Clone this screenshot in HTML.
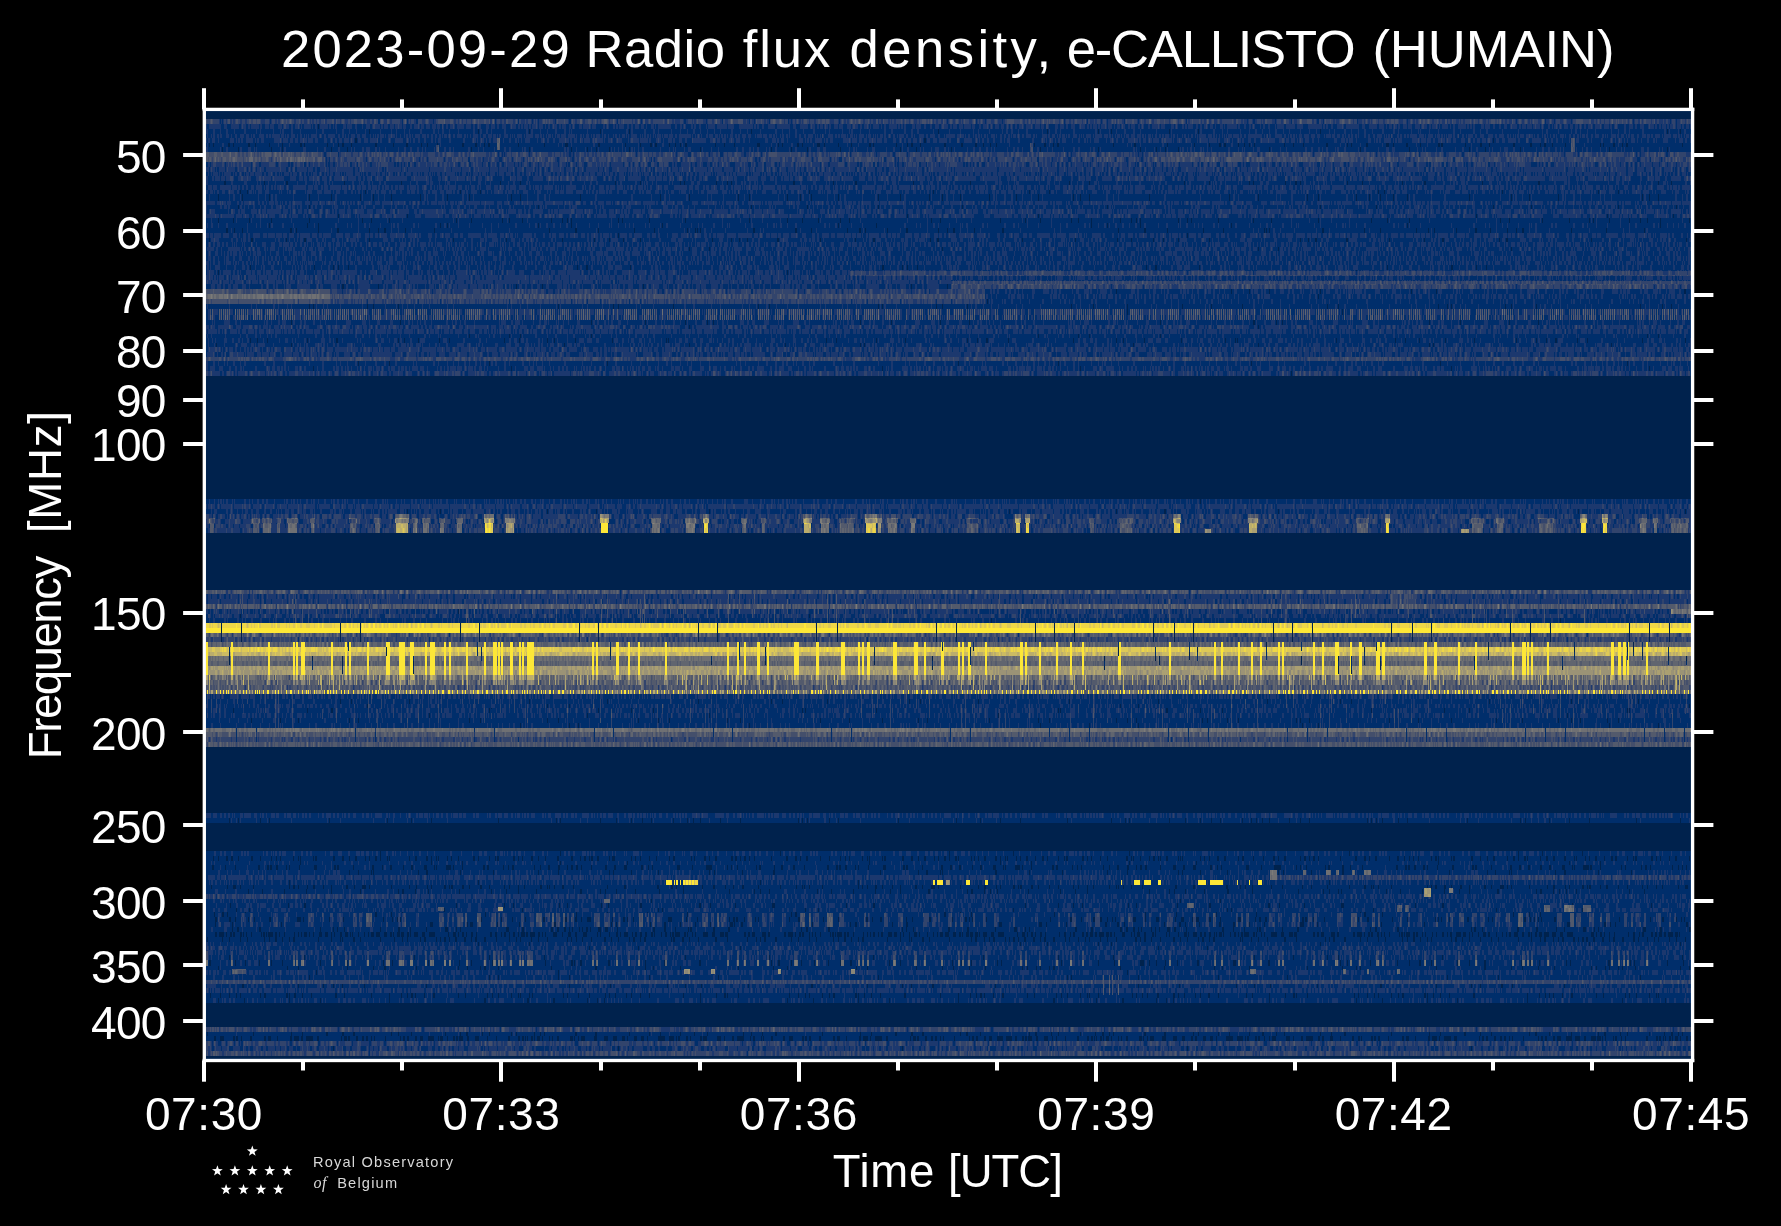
<!DOCTYPE html>
<html><head><meta charset="utf-8"><title>2023-09-29 Radio flux density, e-CALLISTO (HUMAIN)</title>
<style>
html,body{margin:0;padding:0;background:#000;}
body{width:1781px;height:1226px;position:relative;overflow:hidden;font-family:"Liberation Sans",sans-serif;color:#fff;}
.t{position:absolute;white-space:nowrap;line-height:1;}
.yl{right:1615.3px;font-size:46px;transform:translateY(-50%);margin-top:1.5px;letter-spacing:-0.7px;}
.xl{top:1090.5px;font-size:46px;transform:translateX(-50%);letter-spacing:0.6px;}
.lg{font-size:14.6px;letter-spacing:1.2px;color:#d8d8d8;}
</style></head><body>
<svg width="1781" height="1226" viewBox="0 0 1781 1226" style="position:absolute;left:0;top:0">
<defs>
<linearGradient id="g3" x1="0" y1="0" x2="0" y2="1"><stop offset="0" stop-color="rgb(0,0,128)"/><stop offset="1" stop-color="rgb(0,0,80)"/></linearGradient>
<linearGradient id="g4" x1="0" y1="0" x2="0" y2="1"><stop offset="0" stop-color="rgb(0,0,128)"/><stop offset="1" stop-color="rgb(0,0,64)"/></linearGradient>
<linearGradient id="g5" x1="0" y1="0" x2="0" y2="1"><stop offset="0" stop-color="rgb(0,0,128)"/><stop offset="1" stop-color="rgb(0,0,48)"/></linearGradient>
<linearGradient id="g6" x1="0" y1="0" x2="0" y2="1"><stop offset="0" stop-color="rgb(0,0,128)"/><stop offset="1" stop-color="rgb(0,0,32)"/></linearGradient>
<linearGradient id="g7" x1="0" y1="0" x2="0" y2="1"><stop offset="0" stop-color="rgb(0,0,128)"/><stop offset="1" stop-color="rgb(0,0,16)"/></linearGradient>
<linearGradient id="g8" x1="0" y1="0" x2="0" y2="1"><stop offset="0" stop-color="rgb(0,0,128)"/><stop offset="1" stop-color="rgb(0,0,0)"/></linearGradient>
<linearGradient id="g24" x1="0" y1="0" x2="0" y2="1"><stop offset="0" stop-color="rgb(0,0,128)"/><stop offset="1" stop-color="rgb(0,0,0)"/></linearGradient>
<linearGradient id="g28" x1="0" y1="0" x2="0" y2="1"><stop offset="0" stop-color="rgb(0,0,128)"/><stop offset="1" stop-color="rgb(0,0,0)"/></linearGradient>
<linearGradient id="g57" x1="0" y1="0" x2="0" y2="1"><stop offset="0" stop-color="rgb(0,0,128)"/><stop offset="1" stop-color="rgb(0,0,0)"/></linearGradient>
<linearGradient id="g66" x1="0" y1="0" x2="0" y2="1"><stop offset="0" stop-color="rgb(0,0,128)"/><stop offset="1" stop-color="rgb(0,0,0)"/></linearGradient>
<linearGradient id="g123" x1="0" y1="0" x2="0" y2="1"><stop offset="0" stop-color="rgb(0,0,128)"/><stop offset="1" stop-color="rgb(0,0,0)"/></linearGradient>
<filter id="f" filterUnits="userSpaceOnUse" x="206" y="111" width="1485" height="948" color-interpolation-filters="sRGB">
<feTurbulence type="fractalNoise" baseFrequency="0.45 0.63" numOctaves="1" seed="7" result="t"/>
<feColorMatrix in="t" type="matrix" values="1 0 0 0 0 0 1 0 0 0 0 0 1 0 0 0 0 0 0 1" result="t1"/>
<feColorMatrix in="SourceGraphic" type="matrix" values="0 0 0 0 0.502 0 0 1 0 0 0 0 0 0 0 0 0 0 0 1" result="dm"/>
<feDisplacementMap in="t1" in2="dm" scale="16" xChannelSelector="R" yChannelSelector="G" result="nb"/>
<feColorMatrix in="nb" type="matrix" values="1 0 0 0 0 1 0 0 0 0 1 0 0 0 0 0 0 0 0 1" result="n1"/>
<feComponentTransfer in="n1" result="n2"><feFuncR type="table" tableValues="0.000 0.031 0.062 0.094 0.125 0.156 0.188 0.219 0.250 0.281 0.312 0.344 0.375 0.406 0.438 0.469 0.500 0.531 0.562 0.594 0.625 0.668 0.721 0.774 0.827 0.880 0.933 0.986 1.000 1.000 1.000 1.000 1.000"/><feFuncG type="table" tableValues="0.000 0.031 0.062 0.094 0.125 0.156 0.188 0.219 0.250 0.281 0.312 0.344 0.375 0.406 0.438 0.469 0.500 0.531 0.562 0.594 0.625 0.668 0.721 0.774 0.827 0.880 0.933 0.986 1.000 1.000 1.000 1.000 1.000"/><feFuncB type="table" tableValues="0.000 0.031 0.062 0.094 0.125 0.156 0.188 0.219 0.250 0.281 0.312 0.344 0.375 0.406 0.438 0.469 0.500 0.531 0.562 0.594 0.625 0.668 0.721 0.774 0.827 0.880 0.933 0.986 1.000 1.000 1.000 1.000 1.000"/></feComponentTransfer>
<feColorMatrix in="SourceGraphic" type="matrix" values="0 1 0 0 0 0 1 0 0 0 0 1 0 0 0 0 0 0 0 1" result="a"/>
<feColorMatrix in="SourceGraphic" type="matrix" values="1 0 0 0 0 1 0 0 0 0 1 0 0 0 0 0 0 0 0 1" result="m"/>
<feComposite in="a" in2="n2" operator="arithmetic" k1="1" k2="0" k3="0" k4="0" result="an"/>
<feComposite in="m" in2="an" operator="arithmetic" k1="0" k2="1" k3="1" k4="0" result="v"/>
<feComponentTransfer in="v"><feFuncR type="discrete" tableValues="0.0000 0.0000 0.1107 0.1998 0.2677 0.3279 0.3843 0.4385 0.4887 0.5478 0.6091 0.6720 0.7365 0.8027 0.8707 0.9367 0.9957"/><feFuncG type="discrete" tableValues="0.1351 0.1816 0.2232 0.2671 0.3105 0.3540 0.3979 0.4426 0.4853 0.5319 0.5798 0.6293 0.6806 0.7340 0.7896 0.8438 0.9093"/><feFuncB type="discrete" tableValues="0.3048 0.4219 0.4351 0.4255 0.4228 0.4267 0.4365 0.4523 0.4710 0.4717 0.4636 0.4480 0.4240 0.3902 0.3433 0.2809 0.2178"/></feComponentTransfer>
</filter>
</defs>
<g filter="url(#f)" shape-rendering="crispEdges">
<rect x="206" y="111" width="1485" height="8" fill="rgb(8,0,0)"/>
<rect x="206" y="119" width="1485" height="5" fill="rgb(0,100,0)"/>
<rect x="206" y="124" width="1485" height="5" fill="rgb(0,65,0)"/>
<rect x="206" y="129" width="1485" height="5" fill="rgb(0,51,0)"/>
<rect x="206" y="134" width="1485" height="4" fill="rgb(0,60,0)"/>
<rect x="206" y="138" width="1485" height="5" fill="rgb(0,60,0)"/>
<rect x="206" y="143" width="1485" height="4" fill="rgb(0,41,0)"/>
<rect x="206" y="147" width="1485" height="5" fill="rgb(0,49,0)"/>
<rect x="206" y="152" width="1485" height="5" fill="rgb(4,89,0)"/>
<rect x="206" y="157" width="1485" height="5" fill="rgb(4,89,0)"/>
<rect x="206" y="162" width="1485" height="5" fill="rgb(0,79,0)"/>
<rect x="206" y="167" width="1485" height="5" fill="rgb(0,74,0)"/>
<rect x="206" y="172" width="1485" height="4" fill="rgb(0,62,0)"/>
<rect x="206" y="176" width="1485" height="5" fill="rgb(0,67,0)"/>
<rect x="206" y="181" width="1485" height="4" fill="rgb(0,49,0)"/>
<rect x="206" y="185" width="1485" height="5" fill="rgb(0,63,0)"/>
<rect x="206" y="190" width="1485" height="4" fill="rgb(0,58,0)"/>
<rect x="206" y="194" width="1485" height="7" fill="rgb(0,48,0)"/>
<rect x="206" y="201" width="1485" height="4" fill="rgb(0,68,0)"/>
<rect x="206" y="205" width="1485" height="4" fill="rgb(0,53,0)"/>
<rect x="206" y="209" width="1485" height="5" fill="rgb(0,68,0)"/>
<rect x="206" y="214" width="1485" height="4" fill="rgb(0,68,0)"/>
<rect x="206" y="218" width="1485" height="5" fill="rgb(0,43,0)"/>
<rect x="206" y="223" width="1485" height="5" fill="rgb(0,50,0)"/>
<rect x="206" y="228" width="1485" height="5" fill="rgb(0,43,0)"/>
<rect x="206" y="233" width="1485" height="5" fill="rgb(6,51,0)"/>
<rect x="206" y="238" width="1485" height="4" fill="rgb(0,53,0)"/>
<rect x="206" y="242" width="1485" height="5" fill="rgb(0,58,0)"/>
<rect x="206" y="247" width="1485" height="4" fill="rgb(0,58,0)"/>
<rect x="206" y="251" width="1485" height="5" fill="rgb(0,58,0)"/>
<rect x="206" y="256" width="1485" height="5" fill="rgb(0,58,0)"/>
<rect x="206" y="261" width="1485" height="4" fill="rgb(0,58,0)"/>
<rect x="206" y="265" width="1485" height="5" fill="rgb(0,53,0)"/>
<rect x="206" y="270" width="1485" height="5" fill="rgb(0,64,0)"/>
<rect x="206" y="275" width="1485" height="5" fill="rgb(0,70,0)"/>
<rect x="206" y="280" width="1485" height="4" fill="rgb(0,70,0)"/>
<rect x="206" y="284" width="1485" height="5" fill="rgb(0,59,0)"/>
<rect x="206" y="289" width="1485" height="5" fill="rgb(2,89,0)"/>
<rect x="206" y="294" width="1485" height="5" fill="rgb(19,89,0)"/>
<rect x="206" y="299" width="1485" height="5" fill="rgb(2,89,0)"/>
<rect x="206" y="304" width="1485" height="5" fill="rgb(0,47,0)"/>
<rect x="206" y="309" width="1485" height="6" fill="rgb(0,65,0)"/>
<rect x="206" y="315" width="1485" height="5" fill="rgb(0,60,0)"/>
<rect x="206" y="320" width="1485" height="5" fill="rgb(0,51,0)"/>
<rect x="206" y="325" width="1485" height="4" fill="rgb(0,71,0)"/>
<rect x="206" y="329" width="1485" height="5" fill="rgb(0,65,0)"/>
<rect x="206" y="334" width="1485" height="4" fill="rgb(0,51,0)"/>
<rect x="206" y="338" width="1485" height="5" fill="rgb(0,51,0)"/>
<rect x="206" y="343" width="1485" height="4" fill="rgb(0,55,0)"/>
<rect x="206" y="347" width="1485" height="5" fill="rgb(0,71,0)"/>
<rect x="206" y="352" width="1485" height="5" fill="rgb(0,65,0)"/>
<rect x="206" y="357" width="1485" height="4" fill="rgb(16,76,0)"/>
<rect x="206" y="361" width="1485" height="5" fill="rgb(0,51,0)"/>
<rect x="206" y="366" width="1485" height="5" fill="rgb(0,56,0)"/>
<rect x="206" y="371" width="1485" height="5" fill="rgb(0,76,0)"/>
<rect x="206" y="376" width="1485" height="123" fill="rgb(8,0,0)"/>
<rect x="206" y="499" width="1485" height="5" fill="rgb(0,56,0)"/>
<rect x="206" y="504" width="1485" height="5" fill="rgb(0,72,0)"/>
<rect x="206" y="509" width="1485" height="5" fill="rgb(0,56,0)"/>
<rect x="206" y="514" width="1485" height="5" fill="rgb(0,79,0)"/>
<rect x="206" y="519" width="1485" height="5" fill="rgb(0,79,0)"/>
<rect x="206" y="524" width="1485" height="4" fill="rgb(0,79,0)"/>
<rect x="206" y="528" width="1485" height="5" fill="rgb(0,79,0)"/>
<rect x="206" y="533" width="1485" height="57" fill="rgb(8,0,0)"/>
<rect x="206" y="590" width="1485" height="4" fill="rgb(0,141,0)"/>
<rect x="206" y="594" width="1485" height="5" fill="rgb(0,73,0)"/>
<rect x="206" y="599" width="1485" height="5" fill="rgb(0,73,0)"/>
<rect x="206" y="604" width="1485" height="5" fill="rgb(0,155,0)"/>
<rect x="206" y="609" width="1485" height="5" fill="rgb(0,65,0)"/>
<rect x="206" y="614" width="1485" height="4" fill="rgb(0,69,0)"/>
<rect x="206" y="618" width="1485" height="5" fill="rgb(0,54,0)"/>
<rect x="206" y="623" width="1485" height="5" fill="rgb(183,89,0)"/>
<rect x="206" y="628" width="1485" height="5" fill="rgb(255,5,0)"/>
<rect x="206" y="633" width="1485" height="4" fill="rgb(1,153,0)"/>
<rect x="206" y="637" width="1485" height="5" fill="rgb(0,107,0)"/>
<rect x="206" y="642" width="1485" height="5" fill="rgb(26,128,0)"/>
<rect x="206" y="647" width="1485" height="5" fill="rgb(180,76,0)"/>
<rect x="206" y="652" width="1485" height="4" fill="rgb(156,76,0)"/>
<rect x="206" y="656" width="1485" height="5" fill="rgb(68,76,0)"/>
<rect x="206" y="661" width="1485" height="5" fill="rgb(54,76,0)"/>
<rect x="206" y="666" width="1485" height="4" fill="rgb(124,76,0)"/>
<rect x="206" y="670" width="1485" height="5" fill="rgb(124,76,0)"/>
<rect x="206" y="675" width="1485" height="5" fill="rgb(0,203,0)"/>
<rect x="206" y="680" width="1485" height="5" fill="rgb(0,169,0)"/>
<rect x="206" y="685" width="1485" height="5" fill="rgb(0,145,0)"/>
<rect x="206" y="690" width="1485" height="4" fill="rgb(30,153,0)"/>
<rect x="206" y="694" width="1485" height="5" fill="rgb(0,60,0)"/>
<rect x="206" y="699" width="1485" height="5" fill="rgb(0,50,0)"/>
<rect x="206" y="704" width="1485" height="4" fill="rgb(0,54,0)"/>
<rect x="206" y="708" width="1485" height="5" fill="rgb(0,54,0)"/>
<rect x="206" y="713" width="1485" height="5" fill="rgb(0,56,0)"/>
<rect x="206" y="718" width="1485" height="5" fill="rgb(0,46,0)"/>
<rect x="206" y="723" width="1485" height="5" fill="rgb(0,51,0)"/>
<rect x="206" y="728" width="1485" height="4" fill="rgb(71,76,0)"/>
<rect x="206" y="732" width="1485" height="5" fill="rgb(24,107,0)"/>
<rect x="206" y="737" width="1485" height="5" fill="rgb(0,107,0)"/>
<rect x="206" y="742" width="1485" height="5" fill="rgb(20,107,0)"/>
<rect x="206" y="747" width="1485" height="66" fill="rgb(8,0,0)"/>
<rect x="206" y="813" width="1485" height="5" fill="rgb(0,61,0)"/>
<rect x="206" y="818" width="1485" height="5" fill="rgb(0,45,0)"/>
<rect x="206" y="823" width="1485" height="28" fill="rgb(8,0,0)"/>
<rect x="206" y="851" width="1485" height="5" fill="rgb(0,53,0)"/>
<rect x="206" y="856" width="1485" height="5" fill="rgb(0,34,0)"/>
<rect x="206" y="861" width="1485" height="4" fill="rgb(0,52,0)"/>
<rect x="206" y="865" width="1485" height="5" fill="rgb(0,39,0)"/>
<rect x="206" y="870" width="1485" height="5" fill="rgb(0,48,0)"/>
<rect x="206" y="875" width="1485" height="5" fill="rgb(0,59,0)"/>
<rect x="206" y="880" width="1485" height="5" fill="rgb(0,56,0)"/>
<rect x="206" y="885" width="1485" height="4" fill="rgb(0,38,0)"/>
<rect x="206" y="889" width="1485" height="5" fill="rgb(0,45,0)"/>
<rect x="206" y="894" width="1485" height="5" fill="rgb(0,59,0)"/>
<rect x="206" y="899" width="1485" height="4" fill="rgb(0,56,0)"/>
<rect x="206" y="903" width="1485" height="5" fill="rgb(0,52,0)"/>
<rect x="206" y="908" width="1485" height="4" fill="rgb(0,56,0)"/>
<rect x="206" y="912" width="1485" height="5" fill="rgb(0,45,0)"/>
<rect x="206" y="917" width="1485" height="5" fill="rgb(0,39,0)"/>
<rect x="206" y="922" width="1485" height="5" fill="rgb(0,45,0)"/>
<rect x="206" y="927" width="1485" height="5" fill="rgb(0,44,0)"/>
<rect x="206" y="932" width="1485" height="5" fill="rgb(0,32,0)"/>
<rect x="206" y="937" width="1485" height="5" fill="rgb(0,36,0)"/>
<rect x="206" y="942" width="1485" height="4" fill="rgb(0,54,0)"/>
<rect x="206" y="946" width="1485" height="4" fill="rgb(0,59,0)"/>
<rect x="206" y="950" width="1485" height="5" fill="rgb(0,60,0)"/>
<rect x="206" y="955" width="1485" height="5" fill="rgb(0,51,0)"/>
<rect x="206" y="960" width="1485" height="6" fill="rgb(0,48,0)"/>
<rect x="206" y="966" width="1485" height="4" fill="rgb(0,44,0)"/>
<rect x="206" y="970" width="1485" height="5" fill="rgb(0,61,0)"/>
<rect x="206" y="975" width="1485" height="5" fill="rgb(0,51,0)"/>
<rect x="206" y="980" width="1485" height="4" fill="rgb(12,89,0)"/>
<rect x="206" y="984" width="1485" height="4" fill="rgb(0,54,0)"/>
<rect x="206" y="988" width="1485" height="5" fill="rgb(0,64,0)"/>
<rect x="206" y="993" width="1485" height="5" fill="rgb(0,39,0)"/>
<rect x="206" y="998" width="1485" height="5" fill="rgb(0,51,0)"/>
<rect x="206" y="1003" width="1485" height="24" fill="rgb(8,0,0)"/>
<rect x="206" y="1027" width="1485" height="5" fill="rgb(3,102,0)"/>
<rect x="206" y="1032" width="1485" height="4" fill="rgb(0,42,0)"/>
<rect x="206" y="1036" width="1485" height="5" fill="rgb(0,32,0)"/>
<rect x="206" y="1041" width="1485" height="5" fill="rgb(2,89,0)"/>
<rect x="206" y="1046" width="1485" height="5" fill="rgb(0,68,0)"/>
<rect x="206" y="1051" width="1485" height="5" fill="rgb(5,102,0)"/>
<rect x="206" y="1056" width="1485" height="3" fill="rgb(8,0,0)"/>
<rect x="206" y="152" width="116" height="5" fill="rgb(24,89,0)"/>
<rect x="206" y="157" width="116" height="5" fill="rgb(28,89,0)"/>
<rect x="1150" y="152" width="207" height="5" fill="rgb(12,89,0)"/>
<rect x="1150" y="157" width="207" height="5" fill="rgb(16,89,0)"/>
<rect x="1357" y="152" width="279" height="5" fill="rgb(3,89,0)"/>
<rect x="1357" y="157" width="279" height="5" fill="rgb(8,89,0)"/>
<rect x="206" y="289" width="124" height="5" fill="rgb(21,89,0)"/>
<rect x="206" y="294" width="124" height="5" fill="rgb(68,76,0)"/>
<rect x="206" y="299" width="124" height="5" fill="rgb(21,89,0)"/>
<rect x="985" y="289" width="706" height="5" fill="rgb(0,55,0)"/>
<rect x="985" y="294" width="706" height="5" fill="rgb(0,57,0)"/>
<rect x="985" y="299" width="706" height="5" fill="rgb(0,53,0)"/>
<rect x="850" y="271" width="841" height="5" fill="rgb(7,89,0)"/>
<rect x="951" y="281" width="740" height="4" fill="rgb(12,89,0)"/>
<rect x="951" y="285" width="740" height="4" fill="rgb(7,89,0)"/>
<rect x="951" y="276" width="740" height="5" fill="rgb(0,59,0)"/>
<rect x="210" y="309" width="1" height="11" fill="rgb(29,102,0)"/>
<rect x="212" y="309" width="1" height="11" fill="rgb(29,102,0)"/>
<rect x="219" y="309" width="1" height="11" fill="rgb(29,102,0)"/>
<rect x="221" y="309" width="1" height="11" fill="rgb(29,102,0)"/>
<rect x="223" y="309" width="1" height="11" fill="rgb(29,102,0)"/>
<rect x="225" y="309" width="1" height="11" fill="rgb(29,102,0)"/>
<rect x="227" y="309" width="1" height="11" fill="rgb(29,102,0)"/>
<rect x="229" y="309" width="1" height="11" fill="rgb(29,102,0)"/>
<rect x="235" y="309" width="1" height="11" fill="rgb(29,102,0)"/>
<rect x="237" y="309" width="1" height="11" fill="rgb(29,102,0)"/>
<rect x="239" y="309" width="1" height="11" fill="rgb(29,102,0)"/>
<rect x="241" y="309" width="1" height="11" fill="rgb(29,102,0)"/>
<rect x="243" y="309" width="1" height="11" fill="rgb(29,102,0)"/>
<rect x="245" y="309" width="1" height="11" fill="rgb(29,102,0)"/>
<rect x="247" y="309" width="1" height="11" fill="rgb(29,102,0)"/>
<rect x="253" y="309" width="1" height="11" fill="rgb(29,102,0)"/>
<rect x="255" y="309" width="1" height="11" fill="rgb(29,102,0)"/>
<rect x="257" y="309" width="1" height="11" fill="rgb(29,102,0)"/>
<rect x="259" y="309" width="1" height="11" fill="rgb(29,102,0)"/>
<rect x="261" y="309" width="1" height="11" fill="rgb(29,102,0)"/>
<rect x="265" y="309" width="1" height="11" fill="rgb(29,102,0)"/>
<rect x="267" y="309" width="1" height="11" fill="rgb(29,102,0)"/>
<rect x="269" y="309" width="1" height="11" fill="rgb(29,102,0)"/>
<rect x="271" y="309" width="1" height="11" fill="rgb(29,102,0)"/>
<rect x="273" y="309" width="1" height="11" fill="rgb(29,102,0)"/>
<rect x="275" y="309" width="1" height="11" fill="rgb(29,102,0)"/>
<rect x="282" y="309" width="1" height="11" fill="rgb(29,102,0)"/>
<rect x="284" y="309" width="1" height="11" fill="rgb(29,102,0)"/>
<rect x="286" y="309" width="1" height="11" fill="rgb(29,102,0)"/>
<rect x="288" y="309" width="1" height="11" fill="rgb(29,102,0)"/>
<rect x="290" y="309" width="1" height="11" fill="rgb(29,102,0)"/>
<rect x="292" y="309" width="1" height="11" fill="rgb(29,102,0)"/>
<rect x="294" y="309" width="1" height="11" fill="rgb(29,102,0)"/>
<rect x="300" y="309" width="1" height="11" fill="rgb(29,102,0)"/>
<rect x="304" y="309" width="1" height="11" fill="rgb(29,102,0)"/>
<rect x="306" y="309" width="1" height="11" fill="rgb(29,102,0)"/>
<rect x="308" y="309" width="1" height="11" fill="rgb(29,102,0)"/>
<rect x="310" y="309" width="1" height="11" fill="rgb(29,102,0)"/>
<rect x="312" y="309" width="1" height="11" fill="rgb(29,102,0)"/>
<rect x="314" y="309" width="1" height="11" fill="rgb(29,102,0)"/>
<rect x="316" y="309" width="1" height="11" fill="rgb(29,102,0)"/>
<rect x="318" y="309" width="1" height="11" fill="rgb(29,102,0)"/>
<rect x="322" y="309" width="1" height="11" fill="rgb(29,102,0)"/>
<rect x="324" y="309" width="1" height="11" fill="rgb(29,102,0)"/>
<rect x="326" y="309" width="1" height="11" fill="rgb(29,102,0)"/>
<rect x="328" y="309" width="1" height="11" fill="rgb(29,102,0)"/>
<rect x="330" y="309" width="1" height="11" fill="rgb(29,102,0)"/>
<rect x="334" y="309" width="1" height="11" fill="rgb(29,102,0)"/>
<rect x="336" y="309" width="1" height="11" fill="rgb(29,102,0)"/>
<rect x="338" y="309" width="1" height="11" fill="rgb(29,102,0)"/>
<rect x="340" y="309" width="1" height="11" fill="rgb(29,102,0)"/>
<rect x="342" y="309" width="1" height="11" fill="rgb(29,102,0)"/>
<rect x="344" y="309" width="1" height="11" fill="rgb(29,102,0)"/>
<rect x="346" y="309" width="1" height="11" fill="rgb(29,102,0)"/>
<rect x="348" y="309" width="1" height="11" fill="rgb(29,102,0)"/>
<rect x="352" y="309" width="1" height="11" fill="rgb(29,102,0)"/>
<rect x="354" y="309" width="1" height="11" fill="rgb(29,102,0)"/>
<rect x="356" y="309" width="1" height="11" fill="rgb(29,102,0)"/>
<rect x="358" y="309" width="1" height="11" fill="rgb(29,102,0)"/>
<rect x="360" y="309" width="1" height="11" fill="rgb(29,102,0)"/>
<rect x="362" y="309" width="1" height="11" fill="rgb(29,102,0)"/>
<rect x="364" y="309" width="1" height="11" fill="rgb(29,102,0)"/>
<rect x="366" y="309" width="1" height="11" fill="rgb(29,102,0)"/>
<rect x="372" y="309" width="1" height="11" fill="rgb(29,102,0)"/>
<rect x="374" y="309" width="1" height="11" fill="rgb(29,102,0)"/>
<rect x="376" y="309" width="1" height="11" fill="rgb(29,102,0)"/>
<rect x="378" y="309" width="1" height="11" fill="rgb(29,102,0)"/>
<rect x="380" y="309" width="1" height="11" fill="rgb(29,102,0)"/>
<rect x="386" y="309" width="1" height="11" fill="rgb(29,102,0)"/>
<rect x="391" y="309" width="1" height="11" fill="rgb(29,102,0)"/>
<rect x="393" y="309" width="1" height="11" fill="rgb(29,102,0)"/>
<rect x="395" y="309" width="1" height="11" fill="rgb(29,102,0)"/>
<rect x="397" y="309" width="1" height="11" fill="rgb(29,102,0)"/>
<rect x="399" y="309" width="1" height="11" fill="rgb(29,102,0)"/>
<rect x="404" y="309" width="1" height="11" fill="rgb(29,102,0)"/>
<rect x="406" y="309" width="1" height="11" fill="rgb(29,102,0)"/>
<rect x="408" y="309" width="1" height="11" fill="rgb(29,102,0)"/>
<rect x="410" y="309" width="1" height="11" fill="rgb(29,102,0)"/>
<rect x="412" y="309" width="1" height="11" fill="rgb(29,102,0)"/>
<rect x="414" y="309" width="1" height="11" fill="rgb(29,102,0)"/>
<rect x="418" y="309" width="1" height="11" fill="rgb(29,102,0)"/>
<rect x="420" y="309" width="1" height="11" fill="rgb(29,102,0)"/>
<rect x="422" y="309" width="1" height="11" fill="rgb(29,102,0)"/>
<rect x="424" y="309" width="1" height="11" fill="rgb(29,102,0)"/>
<rect x="426" y="309" width="1" height="11" fill="rgb(29,102,0)"/>
<rect x="431" y="309" width="1" height="11" fill="rgb(29,102,0)"/>
<rect x="433" y="309" width="1" height="11" fill="rgb(29,102,0)"/>
<rect x="435" y="309" width="1" height="11" fill="rgb(29,102,0)"/>
<rect x="437" y="309" width="1" height="11" fill="rgb(29,102,0)"/>
<rect x="439" y="309" width="1" height="11" fill="rgb(29,102,0)"/>
<rect x="441" y="309" width="1" height="11" fill="rgb(29,102,0)"/>
<rect x="443" y="309" width="1" height="11" fill="rgb(29,102,0)"/>
<rect x="447" y="309" width="1" height="11" fill="rgb(29,102,0)"/>
<rect x="449" y="309" width="1" height="11" fill="rgb(29,102,0)"/>
<rect x="451" y="309" width="1" height="11" fill="rgb(29,102,0)"/>
<rect x="453" y="309" width="1" height="11" fill="rgb(29,102,0)"/>
<rect x="455" y="309" width="1" height="11" fill="rgb(29,102,0)"/>
<rect x="457" y="309" width="1" height="11" fill="rgb(29,102,0)"/>
<rect x="459" y="309" width="1" height="11" fill="rgb(29,102,0)"/>
<rect x="465" y="309" width="1" height="11" fill="rgb(29,102,0)"/>
<rect x="467" y="309" width="1" height="11" fill="rgb(29,102,0)"/>
<rect x="469" y="309" width="1" height="11" fill="rgb(29,102,0)"/>
<rect x="471" y="309" width="1" height="11" fill="rgb(29,102,0)"/>
<rect x="473" y="309" width="1" height="11" fill="rgb(29,102,0)"/>
<rect x="475" y="309" width="1" height="11" fill="rgb(29,102,0)"/>
<rect x="477" y="309" width="1" height="11" fill="rgb(29,102,0)"/>
<rect x="479" y="309" width="1" height="11" fill="rgb(29,102,0)"/>
<rect x="486" y="309" width="1" height="11" fill="rgb(29,102,0)"/>
<rect x="493" y="309" width="1" height="11" fill="rgb(29,102,0)"/>
<rect x="495" y="309" width="1" height="11" fill="rgb(29,102,0)"/>
<rect x="499" y="309" width="1" height="11" fill="rgb(29,102,0)"/>
<rect x="501" y="309" width="1" height="11" fill="rgb(29,102,0)"/>
<rect x="503" y="309" width="1" height="11" fill="rgb(29,102,0)"/>
<rect x="505" y="309" width="1" height="11" fill="rgb(29,102,0)"/>
<rect x="507" y="309" width="1" height="11" fill="rgb(29,102,0)"/>
<rect x="509" y="309" width="1" height="11" fill="rgb(29,102,0)"/>
<rect x="515" y="309" width="1" height="11" fill="rgb(29,102,0)"/>
<rect x="517" y="309" width="1" height="11" fill="rgb(29,102,0)"/>
<rect x="524" y="309" width="1" height="11" fill="rgb(29,102,0)"/>
<rect x="531" y="309" width="1" height="11" fill="rgb(29,102,0)"/>
<rect x="533" y="309" width="1" height="11" fill="rgb(29,102,0)"/>
<rect x="540" y="309" width="1" height="11" fill="rgb(29,102,0)"/>
<rect x="542" y="309" width="1" height="11" fill="rgb(29,102,0)"/>
<rect x="544" y="309" width="1" height="11" fill="rgb(29,102,0)"/>
<rect x="546" y="309" width="1" height="11" fill="rgb(29,102,0)"/>
<rect x="548" y="309" width="1" height="11" fill="rgb(29,102,0)"/>
<rect x="550" y="309" width="1" height="11" fill="rgb(29,102,0)"/>
<rect x="552" y="309" width="1" height="11" fill="rgb(29,102,0)"/>
<rect x="554" y="309" width="1" height="11" fill="rgb(29,102,0)"/>
<rect x="558" y="309" width="1" height="11" fill="rgb(29,102,0)"/>
<rect x="560" y="309" width="1" height="11" fill="rgb(29,102,0)"/>
<rect x="562" y="309" width="1" height="11" fill="rgb(29,102,0)"/>
<rect x="564" y="309" width="1" height="11" fill="rgb(29,102,0)"/>
<rect x="566" y="309" width="1" height="11" fill="rgb(29,102,0)"/>
<rect x="568" y="309" width="1" height="11" fill="rgb(29,102,0)"/>
<rect x="570" y="309" width="1" height="11" fill="rgb(29,102,0)"/>
<rect x="577" y="309" width="1" height="11" fill="rgb(29,102,0)"/>
<rect x="579" y="309" width="1" height="11" fill="rgb(29,102,0)"/>
<rect x="581" y="309" width="1" height="11" fill="rgb(29,102,0)"/>
<rect x="583" y="309" width="1" height="11" fill="rgb(29,102,0)"/>
<rect x="585" y="309" width="1" height="11" fill="rgb(29,102,0)"/>
<rect x="587" y="309" width="1" height="11" fill="rgb(29,102,0)"/>
<rect x="589" y="309" width="1" height="11" fill="rgb(29,102,0)"/>
<rect x="595" y="309" width="1" height="11" fill="rgb(29,102,0)"/>
<rect x="597" y="309" width="1" height="11" fill="rgb(29,102,0)"/>
<rect x="599" y="309" width="1" height="11" fill="rgb(29,102,0)"/>
<rect x="601" y="309" width="1" height="11" fill="rgb(29,102,0)"/>
<rect x="603" y="309" width="1" height="11" fill="rgb(29,102,0)"/>
<rect x="608" y="309" width="1" height="11" fill="rgb(29,102,0)"/>
<rect x="613" y="309" width="1" height="11" fill="rgb(29,102,0)"/>
<rect x="617" y="309" width="1" height="11" fill="rgb(29,102,0)"/>
<rect x="624" y="309" width="1" height="11" fill="rgb(29,102,0)"/>
<rect x="626" y="309" width="1" height="11" fill="rgb(29,102,0)"/>
<rect x="628" y="309" width="1" height="11" fill="rgb(29,102,0)"/>
<rect x="630" y="309" width="1" height="11" fill="rgb(29,102,0)"/>
<rect x="632" y="309" width="1" height="11" fill="rgb(29,102,0)"/>
<rect x="634" y="309" width="1" height="11" fill="rgb(29,102,0)"/>
<rect x="636" y="309" width="1" height="11" fill="rgb(29,102,0)"/>
<rect x="642" y="309" width="1" height="11" fill="rgb(29,102,0)"/>
<rect x="644" y="309" width="1" height="11" fill="rgb(29,102,0)"/>
<rect x="646" y="309" width="1" height="11" fill="rgb(29,102,0)"/>
<rect x="648" y="309" width="1" height="11" fill="rgb(29,102,0)"/>
<rect x="650" y="309" width="1" height="11" fill="rgb(29,102,0)"/>
<rect x="652" y="309" width="1" height="11" fill="rgb(29,102,0)"/>
<rect x="654" y="309" width="1" height="11" fill="rgb(29,102,0)"/>
<rect x="656" y="309" width="1" height="11" fill="rgb(29,102,0)"/>
<rect x="662" y="309" width="1" height="11" fill="rgb(29,102,0)"/>
<rect x="667" y="309" width="1" height="11" fill="rgb(29,102,0)"/>
<rect x="669" y="309" width="1" height="11" fill="rgb(29,102,0)"/>
<rect x="671" y="309" width="1" height="11" fill="rgb(29,102,0)"/>
<rect x="673" y="309" width="1" height="11" fill="rgb(29,102,0)"/>
<rect x="675" y="309" width="1" height="11" fill="rgb(29,102,0)"/>
<rect x="677" y="309" width="1" height="11" fill="rgb(29,102,0)"/>
<rect x="679" y="309" width="1" height="11" fill="rgb(29,102,0)"/>
<rect x="681" y="309" width="1" height="11" fill="rgb(29,102,0)"/>
<rect x="685" y="309" width="1" height="11" fill="rgb(29,102,0)"/>
<rect x="687" y="309" width="1" height="11" fill="rgb(29,102,0)"/>
<rect x="689" y="309" width="1" height="11" fill="rgb(29,102,0)"/>
<rect x="691" y="309" width="1" height="11" fill="rgb(29,102,0)"/>
<rect x="693" y="309" width="1" height="11" fill="rgb(29,102,0)"/>
<rect x="695" y="309" width="1" height="11" fill="rgb(29,102,0)"/>
<rect x="697" y="309" width="1" height="11" fill="rgb(29,102,0)"/>
<rect x="699" y="309" width="1" height="11" fill="rgb(29,102,0)"/>
<rect x="706" y="309" width="1" height="11" fill="rgb(29,102,0)"/>
<rect x="708" y="309" width="1" height="11" fill="rgb(29,102,0)"/>
<rect x="710" y="309" width="1" height="11" fill="rgb(29,102,0)"/>
<rect x="712" y="309" width="1" height="11" fill="rgb(29,102,0)"/>
<rect x="714" y="309" width="1" height="11" fill="rgb(29,102,0)"/>
<rect x="716" y="309" width="1" height="11" fill="rgb(29,102,0)"/>
<rect x="720" y="309" width="1" height="11" fill="rgb(29,102,0)"/>
<rect x="722" y="309" width="1" height="11" fill="rgb(29,102,0)"/>
<rect x="724" y="309" width="1" height="11" fill="rgb(29,102,0)"/>
<rect x="726" y="309" width="1" height="11" fill="rgb(29,102,0)"/>
<rect x="728" y="309" width="1" height="11" fill="rgb(29,102,0)"/>
<rect x="730" y="309" width="1" height="11" fill="rgb(29,102,0)"/>
<rect x="732" y="309" width="1" height="11" fill="rgb(29,102,0)"/>
<rect x="734" y="309" width="1" height="11" fill="rgb(29,102,0)"/>
<rect x="741" y="309" width="1" height="11" fill="rgb(29,102,0)"/>
<rect x="743" y="309" width="1" height="11" fill="rgb(29,102,0)"/>
<rect x="745" y="309" width="1" height="11" fill="rgb(29,102,0)"/>
<rect x="747" y="309" width="1" height="11" fill="rgb(29,102,0)"/>
<rect x="749" y="309" width="1" height="11" fill="rgb(29,102,0)"/>
<rect x="751" y="309" width="1" height="11" fill="rgb(29,102,0)"/>
<rect x="758" y="309" width="1" height="11" fill="rgb(29,102,0)"/>
<rect x="760" y="309" width="1" height="11" fill="rgb(29,102,0)"/>
<rect x="762" y="309" width="1" height="11" fill="rgb(29,102,0)"/>
<rect x="764" y="309" width="1" height="11" fill="rgb(29,102,0)"/>
<rect x="766" y="309" width="1" height="11" fill="rgb(29,102,0)"/>
<rect x="768" y="309" width="1" height="11" fill="rgb(29,102,0)"/>
<rect x="775" y="309" width="1" height="11" fill="rgb(29,102,0)"/>
<rect x="777" y="309" width="1" height="11" fill="rgb(29,102,0)"/>
<rect x="779" y="309" width="1" height="11" fill="rgb(29,102,0)"/>
<rect x="781" y="309" width="1" height="11" fill="rgb(29,102,0)"/>
<rect x="783" y="309" width="1" height="11" fill="rgb(29,102,0)"/>
<rect x="789" y="309" width="1" height="11" fill="rgb(29,102,0)"/>
<rect x="791" y="309" width="1" height="11" fill="rgb(29,102,0)"/>
<rect x="793" y="309" width="1" height="11" fill="rgb(29,102,0)"/>
<rect x="795" y="309" width="1" height="11" fill="rgb(29,102,0)"/>
<rect x="797" y="309" width="1" height="11" fill="rgb(29,102,0)"/>
<rect x="799" y="309" width="1" height="11" fill="rgb(29,102,0)"/>
<rect x="801" y="309" width="1" height="11" fill="rgb(29,102,0)"/>
<rect x="803" y="309" width="1" height="11" fill="rgb(29,102,0)"/>
<rect x="807" y="309" width="1" height="11" fill="rgb(29,102,0)"/>
<rect x="809" y="309" width="1" height="11" fill="rgb(29,102,0)"/>
<rect x="811" y="309" width="1" height="11" fill="rgb(29,102,0)"/>
<rect x="813" y="309" width="1" height="11" fill="rgb(29,102,0)"/>
<rect x="815" y="309" width="1" height="11" fill="rgb(29,102,0)"/>
<rect x="817" y="309" width="1" height="11" fill="rgb(29,102,0)"/>
<rect x="819" y="309" width="1" height="11" fill="rgb(29,102,0)"/>
<rect x="823" y="309" width="1" height="11" fill="rgb(29,102,0)"/>
<rect x="825" y="309" width="1" height="11" fill="rgb(29,102,0)"/>
<rect x="827" y="309" width="1" height="11" fill="rgb(29,102,0)"/>
<rect x="829" y="309" width="1" height="11" fill="rgb(29,102,0)"/>
<rect x="831" y="309" width="1" height="11" fill="rgb(29,102,0)"/>
<rect x="837" y="309" width="1" height="11" fill="rgb(29,102,0)"/>
<rect x="839" y="309" width="1" height="11" fill="rgb(29,102,0)"/>
<rect x="841" y="309" width="1" height="11" fill="rgb(29,102,0)"/>
<rect x="843" y="309" width="1" height="11" fill="rgb(29,102,0)"/>
<rect x="845" y="309" width="1" height="11" fill="rgb(29,102,0)"/>
<rect x="847" y="309" width="1" height="11" fill="rgb(29,102,0)"/>
<rect x="849" y="309" width="1" height="11" fill="rgb(29,102,0)"/>
<rect x="856" y="309" width="1" height="11" fill="rgb(29,102,0)"/>
<rect x="858" y="309" width="1" height="11" fill="rgb(29,102,0)"/>
<rect x="864" y="309" width="1" height="11" fill="rgb(29,102,0)"/>
<rect x="866" y="309" width="1" height="11" fill="rgb(29,102,0)"/>
<rect x="868" y="309" width="1" height="11" fill="rgb(29,102,0)"/>
<rect x="870" y="309" width="1" height="11" fill="rgb(29,102,0)"/>
<rect x="872" y="309" width="1" height="11" fill="rgb(29,102,0)"/>
<rect x="874" y="309" width="1" height="11" fill="rgb(29,102,0)"/>
<rect x="876" y="309" width="1" height="11" fill="rgb(29,102,0)"/>
<rect x="878" y="309" width="1" height="11" fill="rgb(29,102,0)"/>
<rect x="885" y="309" width="1" height="11" fill="rgb(29,102,0)"/>
<rect x="887" y="309" width="1" height="11" fill="rgb(29,102,0)"/>
<rect x="889" y="309" width="1" height="11" fill="rgb(29,102,0)"/>
<rect x="891" y="309" width="1" height="11" fill="rgb(29,102,0)"/>
<rect x="893" y="309" width="1" height="11" fill="rgb(29,102,0)"/>
<rect x="895" y="309" width="1" height="11" fill="rgb(29,102,0)"/>
<rect x="897" y="309" width="1" height="11" fill="rgb(29,102,0)"/>
<rect x="899" y="309" width="1" height="11" fill="rgb(29,102,0)"/>
<rect x="906" y="309" width="1" height="11" fill="rgb(29,102,0)"/>
<rect x="912" y="309" width="1" height="11" fill="rgb(29,102,0)"/>
<rect x="914" y="309" width="1" height="11" fill="rgb(29,102,0)"/>
<rect x="916" y="309" width="1" height="11" fill="rgb(29,102,0)"/>
<rect x="918" y="309" width="1" height="11" fill="rgb(29,102,0)"/>
<rect x="920" y="309" width="1" height="11" fill="rgb(29,102,0)"/>
<rect x="922" y="309" width="1" height="11" fill="rgb(29,102,0)"/>
<rect x="928" y="309" width="1" height="11" fill="rgb(29,102,0)"/>
<rect x="930" y="309" width="1" height="11" fill="rgb(29,102,0)"/>
<rect x="932" y="309" width="1" height="11" fill="rgb(29,102,0)"/>
<rect x="934" y="309" width="1" height="11" fill="rgb(29,102,0)"/>
<rect x="936" y="309" width="1" height="11" fill="rgb(29,102,0)"/>
<rect x="938" y="309" width="1" height="11" fill="rgb(29,102,0)"/>
<rect x="940" y="309" width="1" height="11" fill="rgb(29,102,0)"/>
<rect x="947" y="309" width="1" height="11" fill="rgb(29,102,0)"/>
<rect x="949" y="309" width="1" height="11" fill="rgb(29,102,0)"/>
<rect x="954" y="309" width="1" height="11" fill="rgb(29,102,0)"/>
<rect x="956" y="309" width="1" height="11" fill="rgb(29,102,0)"/>
<rect x="958" y="309" width="1" height="11" fill="rgb(29,102,0)"/>
<rect x="960" y="309" width="1" height="11" fill="rgb(29,102,0)"/>
<rect x="962" y="309" width="1" height="11" fill="rgb(29,102,0)"/>
<rect x="966" y="309" width="1" height="11" fill="rgb(29,102,0)"/>
<rect x="968" y="309" width="1" height="11" fill="rgb(29,102,0)"/>
<rect x="970" y="309" width="1" height="11" fill="rgb(29,102,0)"/>
<rect x="972" y="309" width="1" height="11" fill="rgb(29,102,0)"/>
<rect x="974" y="309" width="1" height="11" fill="rgb(29,102,0)"/>
<rect x="980" y="309" width="1" height="11" fill="rgb(29,102,0)"/>
<rect x="982" y="309" width="1" height="11" fill="rgb(29,102,0)"/>
<rect x="984" y="309" width="1" height="11" fill="rgb(29,102,0)"/>
<rect x="986" y="309" width="1" height="11" fill="rgb(29,102,0)"/>
<rect x="988" y="309" width="1" height="11" fill="rgb(29,102,0)"/>
<rect x="995" y="309" width="1" height="11" fill="rgb(29,102,0)"/>
<rect x="997" y="309" width="1" height="11" fill="rgb(29,102,0)"/>
<rect x="1004" y="309" width="1" height="11" fill="rgb(29,102,0)"/>
<rect x="1006" y="309" width="1" height="11" fill="rgb(29,102,0)"/>
<rect x="1008" y="309" width="1" height="11" fill="rgb(29,102,0)"/>
<rect x="1010" y="309" width="1" height="11" fill="rgb(29,102,0)"/>
<rect x="1012" y="309" width="1" height="11" fill="rgb(29,102,0)"/>
<rect x="1014" y="309" width="1" height="11" fill="rgb(29,102,0)"/>
<rect x="1016" y="309" width="1" height="11" fill="rgb(29,102,0)"/>
<rect x="1021" y="309" width="1" height="11" fill="rgb(29,102,0)"/>
<rect x="1028" y="309" width="1" height="11" fill="rgb(29,102,0)"/>
<rect x="1034" y="309" width="1" height="11" fill="rgb(29,102,0)"/>
<rect x="1041" y="309" width="1" height="11" fill="rgb(29,102,0)"/>
<rect x="1043" y="309" width="1" height="11" fill="rgb(29,102,0)"/>
<rect x="1045" y="309" width="1" height="11" fill="rgb(29,102,0)"/>
<rect x="1047" y="309" width="1" height="11" fill="rgb(29,102,0)"/>
<rect x="1049" y="309" width="1" height="11" fill="rgb(29,102,0)"/>
<rect x="1051" y="309" width="1" height="11" fill="rgb(29,102,0)"/>
<rect x="1053" y="309" width="1" height="11" fill="rgb(29,102,0)"/>
<rect x="1055" y="309" width="1" height="11" fill="rgb(29,102,0)"/>
<rect x="1060" y="309" width="1" height="11" fill="rgb(29,102,0)"/>
<rect x="1062" y="309" width="1" height="11" fill="rgb(29,102,0)"/>
<rect x="1064" y="309" width="1" height="11" fill="rgb(29,102,0)"/>
<rect x="1066" y="309" width="1" height="11" fill="rgb(29,102,0)"/>
<rect x="1068" y="309" width="1" height="11" fill="rgb(29,102,0)"/>
<rect x="1070" y="309" width="1" height="11" fill="rgb(29,102,0)"/>
<rect x="1072" y="309" width="1" height="11" fill="rgb(29,102,0)"/>
<rect x="1077" y="309" width="1" height="11" fill="rgb(29,102,0)"/>
<rect x="1079" y="309" width="1" height="11" fill="rgb(29,102,0)"/>
<rect x="1081" y="309" width="1" height="11" fill="rgb(29,102,0)"/>
<rect x="1083" y="309" width="1" height="11" fill="rgb(29,102,0)"/>
<rect x="1085" y="309" width="1" height="11" fill="rgb(29,102,0)"/>
<rect x="1087" y="309" width="1" height="11" fill="rgb(29,102,0)"/>
<rect x="1089" y="309" width="1" height="11" fill="rgb(29,102,0)"/>
<rect x="1091" y="309" width="1" height="11" fill="rgb(29,102,0)"/>
<rect x="1095" y="309" width="1" height="11" fill="rgb(29,102,0)"/>
<rect x="1097" y="309" width="1" height="11" fill="rgb(29,102,0)"/>
<rect x="1099" y="309" width="1" height="11" fill="rgb(29,102,0)"/>
<rect x="1101" y="309" width="1" height="11" fill="rgb(29,102,0)"/>
<rect x="1103" y="309" width="1" height="11" fill="rgb(29,102,0)"/>
<rect x="1105" y="309" width="1" height="11" fill="rgb(29,102,0)"/>
<rect x="1107" y="309" width="1" height="11" fill="rgb(29,102,0)"/>
<rect x="1113" y="309" width="1" height="11" fill="rgb(29,102,0)"/>
<rect x="1115" y="309" width="1" height="11" fill="rgb(29,102,0)"/>
<rect x="1117" y="309" width="1" height="11" fill="rgb(29,102,0)"/>
<rect x="1119" y="309" width="1" height="11" fill="rgb(29,102,0)"/>
<rect x="1121" y="309" width="1" height="11" fill="rgb(29,102,0)"/>
<rect x="1123" y="309" width="1" height="11" fill="rgb(29,102,0)"/>
<rect x="1130" y="309" width="1" height="11" fill="rgb(29,102,0)"/>
<rect x="1132" y="309" width="1" height="11" fill="rgb(29,102,0)"/>
<rect x="1134" y="309" width="1" height="11" fill="rgb(29,102,0)"/>
<rect x="1136" y="309" width="1" height="11" fill="rgb(29,102,0)"/>
<rect x="1138" y="309" width="1" height="11" fill="rgb(29,102,0)"/>
<rect x="1140" y="309" width="1" height="11" fill="rgb(29,102,0)"/>
<rect x="1142" y="309" width="1" height="11" fill="rgb(29,102,0)"/>
<rect x="1149" y="309" width="1" height="11" fill="rgb(29,102,0)"/>
<rect x="1153" y="309" width="1" height="11" fill="rgb(29,102,0)"/>
<rect x="1155" y="309" width="1" height="11" fill="rgb(29,102,0)"/>
<rect x="1161" y="309" width="1" height="11" fill="rgb(29,102,0)"/>
<rect x="1163" y="309" width="1" height="11" fill="rgb(29,102,0)"/>
<rect x="1168" y="309" width="1" height="11" fill="rgb(29,102,0)"/>
<rect x="1170" y="309" width="1" height="11" fill="rgb(29,102,0)"/>
<rect x="1172" y="309" width="1" height="11" fill="rgb(29,102,0)"/>
<rect x="1174" y="309" width="1" height="11" fill="rgb(29,102,0)"/>
<rect x="1176" y="309" width="1" height="11" fill="rgb(29,102,0)"/>
<rect x="1178" y="309" width="1" height="11" fill="rgb(29,102,0)"/>
<rect x="1185" y="309" width="1" height="11" fill="rgb(29,102,0)"/>
<rect x="1187" y="309" width="1" height="11" fill="rgb(29,102,0)"/>
<rect x="1189" y="309" width="1" height="11" fill="rgb(29,102,0)"/>
<rect x="1191" y="309" width="1" height="11" fill="rgb(29,102,0)"/>
<rect x="1193" y="309" width="1" height="11" fill="rgb(29,102,0)"/>
<rect x="1195" y="309" width="1" height="11" fill="rgb(29,102,0)"/>
<rect x="1197" y="309" width="1" height="11" fill="rgb(29,102,0)"/>
<rect x="1199" y="309" width="1" height="11" fill="rgb(29,102,0)"/>
<rect x="1205" y="309" width="1" height="11" fill="rgb(29,102,0)"/>
<rect x="1207" y="309" width="1" height="11" fill="rgb(29,102,0)"/>
<rect x="1209" y="309" width="1" height="11" fill="rgb(29,102,0)"/>
<rect x="1211" y="309" width="1" height="11" fill="rgb(29,102,0)"/>
<rect x="1213" y="309" width="1" height="11" fill="rgb(29,102,0)"/>
<rect x="1217" y="309" width="1" height="11" fill="rgb(29,102,0)"/>
<rect x="1219" y="309" width="1" height="11" fill="rgb(29,102,0)"/>
<rect x="1221" y="309" width="1" height="11" fill="rgb(29,102,0)"/>
<rect x="1223" y="309" width="1" height="11" fill="rgb(29,102,0)"/>
<rect x="1225" y="309" width="1" height="11" fill="rgb(29,102,0)"/>
<rect x="1227" y="309" width="1" height="11" fill="rgb(29,102,0)"/>
<rect x="1229" y="309" width="1" height="11" fill="rgb(29,102,0)"/>
<rect x="1231" y="309" width="1" height="11" fill="rgb(29,102,0)"/>
<rect x="1238" y="309" width="1" height="11" fill="rgb(29,102,0)"/>
<rect x="1240" y="309" width="1" height="11" fill="rgb(29,102,0)"/>
<rect x="1242" y="309" width="1" height="11" fill="rgb(29,102,0)"/>
<rect x="1244" y="309" width="1" height="11" fill="rgb(29,102,0)"/>
<rect x="1246" y="309" width="1" height="11" fill="rgb(29,102,0)"/>
<rect x="1248" y="309" width="1" height="11" fill="rgb(29,102,0)"/>
<rect x="1254" y="309" width="1" height="11" fill="rgb(29,102,0)"/>
<rect x="1260" y="309" width="1" height="11" fill="rgb(29,102,0)"/>
<rect x="1266" y="309" width="1" height="11" fill="rgb(29,102,0)"/>
<rect x="1268" y="309" width="1" height="11" fill="rgb(29,102,0)"/>
<rect x="1270" y="309" width="1" height="11" fill="rgb(29,102,0)"/>
<rect x="1272" y="309" width="1" height="11" fill="rgb(29,102,0)"/>
<rect x="1274" y="309" width="1" height="11" fill="rgb(29,102,0)"/>
<rect x="1276" y="309" width="1" height="11" fill="rgb(29,102,0)"/>
<rect x="1278" y="309" width="1" height="11" fill="rgb(29,102,0)"/>
<rect x="1280" y="309" width="1" height="11" fill="rgb(29,102,0)"/>
<rect x="1284" y="309" width="1" height="11" fill="rgb(29,102,0)"/>
<rect x="1286" y="309" width="1" height="11" fill="rgb(29,102,0)"/>
<rect x="1290" y="309" width="1" height="11" fill="rgb(29,102,0)"/>
<rect x="1295" y="309" width="1" height="11" fill="rgb(29,102,0)"/>
<rect x="1297" y="309" width="1" height="11" fill="rgb(29,102,0)"/>
<rect x="1299" y="309" width="1" height="11" fill="rgb(29,102,0)"/>
<rect x="1301" y="309" width="1" height="11" fill="rgb(29,102,0)"/>
<rect x="1303" y="309" width="1" height="11" fill="rgb(29,102,0)"/>
<rect x="1305" y="309" width="1" height="11" fill="rgb(29,102,0)"/>
<rect x="1307" y="309" width="1" height="11" fill="rgb(29,102,0)"/>
<rect x="1309" y="309" width="1" height="11" fill="rgb(29,102,0)"/>
<rect x="1316" y="309" width="1" height="11" fill="rgb(29,102,0)"/>
<rect x="1318" y="309" width="1" height="11" fill="rgb(29,102,0)"/>
<rect x="1320" y="309" width="1" height="11" fill="rgb(29,102,0)"/>
<rect x="1322" y="309" width="1" height="11" fill="rgb(29,102,0)"/>
<rect x="1324" y="309" width="1" height="11" fill="rgb(29,102,0)"/>
<rect x="1329" y="309" width="1" height="11" fill="rgb(29,102,0)"/>
<rect x="1331" y="309" width="1" height="11" fill="rgb(29,102,0)"/>
<rect x="1333" y="309" width="1" height="11" fill="rgb(29,102,0)"/>
<rect x="1335" y="309" width="1" height="11" fill="rgb(29,102,0)"/>
<rect x="1337" y="309" width="1" height="11" fill="rgb(29,102,0)"/>
<rect x="1344" y="309" width="1" height="11" fill="rgb(29,102,0)"/>
<rect x="1350" y="309" width="1" height="11" fill="rgb(29,102,0)"/>
<rect x="1352" y="309" width="1" height="11" fill="rgb(29,102,0)"/>
<rect x="1359" y="309" width="1" height="11" fill="rgb(29,102,0)"/>
<rect x="1361" y="309" width="1" height="11" fill="rgb(29,102,0)"/>
<rect x="1368" y="309" width="1" height="11" fill="rgb(29,102,0)"/>
<rect x="1370" y="309" width="1" height="11" fill="rgb(29,102,0)"/>
<rect x="1372" y="309" width="1" height="11" fill="rgb(29,102,0)"/>
<rect x="1374" y="309" width="1" height="11" fill="rgb(29,102,0)"/>
<rect x="1376" y="309" width="1" height="11" fill="rgb(29,102,0)"/>
<rect x="1378" y="309" width="1" height="11" fill="rgb(29,102,0)"/>
<rect x="1380" y="309" width="1" height="11" fill="rgb(29,102,0)"/>
<rect x="1382" y="309" width="1" height="11" fill="rgb(29,102,0)"/>
<rect x="1387" y="309" width="1" height="11" fill="rgb(29,102,0)"/>
<rect x="1393" y="309" width="1" height="11" fill="rgb(29,102,0)"/>
<rect x="1395" y="309" width="1" height="11" fill="rgb(29,102,0)"/>
<rect x="1397" y="309" width="1" height="11" fill="rgb(29,102,0)"/>
<rect x="1399" y="309" width="1" height="11" fill="rgb(29,102,0)"/>
<rect x="1401" y="309" width="1" height="11" fill="rgb(29,102,0)"/>
<rect x="1403" y="309" width="1" height="11" fill="rgb(29,102,0)"/>
<rect x="1409" y="309" width="1" height="11" fill="rgb(29,102,0)"/>
<rect x="1411" y="309" width="1" height="11" fill="rgb(29,102,0)"/>
<rect x="1413" y="309" width="1" height="11" fill="rgb(29,102,0)"/>
<rect x="1415" y="309" width="1" height="11" fill="rgb(29,102,0)"/>
<rect x="1417" y="309" width="1" height="11" fill="rgb(29,102,0)"/>
<rect x="1419" y="309" width="1" height="11" fill="rgb(29,102,0)"/>
<rect x="1426" y="309" width="1" height="11" fill="rgb(29,102,0)"/>
<rect x="1428" y="309" width="1" height="11" fill="rgb(29,102,0)"/>
<rect x="1430" y="309" width="1" height="11" fill="rgb(29,102,0)"/>
<rect x="1432" y="309" width="1" height="11" fill="rgb(29,102,0)"/>
<rect x="1434" y="309" width="1" height="11" fill="rgb(29,102,0)"/>
<rect x="1441" y="309" width="1" height="11" fill="rgb(29,102,0)"/>
<rect x="1443" y="309" width="1" height="11" fill="rgb(29,102,0)"/>
<rect x="1448" y="309" width="1" height="11" fill="rgb(29,102,0)"/>
<rect x="1452" y="309" width="1" height="11" fill="rgb(29,102,0)"/>
<rect x="1454" y="309" width="1" height="11" fill="rgb(29,102,0)"/>
<rect x="1459" y="309" width="1" height="11" fill="rgb(29,102,0)"/>
<rect x="1461" y="309" width="1" height="11" fill="rgb(29,102,0)"/>
<rect x="1463" y="309" width="1" height="11" fill="rgb(29,102,0)"/>
<rect x="1465" y="309" width="1" height="11" fill="rgb(29,102,0)"/>
<rect x="1467" y="309" width="1" height="11" fill="rgb(29,102,0)"/>
<rect x="1469" y="309" width="1" height="11" fill="rgb(29,102,0)"/>
<rect x="1476" y="309" width="1" height="11" fill="rgb(29,102,0)"/>
<rect x="1478" y="309" width="1" height="11" fill="rgb(29,102,0)"/>
<rect x="1480" y="309" width="1" height="11" fill="rgb(29,102,0)"/>
<rect x="1482" y="309" width="1" height="11" fill="rgb(29,102,0)"/>
<rect x="1484" y="309" width="1" height="11" fill="rgb(29,102,0)"/>
<rect x="1486" y="309" width="1" height="11" fill="rgb(29,102,0)"/>
<rect x="1488" y="309" width="1" height="11" fill="rgb(29,102,0)"/>
<rect x="1495" y="309" width="1" height="11" fill="rgb(29,102,0)"/>
<rect x="1502" y="309" width="1" height="11" fill="rgb(29,102,0)"/>
<rect x="1504" y="309" width="1" height="11" fill="rgb(29,102,0)"/>
<rect x="1506" y="309" width="1" height="11" fill="rgb(29,102,0)"/>
<rect x="1508" y="309" width="1" height="11" fill="rgb(29,102,0)"/>
<rect x="1510" y="309" width="1" height="11" fill="rgb(29,102,0)"/>
<rect x="1512" y="309" width="1" height="11" fill="rgb(29,102,0)"/>
<rect x="1518" y="309" width="1" height="11" fill="rgb(29,102,0)"/>
<rect x="1524" y="309" width="1" height="11" fill="rgb(29,102,0)"/>
<rect x="1526" y="309" width="1" height="11" fill="rgb(29,102,0)"/>
<rect x="1533" y="309" width="1" height="11" fill="rgb(29,102,0)"/>
<rect x="1535" y="309" width="1" height="11" fill="rgb(29,102,0)"/>
<rect x="1537" y="309" width="1" height="11" fill="rgb(29,102,0)"/>
<rect x="1539" y="309" width="1" height="11" fill="rgb(29,102,0)"/>
<rect x="1541" y="309" width="1" height="11" fill="rgb(29,102,0)"/>
<rect x="1543" y="309" width="1" height="11" fill="rgb(29,102,0)"/>
<rect x="1550" y="309" width="1" height="11" fill="rgb(29,102,0)"/>
<rect x="1552" y="309" width="1" height="11" fill="rgb(29,102,0)"/>
<rect x="1554" y="309" width="1" height="11" fill="rgb(29,102,0)"/>
<rect x="1556" y="309" width="1" height="11" fill="rgb(29,102,0)"/>
<rect x="1558" y="309" width="1" height="11" fill="rgb(29,102,0)"/>
<rect x="1560" y="309" width="1" height="11" fill="rgb(29,102,0)"/>
<rect x="1562" y="309" width="1" height="11" fill="rgb(29,102,0)"/>
<rect x="1569" y="309" width="1" height="11" fill="rgb(29,102,0)"/>
<rect x="1571" y="309" width="1" height="11" fill="rgb(29,102,0)"/>
<rect x="1573" y="309" width="1" height="11" fill="rgb(29,102,0)"/>
<rect x="1575" y="309" width="1" height="11" fill="rgb(29,102,0)"/>
<rect x="1577" y="309" width="1" height="11" fill="rgb(29,102,0)"/>
<rect x="1579" y="309" width="1" height="11" fill="rgb(29,102,0)"/>
<rect x="1583" y="309" width="1" height="11" fill="rgb(29,102,0)"/>
<rect x="1585" y="309" width="1" height="11" fill="rgb(29,102,0)"/>
<rect x="1587" y="309" width="1" height="11" fill="rgb(29,102,0)"/>
<rect x="1589" y="309" width="1" height="11" fill="rgb(29,102,0)"/>
<rect x="1591" y="309" width="1" height="11" fill="rgb(29,102,0)"/>
<rect x="1593" y="309" width="1" height="11" fill="rgb(29,102,0)"/>
<rect x="1595" y="309" width="1" height="11" fill="rgb(29,102,0)"/>
<rect x="1600" y="309" width="1" height="11" fill="rgb(29,102,0)"/>
<rect x="1602" y="309" width="1" height="11" fill="rgb(29,102,0)"/>
<rect x="1604" y="309" width="1" height="11" fill="rgb(29,102,0)"/>
<rect x="1606" y="309" width="1" height="11" fill="rgb(29,102,0)"/>
<rect x="1608" y="309" width="1" height="11" fill="rgb(29,102,0)"/>
<rect x="1610" y="309" width="1" height="11" fill="rgb(29,102,0)"/>
<rect x="1612" y="309" width="1" height="11" fill="rgb(29,102,0)"/>
<rect x="1614" y="309" width="1" height="11" fill="rgb(29,102,0)"/>
<rect x="1620" y="309" width="1" height="11" fill="rgb(29,102,0)"/>
<rect x="1622" y="309" width="1" height="11" fill="rgb(29,102,0)"/>
<rect x="1624" y="309" width="1" height="11" fill="rgb(29,102,0)"/>
<rect x="1626" y="309" width="1" height="11" fill="rgb(29,102,0)"/>
<rect x="1628" y="309" width="1" height="11" fill="rgb(29,102,0)"/>
<rect x="1635" y="309" width="1" height="11" fill="rgb(29,102,0)"/>
<rect x="1637" y="309" width="1" height="11" fill="rgb(29,102,0)"/>
<rect x="1639" y="309" width="1" height="11" fill="rgb(29,102,0)"/>
<rect x="1641" y="309" width="1" height="11" fill="rgb(29,102,0)"/>
<rect x="1643" y="309" width="1" height="11" fill="rgb(29,102,0)"/>
<rect x="1649" y="309" width="1" height="11" fill="rgb(29,102,0)"/>
<rect x="1651" y="309" width="1" height="11" fill="rgb(29,102,0)"/>
<rect x="1653" y="309" width="1" height="11" fill="rgb(29,102,0)"/>
<rect x="1655" y="309" width="1" height="11" fill="rgb(29,102,0)"/>
<rect x="1657" y="309" width="1" height="11" fill="rgb(29,102,0)"/>
<rect x="1662" y="309" width="1" height="11" fill="rgb(29,102,0)"/>
<rect x="1664" y="309" width="1" height="11" fill="rgb(29,102,0)"/>
<rect x="1668" y="309" width="1" height="11" fill="rgb(29,102,0)"/>
<rect x="1670" y="309" width="1" height="11" fill="rgb(29,102,0)"/>
<rect x="1672" y="309" width="1" height="11" fill="rgb(29,102,0)"/>
<rect x="1674" y="309" width="1" height="11" fill="rgb(29,102,0)"/>
<rect x="1676" y="309" width="1" height="11" fill="rgb(29,102,0)"/>
<rect x="1682" y="309" width="1" height="11" fill="rgb(29,102,0)"/>
<rect x="1684" y="309" width="1" height="11" fill="rgb(29,102,0)"/>
<rect x="1686" y="309" width="1" height="11" fill="rgb(29,102,0)"/>
<rect x="1688" y="309" width="1" height="11" fill="rgb(29,102,0)"/>
<rect x="208.6" y="514" width="6.2" height="4" fill="rgb(0,83,0)"/>
<rect x="208.6" y="518" width="6.2" height="5" fill="rgb(8,128,0)"/>
<rect x="209.6" y="523" width="4.2" height="5" fill="rgb(36,102,0)"/>
<rect x="209.6" y="528" width="4.2" height="5" fill="rgb(36,102,0)"/>
<rect x="252" y="514" width="7.7" height="4" fill="rgb(0,83,0)"/>
<rect x="252" y="518" width="7.7" height="5" fill="rgb(8,128,0)"/>
<rect x="253" y="523" width="5.7" height="5" fill="rgb(36,102,0)"/>
<rect x="253" y="528" width="5.7" height="5" fill="rgb(36,102,0)"/>
<rect x="262" y="514" width="10.4" height="4" fill="rgb(0,86,0)"/>
<rect x="262" y="518" width="10.4" height="5" fill="rgb(14,128,0)"/>
<rect x="263" y="523" width="8.4" height="5" fill="rgb(44,102,0)"/>
<rect x="263" y="528" width="8.4" height="5" fill="rgb(44,102,0)"/>
<rect x="276" y="514" width="4.8" height="4" fill="rgb(0,83,0)"/>
<rect x="276" y="518" width="4.8" height="5" fill="rgb(8,128,0)"/>
<rect x="277" y="523" width="2.8" height="5" fill="rgb(36,102,0)"/>
<rect x="277" y="528" width="2.8" height="5" fill="rgb(36,102,0)"/>
<rect x="287.2" y="514" width="10.4" height="4" fill="rgb(0,90,0)"/>
<rect x="287.2" y="518" width="10.4" height="5" fill="rgb(19,128,0)"/>
<rect x="288.2" y="523" width="8.4" height="5" fill="rgb(52,102,0)"/>
<rect x="288.2" y="528" width="8.4" height="5" fill="rgb(52,102,0)"/>
<rect x="309.7" y="514" width="4.8" height="4" fill="rgb(0,83,0)"/>
<rect x="309.7" y="518" width="4.8" height="5" fill="rgb(8,128,0)"/>
<rect x="310.7" y="523" width="2.8" height="5" fill="rgb(36,102,0)"/>
<rect x="310.7" y="528" width="2.8" height="5" fill="rgb(36,102,0)"/>
<rect x="349" y="514" width="7.6" height="4" fill="rgb(0,83,0)"/>
<rect x="349" y="518" width="7.6" height="5" fill="rgb(8,128,0)"/>
<rect x="350" y="523" width="5.6" height="5" fill="rgb(36,102,0)"/>
<rect x="350" y="528" width="5.6" height="5" fill="rgb(36,102,0)"/>
<rect x="374.3" y="514" width="6.2" height="4" fill="rgb(0,83,0)"/>
<rect x="374.3" y="518" width="6.2" height="5" fill="rgb(8,128,0)"/>
<rect x="375.3" y="523" width="4.2" height="5" fill="rgb(36,102,0)"/>
<rect x="375.3" y="528" width="4.2" height="5" fill="rgb(36,102,0)"/>
<rect x="395.3" y="514" width="13.2" height="4" fill="rgb(25,128,0)"/>
<rect x="395.3" y="518" width="13.2" height="5" fill="rgb(79,128,0)"/>
<rect x="396.3" y="523" width="11.2" height="5" fill="rgb(142,102,0)"/>
<rect x="396.3" y="528" width="11.2" height="5" fill="rgb(142,102,0)"/>
<rect x="412.2" y="514" width="6.2" height="4" fill="rgb(0,90,0)"/>
<rect x="412.2" y="518" width="6.2" height="5" fill="rgb(19,128,0)"/>
<rect x="413.2" y="523" width="4.2" height="5" fill="rgb(52,102,0)"/>
<rect x="413.2" y="528" width="4.2" height="5" fill="rgb(52,102,0)"/>
<rect x="422" y="514" width="7.6" height="4" fill="rgb(0,90,0)"/>
<rect x="422" y="518" width="7.6" height="5" fill="rgb(19,128,0)"/>
<rect x="423" y="523" width="5.6" height="5" fill="rgb(52,102,0)"/>
<rect x="423" y="528" width="5.6" height="5" fill="rgb(52,102,0)"/>
<rect x="438.8" y="514" width="6.2" height="4" fill="rgb(0,90,0)"/>
<rect x="438.8" y="518" width="6.2" height="5" fill="rgb(19,128,0)"/>
<rect x="439.8" y="523" width="4.2" height="5" fill="rgb(52,102,0)"/>
<rect x="439.8" y="528" width="4.2" height="5" fill="rgb(52,102,0)"/>
<rect x="455.7" y="514" width="7.6" height="4" fill="rgb(0,90,0)"/>
<rect x="455.7" y="518" width="7.6" height="5" fill="rgb(19,128,0)"/>
<rect x="456.7" y="523" width="5.6" height="5" fill="rgb(52,102,0)"/>
<rect x="456.7" y="528" width="5.6" height="5" fill="rgb(52,102,0)"/>
<rect x="483.7" y="514" width="10.5" height="4" fill="rgb(49,128,0)"/>
<rect x="483.7" y="518" width="10.5" height="5" fill="rgb(101,128,0)"/>
<rect x="484.7" y="523" width="8.5" height="5" fill="rgb(175,102,0)"/>
<rect x="484.7" y="528" width="8.5" height="5" fill="rgb(175,102,0)"/>
<rect x="504.8" y="514" width="10.4" height="4" fill="rgb(5,128,0)"/>
<rect x="504.8" y="518" width="10.4" height="5" fill="rgb(57,128,0)"/>
<rect x="505.8" y="523" width="8.4" height="5" fill="rgb(109,102,0)"/>
<rect x="505.8" y="528" width="8.4" height="5" fill="rgb(109,102,0)"/>
<rect x="600.2" y="514" width="9.1" height="4" fill="rgb(67,128,0)"/>
<rect x="600.2" y="518" width="9.1" height="5" fill="rgb(115,128,0)"/>
<rect x="601.2" y="523" width="7.1" height="5" fill="rgb(255,102,0)"/>
<rect x="601.2" y="528" width="7.1" height="5" fill="rgb(255,102,0)"/>
<rect x="650.8" y="514" width="10.4" height="4" fill="rgb(0,96,0)"/>
<rect x="650.8" y="518" width="10.4" height="5" fill="rgb(25,128,0)"/>
<rect x="651.8" y="523" width="8.4" height="5" fill="rgb(60,102,0)"/>
<rect x="651.8" y="528" width="8.4" height="5" fill="rgb(60,102,0)"/>
<rect x="684.5" y="514" width="11.8" height="4" fill="rgb(0,96,0)"/>
<rect x="684.5" y="518" width="11.8" height="5" fill="rgb(25,128,0)"/>
<rect x="685.5" y="523" width="9.8" height="5" fill="rgb(60,102,0)"/>
<rect x="685.5" y="528" width="9.8" height="5" fill="rgb(60,102,0)"/>
<rect x="703.2" y="514" width="6.2" height="4" fill="rgb(49,128,0)"/>
<rect x="703.2" y="518" width="6.2" height="5" fill="rgb(101,128,0)"/>
<rect x="704.2" y="523" width="4.2" height="5" fill="rgb(175,102,0)"/>
<rect x="704.2" y="528" width="4.2" height="5" fill="rgb(175,102,0)"/>
<rect x="741" y="514" width="6" height="4" fill="rgb(0,86,0)"/>
<rect x="741" y="518" width="6" height="5" fill="rgb(14,128,0)"/>
<rect x="742" y="523" width="4" height="5" fill="rgb(44,102,0)"/>
<rect x="742" y="528" width="4" height="5" fill="rgb(44,102,0)"/>
<rect x="760.8" y="514" width="4.8" height="4" fill="rgb(0,86,0)"/>
<rect x="760.8" y="518" width="4.8" height="5" fill="rgb(14,128,0)"/>
<rect x="761.8" y="523" width="2.8" height="5" fill="rgb(44,102,0)"/>
<rect x="761.8" y="528" width="2.8" height="5" fill="rgb(44,102,0)"/>
<rect x="802.9" y="514" width="9" height="4" fill="rgb(25,128,0)"/>
<rect x="802.9" y="518" width="9" height="5" fill="rgb(79,128,0)"/>
<rect x="803.9" y="523" width="7" height="5" fill="rgb(142,102,0)"/>
<rect x="803.9" y="528" width="7" height="5" fill="rgb(142,102,0)"/>
<rect x="819.7" y="514" width="10.3" height="4" fill="rgb(0,101,0)"/>
<rect x="819.7" y="518" width="10.3" height="5" fill="rgb(30,128,0)"/>
<rect x="820.7" y="523" width="8.3" height="5" fill="rgb(68,102,0)"/>
<rect x="820.7" y="528" width="8.3" height="5" fill="rgb(68,102,0)"/>
<rect x="839" y="514" width="16" height="4" fill="rgb(0,83,0)"/>
<rect x="839" y="518" width="16" height="5" fill="rgb(8,128,0)"/>
<rect x="840" y="523" width="14" height="5" fill="rgb(36,102,0)"/>
<rect x="840" y="528" width="14" height="5" fill="rgb(36,102,0)"/>
<rect x="864.6" y="514" width="11.9" height="4" fill="rgb(41,128,0)"/>
<rect x="864.6" y="518" width="11.9" height="5" fill="rgb(93,128,0)"/>
<rect x="865.6" y="523" width="9.9" height="5" fill="rgb(163,102,0)"/>
<rect x="865.6" y="528" width="9.9" height="5" fill="rgb(163,102,0)"/>
<rect x="877.3" y="514" width="4.7" height="4" fill="rgb(5,128,0)"/>
<rect x="877.3" y="518" width="4.7" height="5" fill="rgb(57,128,0)"/>
<rect x="878.3" y="523" width="2.7" height="5" fill="rgb(109,102,0)"/>
<rect x="878.3" y="528" width="2.7" height="5" fill="rgb(109,102,0)"/>
<rect x="887" y="514" width="10.5" height="4" fill="rgb(0,96,0)"/>
<rect x="887" y="518" width="10.5" height="5" fill="rgb(25,128,0)"/>
<rect x="888" y="523" width="8.5" height="5" fill="rgb(60,102,0)"/>
<rect x="888" y="528" width="8.5" height="5" fill="rgb(60,102,0)"/>
<rect x="909.5" y="514" width="6.3" height="4" fill="rgb(0,101,0)"/>
<rect x="909.5" y="518" width="6.3" height="5" fill="rgb(30,128,0)"/>
<rect x="910.5" y="523" width="4.3" height="5" fill="rgb(68,102,0)"/>
<rect x="910.5" y="528" width="4.3" height="5" fill="rgb(68,102,0)"/>
<rect x="965.7" y="514" width="13.3" height="4" fill="rgb(0,79,0)"/>
<rect x="965.7" y="518" width="13.3" height="5" fill="rgb(3,128,0)"/>
<rect x="966.7" y="523" width="11.3" height="5" fill="rgb(27,102,0)"/>
<rect x="966.7" y="528" width="11.3" height="5" fill="rgb(27,102,0)"/>
<rect x="1014.8" y="514" width="6.2" height="4" fill="rgb(41,128,0)"/>
<rect x="1014.8" y="518" width="6.2" height="5" fill="rgb(93,128,0)"/>
<rect x="1015.8" y="523" width="4.2" height="5" fill="rgb(163,102,0)"/>
<rect x="1015.8" y="528" width="4.2" height="5" fill="rgb(163,102,0)"/>
<rect x="1024.7" y="514" width="5.3" height="4" fill="rgb(49,128,0)"/>
<rect x="1024.7" y="518" width="5.3" height="5" fill="rgb(101,128,0)"/>
<rect x="1025.7" y="523" width="3.3" height="5" fill="rgb(175,102,0)"/>
<rect x="1025.7" y="528" width="3.3" height="5" fill="rgb(175,102,0)"/>
<rect x="1089" y="514" width="6" height="4" fill="rgb(0,79,0)"/>
<rect x="1089" y="518" width="6" height="5" fill="rgb(3,128,0)"/>
<rect x="1090" y="523" width="4" height="5" fill="rgb(27,102,0)"/>
<rect x="1090" y="528" width="4" height="5" fill="rgb(27,102,0)"/>
<rect x="1119" y="514" width="14" height="4" fill="rgb(0,79,0)"/>
<rect x="1119" y="518" width="14" height="5" fill="rgb(3,128,0)"/>
<rect x="1120" y="523" width="12" height="5" fill="rgb(27,102,0)"/>
<rect x="1120" y="528" width="12" height="5" fill="rgb(27,102,0)"/>
<rect x="1173.4" y="514" width="7.6" height="4" fill="rgb(49,128,0)"/>
<rect x="1173.4" y="518" width="7.6" height="5" fill="rgb(101,128,0)"/>
<rect x="1174.4" y="523" width="5.6" height="5" fill="rgb(175,102,0)"/>
<rect x="1174.4" y="528" width="5.6" height="5" fill="rgb(175,102,0)"/>
<rect x="1247.7" y="514" width="10.3" height="4" fill="rgb(18,128,0)"/>
<rect x="1247.7" y="518" width="10.3" height="5" fill="rgb(72,128,0)"/>
<rect x="1248.7" y="523" width="8.3" height="5" fill="rgb(131,102,0)"/>
<rect x="1248.7" y="528" width="8.3" height="5" fill="rgb(131,102,0)"/>
<rect x="1356" y="514" width="13" height="4" fill="rgb(0,83,0)"/>
<rect x="1356" y="518" width="13" height="5" fill="rgb(8,128,0)"/>
<rect x="1357" y="523" width="11" height="5" fill="rgb(36,102,0)"/>
<rect x="1357" y="528" width="11" height="5" fill="rgb(36,102,0)"/>
<rect x="1384.7" y="514" width="4.8" height="4" fill="rgb(49,128,0)"/>
<rect x="1384.7" y="518" width="4.8" height="5" fill="rgb(101,128,0)"/>
<rect x="1385.7" y="523" width="2.8" height="5" fill="rgb(175,102,0)"/>
<rect x="1385.7" y="528" width="2.8" height="5" fill="rgb(175,102,0)"/>
<rect x="1471" y="514" width="13" height="4" fill="rgb(0,83,0)"/>
<rect x="1471" y="518" width="13" height="5" fill="rgb(8,128,0)"/>
<rect x="1472" y="523" width="11" height="5" fill="rgb(36,102,0)"/>
<rect x="1472" y="528" width="11" height="5" fill="rgb(36,102,0)"/>
<rect x="1496" y="514" width="8" height="4" fill="rgb(0,86,0)"/>
<rect x="1496" y="518" width="8" height="5" fill="rgb(14,128,0)"/>
<rect x="1497" y="523" width="6" height="5" fill="rgb(44,102,0)"/>
<rect x="1497" y="528" width="6" height="5" fill="rgb(44,102,0)"/>
<rect x="1538" y="514" width="16" height="4" fill="rgb(0,83,0)"/>
<rect x="1538" y="518" width="16" height="5" fill="rgb(8,128,0)"/>
<rect x="1539" y="523" width="14" height="5" fill="rgb(36,102,0)"/>
<rect x="1539" y="528" width="14" height="5" fill="rgb(36,102,0)"/>
<rect x="1580.4" y="514" width="6.2" height="4" fill="rgb(58,128,0)"/>
<rect x="1580.4" y="518" width="6.2" height="5" fill="rgb(108,128,0)"/>
<rect x="1581.4" y="523" width="4.2" height="5" fill="rgb(186,102,0)"/>
<rect x="1581.4" y="528" width="4.2" height="5" fill="rgb(186,102,0)"/>
<rect x="1601.5" y="514" width="6.2" height="4" fill="rgb(58,128,0)"/>
<rect x="1601.5" y="518" width="6.2" height="5" fill="rgb(108,128,0)"/>
<rect x="1602.5" y="523" width="4.2" height="5" fill="rgb(186,102,0)"/>
<rect x="1602.5" y="528" width="4.2" height="5" fill="rgb(186,102,0)"/>
<rect x="1639" y="514" width="8" height="4" fill="rgb(0,96,0)"/>
<rect x="1639" y="518" width="8" height="5" fill="rgb(25,128,0)"/>
<rect x="1640" y="523" width="6" height="5" fill="rgb(60,102,0)"/>
<rect x="1640" y="528" width="6" height="5" fill="rgb(60,102,0)"/>
<rect x="1653" y="514" width="5" height="4" fill="rgb(0,96,0)"/>
<rect x="1653" y="518" width="5" height="5" fill="rgb(25,128,0)"/>
<rect x="1654" y="523" width="3" height="5" fill="rgb(60,102,0)"/>
<rect x="1654" y="528" width="3" height="5" fill="rgb(60,102,0)"/>
<rect x="1670" y="514" width="19" height="4" fill="rgb(0,83,0)"/>
<rect x="1670" y="518" width="19" height="5" fill="rgb(8,128,0)"/>
<rect x="1671" y="523" width="17" height="5" fill="rgb(36,102,0)"/>
<rect x="1671" y="528" width="17" height="5" fill="rgb(36,102,0)"/>
<rect x="1205" y="529" width="6" height="4" fill="rgb(125,51,0)"/>
<rect x="1460.7" y="529" width="8.3" height="4" fill="rgb(138,51,0)"/>
<rect x="221" y="623" width="1" height="19" fill="rgb(8,0,0)"/>
<rect x="241" y="623" width="1" height="19" fill="rgb(8,0,0)"/>
<rect x="340" y="623" width="1" height="19" fill="rgb(8,0,0)"/>
<rect x="360" y="623" width="1" height="19" fill="rgb(8,0,0)"/>
<rect x="460" y="623" width="1" height="19" fill="rgb(8,0,0)"/>
<rect x="479" y="623" width="1" height="19" fill="rgb(8,0,0)"/>
<rect x="579" y="623" width="1" height="19" fill="rgb(8,0,0)"/>
<rect x="598" y="623" width="1" height="19" fill="rgb(8,0,0)"/>
<rect x="698" y="623" width="1" height="19" fill="rgb(8,0,0)"/>
<rect x="717" y="623" width="1" height="19" fill="rgb(8,0,0)"/>
<rect x="816" y="623" width="1" height="19" fill="rgb(8,0,0)"/>
<rect x="837" y="623" width="1" height="19" fill="rgb(8,0,0)"/>
<rect x="936" y="623" width="1" height="19" fill="rgb(8,0,0)"/>
<rect x="956" y="623" width="1" height="19" fill="rgb(8,0,0)"/>
<rect x="1035" y="623" width="1" height="19" fill="rgb(8,0,0)"/>
<rect x="1054" y="623" width="1" height="19" fill="rgb(8,0,0)"/>
<rect x="1074" y="623" width="1" height="19" fill="rgb(8,0,0)"/>
<rect x="1153" y="623" width="1" height="19" fill="rgb(8,0,0)"/>
<rect x="1174" y="623" width="1" height="19" fill="rgb(8,0,0)"/>
<rect x="1193" y="623" width="1" height="19" fill="rgb(8,0,0)"/>
<rect x="1273" y="623" width="1" height="19" fill="rgb(8,0,0)"/>
<rect x="1292" y="623" width="1" height="19" fill="rgb(8,0,0)"/>
<rect x="1312" y="623" width="1" height="19" fill="rgb(8,0,0)"/>
<rect x="1391" y="623" width="1" height="19" fill="rgb(8,0,0)"/>
<rect x="1412" y="623" width="1" height="19" fill="rgb(8,0,0)"/>
<rect x="1431" y="623" width="1" height="19" fill="rgb(8,0,0)"/>
<rect x="1510" y="623" width="1" height="19" fill="rgb(8,0,0)"/>
<rect x="1530" y="623" width="1" height="19" fill="rgb(8,0,0)"/>
<rect x="1550" y="623" width="1" height="19" fill="rgb(8,0,0)"/>
<rect x="1629" y="623" width="1" height="19" fill="rgb(8,0,0)"/>
<rect x="1649" y="623" width="1" height="19" fill="rgb(8,0,0)"/>
<rect x="1669" y="623" width="1" height="19" fill="rgb(8,0,0)"/>
<rect x="206" y="642" width="2" height="33" fill="rgb(255,8,0)"/>
<rect x="206" y="675" width="2" height="5" fill="rgb(149,76,0)"/>
<rect x="206" y="680" width="2" height="5" fill="rgb(100,76,0)"/>
<rect x="206" y="951" width="2" height="9" fill="rgb(22,64,0)"/>
<rect x="206" y="960" width="2" height="6" fill="rgb(89,51,0)"/>
<rect x="231" y="642" width="2" height="33" fill="rgb(255,8,0)"/>
<rect x="231" y="675" width="2" height="5" fill="rgb(149,76,0)"/>
<rect x="231" y="680" width="2" height="5" fill="rgb(100,76,0)"/>
<rect x="231" y="951" width="2" height="9" fill="rgb(22,64,0)"/>
<rect x="231" y="960" width="2" height="6" fill="rgb(89,51,0)"/>
<rect x="268" y="642" width="2" height="33" fill="rgb(255,8,0)"/>
<rect x="268" y="675" width="2" height="5" fill="rgb(149,76,0)"/>
<rect x="268" y="680" width="2" height="5" fill="rgb(100,76,0)"/>
<rect x="268" y="951" width="2" height="9" fill="rgb(22,64,0)"/>
<rect x="268" y="960" width="2" height="6" fill="rgb(89,51,0)"/>
<rect x="293" y="642" width="2" height="33" fill="rgb(255,8,0)"/>
<rect x="293" y="675" width="2" height="5" fill="rgb(149,76,0)"/>
<rect x="293" y="680" width="2" height="5" fill="rgb(100,76,0)"/>
<rect x="293" y="951" width="2" height="9" fill="rgb(22,64,0)"/>
<rect x="293" y="960" width="2" height="6" fill="rgb(89,51,0)"/>
<rect x="296" y="642" width="2" height="33" fill="rgb(255,8,0)"/>
<rect x="296" y="675" width="2" height="5" fill="rgb(149,76,0)"/>
<rect x="296" y="680" width="2" height="5" fill="rgb(100,76,0)"/>
<rect x="296" y="951" width="2" height="9" fill="rgb(22,64,0)"/>
<rect x="296" y="960" width="2" height="6" fill="rgb(89,51,0)"/>
<rect x="301" y="642" width="4" height="33" fill="rgb(255,8,0)"/>
<rect x="301" y="675" width="4" height="5" fill="rgb(149,76,0)"/>
<rect x="301" y="680" width="4" height="5" fill="rgb(100,76,0)"/>
<rect x="301" y="951" width="3" height="9" fill="rgb(22,64,0)"/>
<rect x="301" y="960" width="3" height="6" fill="rgb(89,51,0)"/>
<rect x="331" y="642" width="2" height="33" fill="rgb(255,8,0)"/>
<rect x="331" y="675" width="2" height="5" fill="rgb(149,76,0)"/>
<rect x="331" y="680" width="2" height="5" fill="rgb(100,76,0)"/>
<rect x="331" y="951" width="2" height="9" fill="rgb(22,64,0)"/>
<rect x="331" y="960" width="2" height="6" fill="rgb(89,51,0)"/>
<rect x="345" y="642" width="2" height="33" fill="rgb(255,8,0)"/>
<rect x="345" y="675" width="2" height="5" fill="rgb(149,76,0)"/>
<rect x="345" y="680" width="2" height="5" fill="rgb(100,76,0)"/>
<rect x="345" y="951" width="2" height="9" fill="rgb(22,64,0)"/>
<rect x="345" y="960" width="2" height="6" fill="rgb(89,51,0)"/>
<rect x="349" y="642" width="2" height="33" fill="rgb(255,8,0)"/>
<rect x="349" y="675" width="2" height="5" fill="rgb(149,76,0)"/>
<rect x="349" y="680" width="2" height="5" fill="rgb(100,76,0)"/>
<rect x="349" y="951" width="2" height="9" fill="rgb(22,64,0)"/>
<rect x="349" y="960" width="2" height="6" fill="rgb(89,51,0)"/>
<rect x="367" y="642" width="2" height="33" fill="rgb(255,8,0)"/>
<rect x="367" y="675" width="2" height="5" fill="rgb(149,76,0)"/>
<rect x="367" y="680" width="2" height="5" fill="rgb(100,76,0)"/>
<rect x="367" y="951" width="2" height="9" fill="rgb(22,64,0)"/>
<rect x="367" y="960" width="2" height="6" fill="rgb(89,51,0)"/>
<rect x="386" y="642" width="2" height="33" fill="rgb(255,8,0)"/>
<rect x="386" y="675" width="2" height="5" fill="rgb(149,76,0)"/>
<rect x="386" y="680" width="2" height="5" fill="rgb(100,76,0)"/>
<rect x="386" y="951" width="2" height="9" fill="rgb(22,64,0)"/>
<rect x="386" y="960" width="2" height="6" fill="rgb(89,51,0)"/>
<rect x="388" y="642" width="2" height="33" fill="rgb(255,8,0)"/>
<rect x="388" y="675" width="2" height="5" fill="rgb(149,76,0)"/>
<rect x="388" y="680" width="2" height="5" fill="rgb(100,76,0)"/>
<rect x="388" y="951" width="2" height="9" fill="rgb(22,64,0)"/>
<rect x="388" y="960" width="2" height="6" fill="rgb(89,51,0)"/>
<rect x="399" y="642" width="6" height="33" fill="rgb(255,8,0)"/>
<rect x="399" y="675" width="6" height="5" fill="rgb(149,76,0)"/>
<rect x="399" y="680" width="6" height="5" fill="rgb(100,76,0)"/>
<rect x="399" y="951" width="5" height="9" fill="rgb(22,64,0)"/>
<rect x="399" y="960" width="5" height="6" fill="rgb(89,51,0)"/>
<rect x="410" y="642" width="4" height="33" fill="rgb(255,8,0)"/>
<rect x="410" y="675" width="4" height="5" fill="rgb(149,76,0)"/>
<rect x="410" y="680" width="4" height="5" fill="rgb(100,76,0)"/>
<rect x="410" y="951" width="3" height="9" fill="rgb(22,64,0)"/>
<rect x="410" y="960" width="3" height="6" fill="rgb(89,51,0)"/>
<rect x="425" y="642" width="2" height="33" fill="rgb(255,8,0)"/>
<rect x="425" y="675" width="2" height="5" fill="rgb(149,76,0)"/>
<rect x="425" y="680" width="2" height="5" fill="rgb(100,76,0)"/>
<rect x="425" y="951" width="2" height="9" fill="rgb(22,64,0)"/>
<rect x="425" y="960" width="2" height="6" fill="rgb(89,51,0)"/>
<rect x="430" y="642" width="5" height="33" fill="rgb(255,8,0)"/>
<rect x="430" y="675" width="5" height="5" fill="rgb(149,76,0)"/>
<rect x="430" y="680" width="5" height="5" fill="rgb(100,76,0)"/>
<rect x="430" y="951" width="4" height="9" fill="rgb(22,64,0)"/>
<rect x="430" y="960" width="4" height="6" fill="rgb(89,51,0)"/>
<rect x="444" y="642" width="2" height="33" fill="rgb(255,8,0)"/>
<rect x="444" y="675" width="2" height="5" fill="rgb(149,76,0)"/>
<rect x="444" y="680" width="2" height="5" fill="rgb(100,76,0)"/>
<rect x="444" y="951" width="2" height="9" fill="rgb(22,64,0)"/>
<rect x="444" y="960" width="2" height="6" fill="rgb(89,51,0)"/>
<rect x="449" y="642" width="2" height="33" fill="rgb(255,8,0)"/>
<rect x="449" y="675" width="2" height="5" fill="rgb(149,76,0)"/>
<rect x="449" y="680" width="2" height="5" fill="rgb(100,76,0)"/>
<rect x="449" y="951" width="2" height="9" fill="rgb(22,64,0)"/>
<rect x="449" y="960" width="2" height="6" fill="rgb(89,51,0)"/>
<rect x="466" y="642" width="2" height="33" fill="rgb(255,8,0)"/>
<rect x="466" y="675" width="2" height="5" fill="rgb(149,76,0)"/>
<rect x="466" y="680" width="2" height="5" fill="rgb(100,76,0)"/>
<rect x="466" y="951" width="2" height="9" fill="rgb(22,64,0)"/>
<rect x="466" y="960" width="2" height="6" fill="rgb(89,51,0)"/>
<rect x="484" y="642" width="2" height="33" fill="rgb(255,8,0)"/>
<rect x="484" y="675" width="2" height="5" fill="rgb(149,76,0)"/>
<rect x="484" y="680" width="2" height="5" fill="rgb(100,76,0)"/>
<rect x="484" y="951" width="2" height="9" fill="rgb(22,64,0)"/>
<rect x="484" y="960" width="2" height="6" fill="rgb(89,51,0)"/>
<rect x="493" y="642" width="4" height="33" fill="rgb(255,8,0)"/>
<rect x="493" y="675" width="4" height="5" fill="rgb(149,76,0)"/>
<rect x="493" y="680" width="4" height="5" fill="rgb(100,76,0)"/>
<rect x="493" y="951" width="3" height="9" fill="rgb(22,64,0)"/>
<rect x="493" y="960" width="3" height="6" fill="rgb(89,51,0)"/>
<rect x="498" y="642" width="2" height="33" fill="rgb(255,8,0)"/>
<rect x="498" y="675" width="2" height="5" fill="rgb(149,76,0)"/>
<rect x="498" y="680" width="2" height="5" fill="rgb(100,76,0)"/>
<rect x="498" y="951" width="2" height="9" fill="rgb(22,64,0)"/>
<rect x="498" y="960" width="2" height="6" fill="rgb(89,51,0)"/>
<rect x="501" y="642" width="2" height="33" fill="rgb(255,8,0)"/>
<rect x="501" y="675" width="2" height="5" fill="rgb(149,76,0)"/>
<rect x="501" y="680" width="2" height="5" fill="rgb(100,76,0)"/>
<rect x="501" y="951" width="2" height="9" fill="rgb(22,64,0)"/>
<rect x="501" y="960" width="2" height="6" fill="rgb(89,51,0)"/>
<rect x="510" y="642" width="3" height="33" fill="rgb(255,8,0)"/>
<rect x="510" y="675" width="3" height="5" fill="rgb(149,76,0)"/>
<rect x="510" y="680" width="3" height="5" fill="rgb(100,76,0)"/>
<rect x="510" y="951" width="2" height="9" fill="rgb(22,64,0)"/>
<rect x="510" y="960" width="2" height="6" fill="rgb(89,51,0)"/>
<rect x="519" y="642" width="2" height="33" fill="rgb(255,8,0)"/>
<rect x="519" y="675" width="2" height="5" fill="rgb(149,76,0)"/>
<rect x="519" y="680" width="2" height="5" fill="rgb(100,76,0)"/>
<rect x="519" y="951" width="2" height="9" fill="rgb(22,64,0)"/>
<rect x="519" y="960" width="2" height="6" fill="rgb(89,51,0)"/>
<rect x="522" y="642" width="2" height="33" fill="rgb(255,8,0)"/>
<rect x="522" y="675" width="2" height="5" fill="rgb(149,76,0)"/>
<rect x="522" y="680" width="2" height="5" fill="rgb(100,76,0)"/>
<rect x="522" y="951" width="2" height="9" fill="rgb(22,64,0)"/>
<rect x="522" y="960" width="2" height="6" fill="rgb(89,51,0)"/>
<rect x="527" y="642" width="7" height="33" fill="rgb(255,8,0)"/>
<rect x="527" y="675" width="7" height="5" fill="rgb(149,76,0)"/>
<rect x="527" y="680" width="7" height="5" fill="rgb(100,76,0)"/>
<rect x="527" y="951" width="6" height="9" fill="rgb(22,64,0)"/>
<rect x="527" y="960" width="6" height="6" fill="rgb(89,51,0)"/>
<rect x="592" y="642" width="2" height="33" fill="rgb(255,8,0)"/>
<rect x="592" y="675" width="2" height="5" fill="rgb(149,76,0)"/>
<rect x="592" y="680" width="2" height="5" fill="rgb(100,76,0)"/>
<rect x="592" y="951" width="2" height="9" fill="rgb(22,64,0)"/>
<rect x="592" y="960" width="2" height="6" fill="rgb(89,51,0)"/>
<rect x="596" y="642" width="2" height="33" fill="rgb(255,8,0)"/>
<rect x="596" y="675" width="2" height="5" fill="rgb(149,76,0)"/>
<rect x="596" y="680" width="2" height="5" fill="rgb(100,76,0)"/>
<rect x="596" y="951" width="2" height="9" fill="rgb(22,64,0)"/>
<rect x="596" y="960" width="2" height="6" fill="rgb(89,51,0)"/>
<rect x="616" y="642" width="3" height="33" fill="rgb(255,8,0)"/>
<rect x="616" y="675" width="3" height="5" fill="rgb(149,76,0)"/>
<rect x="616" y="680" width="3" height="5" fill="rgb(100,76,0)"/>
<rect x="616" y="951" width="2" height="9" fill="rgb(22,64,0)"/>
<rect x="616" y="960" width="2" height="6" fill="rgb(89,51,0)"/>
<rect x="628" y="642" width="2" height="33" fill="rgb(255,8,0)"/>
<rect x="628" y="675" width="2" height="5" fill="rgb(149,76,0)"/>
<rect x="628" y="680" width="2" height="5" fill="rgb(100,76,0)"/>
<rect x="628" y="951" width="2" height="9" fill="rgb(22,64,0)"/>
<rect x="628" y="960" width="2" height="6" fill="rgb(89,51,0)"/>
<rect x="638" y="642" width="2" height="33" fill="rgb(255,8,0)"/>
<rect x="638" y="675" width="2" height="5" fill="rgb(149,76,0)"/>
<rect x="638" y="680" width="2" height="5" fill="rgb(100,76,0)"/>
<rect x="638" y="951" width="2" height="9" fill="rgb(22,64,0)"/>
<rect x="638" y="960" width="2" height="6" fill="rgb(89,51,0)"/>
<rect x="665" y="642" width="2" height="33" fill="rgb(255,8,0)"/>
<rect x="665" y="675" width="2" height="5" fill="rgb(149,76,0)"/>
<rect x="665" y="680" width="2" height="5" fill="rgb(100,76,0)"/>
<rect x="665" y="951" width="2" height="9" fill="rgb(22,64,0)"/>
<rect x="665" y="960" width="2" height="6" fill="rgb(89,51,0)"/>
<rect x="727" y="642" width="2" height="33" fill="rgb(255,8,0)"/>
<rect x="727" y="675" width="2" height="5" fill="rgb(149,76,0)"/>
<rect x="727" y="680" width="2" height="5" fill="rgb(100,76,0)"/>
<rect x="727" y="951" width="2" height="9" fill="rgb(22,64,0)"/>
<rect x="727" y="960" width="2" height="6" fill="rgb(89,51,0)"/>
<rect x="737" y="642" width="2" height="33" fill="rgb(255,8,0)"/>
<rect x="737" y="675" width="2" height="5" fill="rgb(149,76,0)"/>
<rect x="737" y="680" width="2" height="5" fill="rgb(100,76,0)"/>
<rect x="737" y="951" width="2" height="9" fill="rgb(22,64,0)"/>
<rect x="737" y="960" width="2" height="6" fill="rgb(89,51,0)"/>
<rect x="744" y="642" width="2" height="33" fill="rgb(255,8,0)"/>
<rect x="744" y="675" width="2" height="5" fill="rgb(149,76,0)"/>
<rect x="744" y="680" width="2" height="5" fill="rgb(100,76,0)"/>
<rect x="744" y="951" width="2" height="9" fill="rgb(22,64,0)"/>
<rect x="744" y="960" width="2" height="6" fill="rgb(89,51,0)"/>
<rect x="757" y="642" width="3" height="33" fill="rgb(255,8,0)"/>
<rect x="757" y="675" width="3" height="5" fill="rgb(149,76,0)"/>
<rect x="757" y="680" width="3" height="5" fill="rgb(100,76,0)"/>
<rect x="757" y="951" width="2" height="9" fill="rgb(22,64,0)"/>
<rect x="757" y="960" width="2" height="6" fill="rgb(89,51,0)"/>
<rect x="767" y="642" width="2" height="33" fill="rgb(255,8,0)"/>
<rect x="767" y="675" width="2" height="5" fill="rgb(149,76,0)"/>
<rect x="767" y="680" width="2" height="5" fill="rgb(100,76,0)"/>
<rect x="767" y="951" width="2" height="9" fill="rgb(22,64,0)"/>
<rect x="767" y="960" width="2" height="6" fill="rgb(89,51,0)"/>
<rect x="794" y="642" width="5" height="33" fill="rgb(255,8,0)"/>
<rect x="794" y="675" width="5" height="5" fill="rgb(149,76,0)"/>
<rect x="794" y="680" width="5" height="5" fill="rgb(100,76,0)"/>
<rect x="794" y="951" width="4" height="9" fill="rgb(22,64,0)"/>
<rect x="794" y="960" width="4" height="6" fill="rgb(89,51,0)"/>
<rect x="816" y="642" width="3" height="33" fill="rgb(255,8,0)"/>
<rect x="816" y="675" width="3" height="5" fill="rgb(149,76,0)"/>
<rect x="816" y="680" width="3" height="5" fill="rgb(100,76,0)"/>
<rect x="816" y="951" width="2" height="9" fill="rgb(22,64,0)"/>
<rect x="816" y="960" width="2" height="6" fill="rgb(89,51,0)"/>
<rect x="841" y="642" width="4" height="33" fill="rgb(255,8,0)"/>
<rect x="841" y="675" width="4" height="5" fill="rgb(149,76,0)"/>
<rect x="841" y="680" width="4" height="5" fill="rgb(100,76,0)"/>
<rect x="841" y="951" width="3" height="9" fill="rgb(22,64,0)"/>
<rect x="841" y="960" width="3" height="6" fill="rgb(89,51,0)"/>
<rect x="858" y="642" width="2" height="33" fill="rgb(255,8,0)"/>
<rect x="858" y="675" width="2" height="5" fill="rgb(149,76,0)"/>
<rect x="858" y="680" width="2" height="5" fill="rgb(100,76,0)"/>
<rect x="858" y="951" width="2" height="9" fill="rgb(22,64,0)"/>
<rect x="858" y="960" width="2" height="6" fill="rgb(89,51,0)"/>
<rect x="862" y="642" width="2" height="33" fill="rgb(255,8,0)"/>
<rect x="862" y="675" width="2" height="5" fill="rgb(149,76,0)"/>
<rect x="862" y="680" width="2" height="5" fill="rgb(100,76,0)"/>
<rect x="862" y="951" width="2" height="9" fill="rgb(22,64,0)"/>
<rect x="862" y="960" width="2" height="6" fill="rgb(89,51,0)"/>
<rect x="867" y="642" width="3" height="33" fill="rgb(255,8,0)"/>
<rect x="867" y="675" width="3" height="5" fill="rgb(149,76,0)"/>
<rect x="867" y="680" width="3" height="5" fill="rgb(100,76,0)"/>
<rect x="867" y="951" width="2" height="9" fill="rgb(22,64,0)"/>
<rect x="867" y="960" width="2" height="6" fill="rgb(89,51,0)"/>
<rect x="893" y="642" width="4" height="33" fill="rgb(255,8,0)"/>
<rect x="893" y="675" width="4" height="5" fill="rgb(149,76,0)"/>
<rect x="893" y="680" width="4" height="5" fill="rgb(100,76,0)"/>
<rect x="893" y="951" width="3" height="9" fill="rgb(22,64,0)"/>
<rect x="893" y="960" width="3" height="6" fill="rgb(89,51,0)"/>
<rect x="914" y="642" width="4" height="33" fill="rgb(255,8,0)"/>
<rect x="914" y="675" width="4" height="5" fill="rgb(149,76,0)"/>
<rect x="914" y="680" width="4" height="5" fill="rgb(100,76,0)"/>
<rect x="914" y="951" width="3" height="9" fill="rgb(22,64,0)"/>
<rect x="914" y="960" width="3" height="6" fill="rgb(89,51,0)"/>
<rect x="924" y="642" width="2" height="33" fill="rgb(255,8,0)"/>
<rect x="924" y="675" width="2" height="5" fill="rgb(149,76,0)"/>
<rect x="924" y="680" width="2" height="5" fill="rgb(100,76,0)"/>
<rect x="924" y="951" width="2" height="9" fill="rgb(22,64,0)"/>
<rect x="924" y="960" width="2" height="6" fill="rgb(89,51,0)"/>
<rect x="941" y="642" width="3" height="33" fill="rgb(255,8,0)"/>
<rect x="941" y="675" width="3" height="5" fill="rgb(149,76,0)"/>
<rect x="941" y="680" width="3" height="5" fill="rgb(100,76,0)"/>
<rect x="941" y="951" width="2" height="9" fill="rgb(22,64,0)"/>
<rect x="941" y="960" width="2" height="6" fill="rgb(89,51,0)"/>
<rect x="958" y="642" width="2" height="33" fill="rgb(255,8,0)"/>
<rect x="958" y="675" width="2" height="5" fill="rgb(149,76,0)"/>
<rect x="958" y="680" width="2" height="5" fill="rgb(100,76,0)"/>
<rect x="958" y="951" width="2" height="9" fill="rgb(22,64,0)"/>
<rect x="958" y="960" width="2" height="6" fill="rgb(89,51,0)"/>
<rect x="962" y="642" width="2" height="33" fill="rgb(255,8,0)"/>
<rect x="962" y="675" width="2" height="5" fill="rgb(149,76,0)"/>
<rect x="962" y="680" width="2" height="5" fill="rgb(100,76,0)"/>
<rect x="962" y="951" width="2" height="9" fill="rgb(22,64,0)"/>
<rect x="962" y="960" width="2" height="6" fill="rgb(89,51,0)"/>
<rect x="968" y="642" width="3" height="33" fill="rgb(255,8,0)"/>
<rect x="968" y="675" width="3" height="5" fill="rgb(149,76,0)"/>
<rect x="968" y="680" width="3" height="5" fill="rgb(100,76,0)"/>
<rect x="968" y="951" width="2" height="9" fill="rgb(22,64,0)"/>
<rect x="968" y="960" width="2" height="6" fill="rgb(89,51,0)"/>
<rect x="985" y="642" width="2" height="33" fill="rgb(255,8,0)"/>
<rect x="985" y="675" width="2" height="5" fill="rgb(149,76,0)"/>
<rect x="985" y="680" width="2" height="5" fill="rgb(100,76,0)"/>
<rect x="985" y="951" width="2" height="9" fill="rgb(22,64,0)"/>
<rect x="985" y="960" width="2" height="6" fill="rgb(89,51,0)"/>
<rect x="1020" y="642" width="3" height="33" fill="rgb(255,8,0)"/>
<rect x="1020" y="675" width="3" height="5" fill="rgb(149,76,0)"/>
<rect x="1020" y="680" width="3" height="5" fill="rgb(100,76,0)"/>
<rect x="1020" y="951" width="2" height="9" fill="rgb(22,64,0)"/>
<rect x="1020" y="960" width="2" height="6" fill="rgb(89,51,0)"/>
<rect x="1025" y="642" width="2" height="33" fill="rgb(255,8,0)"/>
<rect x="1025" y="675" width="2" height="5" fill="rgb(149,76,0)"/>
<rect x="1025" y="680" width="2" height="5" fill="rgb(100,76,0)"/>
<rect x="1025" y="951" width="2" height="9" fill="rgb(22,64,0)"/>
<rect x="1025" y="960" width="2" height="6" fill="rgb(89,51,0)"/>
<rect x="1039" y="642" width="2" height="33" fill="rgb(255,8,0)"/>
<rect x="1039" y="675" width="2" height="5" fill="rgb(149,76,0)"/>
<rect x="1039" y="680" width="2" height="5" fill="rgb(100,76,0)"/>
<rect x="1039" y="951" width="2" height="9" fill="rgb(22,64,0)"/>
<rect x="1039" y="960" width="2" height="6" fill="rgb(89,51,0)"/>
<rect x="1056" y="642" width="2" height="33" fill="rgb(255,8,0)"/>
<rect x="1056" y="675" width="2" height="5" fill="rgb(149,76,0)"/>
<rect x="1056" y="680" width="2" height="5" fill="rgb(100,76,0)"/>
<rect x="1056" y="951" width="2" height="9" fill="rgb(22,64,0)"/>
<rect x="1056" y="960" width="2" height="6" fill="rgb(89,51,0)"/>
<rect x="1070" y="642" width="2" height="33" fill="rgb(255,8,0)"/>
<rect x="1070" y="675" width="2" height="5" fill="rgb(149,76,0)"/>
<rect x="1070" y="680" width="2" height="5" fill="rgb(100,76,0)"/>
<rect x="1070" y="951" width="2" height="9" fill="rgb(22,64,0)"/>
<rect x="1070" y="960" width="2" height="6" fill="rgb(89,51,0)"/>
<rect x="1082" y="642" width="2" height="33" fill="rgb(255,8,0)"/>
<rect x="1082" y="675" width="2" height="5" fill="rgb(149,76,0)"/>
<rect x="1082" y="680" width="2" height="5" fill="rgb(100,76,0)"/>
<rect x="1082" y="951" width="2" height="9" fill="rgb(22,64,0)"/>
<rect x="1082" y="960" width="2" height="6" fill="rgb(89,51,0)"/>
<rect x="1118" y="642" width="3" height="33" fill="rgb(255,8,0)"/>
<rect x="1118" y="675" width="3" height="5" fill="rgb(149,76,0)"/>
<rect x="1118" y="680" width="3" height="5" fill="rgb(100,76,0)"/>
<rect x="1118" y="951" width="2" height="9" fill="rgb(22,64,0)"/>
<rect x="1118" y="960" width="2" height="6" fill="rgb(89,51,0)"/>
<rect x="1169" y="642" width="2" height="33" fill="rgb(255,8,0)"/>
<rect x="1169" y="675" width="2" height="5" fill="rgb(149,76,0)"/>
<rect x="1169" y="680" width="2" height="5" fill="rgb(100,76,0)"/>
<rect x="1169" y="951" width="2" height="9" fill="rgb(22,64,0)"/>
<rect x="1169" y="960" width="2" height="6" fill="rgb(89,51,0)"/>
<rect x="1214" y="642" width="2" height="33" fill="rgb(255,8,0)"/>
<rect x="1214" y="675" width="2" height="5" fill="rgb(149,76,0)"/>
<rect x="1214" y="680" width="2" height="5" fill="rgb(100,76,0)"/>
<rect x="1214" y="951" width="2" height="9" fill="rgb(22,64,0)"/>
<rect x="1214" y="960" width="2" height="6" fill="rgb(89,51,0)"/>
<rect x="1221" y="642" width="2" height="33" fill="rgb(255,8,0)"/>
<rect x="1221" y="675" width="2" height="5" fill="rgb(149,76,0)"/>
<rect x="1221" y="680" width="2" height="5" fill="rgb(100,76,0)"/>
<rect x="1221" y="951" width="2" height="9" fill="rgb(22,64,0)"/>
<rect x="1221" y="960" width="2" height="6" fill="rgb(89,51,0)"/>
<rect x="1238" y="642" width="2" height="33" fill="rgb(255,8,0)"/>
<rect x="1238" y="675" width="2" height="5" fill="rgb(149,76,0)"/>
<rect x="1238" y="680" width="2" height="5" fill="rgb(100,76,0)"/>
<rect x="1238" y="951" width="2" height="9" fill="rgb(22,64,0)"/>
<rect x="1238" y="960" width="2" height="6" fill="rgb(89,51,0)"/>
<rect x="1251" y="642" width="2" height="33" fill="rgb(255,8,0)"/>
<rect x="1251" y="675" width="2" height="5" fill="rgb(149,76,0)"/>
<rect x="1251" y="680" width="2" height="5" fill="rgb(100,76,0)"/>
<rect x="1251" y="951" width="2" height="9" fill="rgb(22,64,0)"/>
<rect x="1251" y="960" width="2" height="6" fill="rgb(89,51,0)"/>
<rect x="1260" y="642" width="2" height="33" fill="rgb(255,8,0)"/>
<rect x="1260" y="675" width="2" height="5" fill="rgb(149,76,0)"/>
<rect x="1260" y="680" width="2" height="5" fill="rgb(100,76,0)"/>
<rect x="1260" y="951" width="2" height="9" fill="rgb(22,64,0)"/>
<rect x="1260" y="960" width="2" height="6" fill="rgb(89,51,0)"/>
<rect x="1278" y="642" width="2" height="33" fill="rgb(255,8,0)"/>
<rect x="1278" y="675" width="2" height="5" fill="rgb(149,76,0)"/>
<rect x="1278" y="680" width="2" height="5" fill="rgb(100,76,0)"/>
<rect x="1278" y="951" width="2" height="9" fill="rgb(22,64,0)"/>
<rect x="1278" y="960" width="2" height="6" fill="rgb(89,51,0)"/>
<rect x="1282" y="642" width="2" height="33" fill="rgb(255,8,0)"/>
<rect x="1282" y="675" width="2" height="5" fill="rgb(149,76,0)"/>
<rect x="1282" y="680" width="2" height="5" fill="rgb(100,76,0)"/>
<rect x="1282" y="951" width="2" height="9" fill="rgb(22,64,0)"/>
<rect x="1282" y="960" width="2" height="6" fill="rgb(89,51,0)"/>
<rect x="1313" y="642" width="2" height="33" fill="rgb(255,8,0)"/>
<rect x="1313" y="675" width="2" height="5" fill="rgb(149,76,0)"/>
<rect x="1313" y="680" width="2" height="5" fill="rgb(100,76,0)"/>
<rect x="1313" y="951" width="2" height="9" fill="rgb(22,64,0)"/>
<rect x="1313" y="960" width="2" height="6" fill="rgb(89,51,0)"/>
<rect x="1322" y="642" width="2" height="33" fill="rgb(255,8,0)"/>
<rect x="1322" y="675" width="2" height="5" fill="rgb(149,76,0)"/>
<rect x="1322" y="680" width="2" height="5" fill="rgb(100,76,0)"/>
<rect x="1322" y="951" width="2" height="9" fill="rgb(22,64,0)"/>
<rect x="1322" y="960" width="2" height="6" fill="rgb(89,51,0)"/>
<rect x="1335" y="642" width="4" height="33" fill="rgb(255,8,0)"/>
<rect x="1335" y="675" width="4" height="5" fill="rgb(149,76,0)"/>
<rect x="1335" y="680" width="4" height="5" fill="rgb(100,76,0)"/>
<rect x="1335" y="951" width="3" height="9" fill="rgb(22,64,0)"/>
<rect x="1335" y="960" width="3" height="6" fill="rgb(89,51,0)"/>
<rect x="1350" y="642" width="2" height="33" fill="rgb(255,8,0)"/>
<rect x="1350" y="675" width="2" height="5" fill="rgb(149,76,0)"/>
<rect x="1350" y="680" width="2" height="5" fill="rgb(100,76,0)"/>
<rect x="1350" y="951" width="2" height="9" fill="rgb(22,64,0)"/>
<rect x="1350" y="960" width="2" height="6" fill="rgb(89,51,0)"/>
<rect x="1359" y="642" width="3" height="33" fill="rgb(255,8,0)"/>
<rect x="1359" y="675" width="3" height="5" fill="rgb(149,76,0)"/>
<rect x="1359" y="680" width="3" height="5" fill="rgb(100,76,0)"/>
<rect x="1359" y="951" width="2" height="9" fill="rgb(22,64,0)"/>
<rect x="1359" y="960" width="2" height="6" fill="rgb(89,51,0)"/>
<rect x="1376" y="642" width="4" height="33" fill="rgb(255,8,0)"/>
<rect x="1376" y="675" width="4" height="5" fill="rgb(149,76,0)"/>
<rect x="1376" y="680" width="4" height="5" fill="rgb(100,76,0)"/>
<rect x="1376" y="951" width="3" height="9" fill="rgb(22,64,0)"/>
<rect x="1376" y="960" width="3" height="6" fill="rgb(89,51,0)"/>
<rect x="1382" y="642" width="3" height="33" fill="rgb(255,8,0)"/>
<rect x="1382" y="675" width="3" height="5" fill="rgb(149,76,0)"/>
<rect x="1382" y="680" width="3" height="5" fill="rgb(100,76,0)"/>
<rect x="1382" y="951" width="2" height="9" fill="rgb(22,64,0)"/>
<rect x="1382" y="960" width="2" height="6" fill="rgb(89,51,0)"/>
<rect x="1424" y="642" width="3" height="33" fill="rgb(255,8,0)"/>
<rect x="1424" y="675" width="3" height="5" fill="rgb(149,76,0)"/>
<rect x="1424" y="680" width="3" height="5" fill="rgb(100,76,0)"/>
<rect x="1424" y="951" width="2" height="9" fill="rgb(22,64,0)"/>
<rect x="1424" y="960" width="2" height="6" fill="rgb(89,51,0)"/>
<rect x="1434" y="642" width="3" height="33" fill="rgb(255,8,0)"/>
<rect x="1434" y="675" width="3" height="5" fill="rgb(149,76,0)"/>
<rect x="1434" y="680" width="3" height="5" fill="rgb(100,76,0)"/>
<rect x="1434" y="951" width="2" height="9" fill="rgb(22,64,0)"/>
<rect x="1434" y="960" width="2" height="6" fill="rgb(89,51,0)"/>
<rect x="1458" y="642" width="2" height="33" fill="rgb(255,8,0)"/>
<rect x="1458" y="675" width="2" height="5" fill="rgb(149,76,0)"/>
<rect x="1458" y="680" width="2" height="5" fill="rgb(100,76,0)"/>
<rect x="1458" y="951" width="2" height="9" fill="rgb(22,64,0)"/>
<rect x="1458" y="960" width="2" height="6" fill="rgb(89,51,0)"/>
<rect x="1475" y="642" width="2" height="33" fill="rgb(255,8,0)"/>
<rect x="1475" y="675" width="2" height="5" fill="rgb(149,76,0)"/>
<rect x="1475" y="680" width="2" height="5" fill="rgb(100,76,0)"/>
<rect x="1475" y="951" width="2" height="9" fill="rgb(22,64,0)"/>
<rect x="1475" y="960" width="2" height="6" fill="rgb(89,51,0)"/>
<rect x="1512" y="642" width="2" height="33" fill="rgb(255,8,0)"/>
<rect x="1512" y="675" width="2" height="5" fill="rgb(149,76,0)"/>
<rect x="1512" y="680" width="2" height="5" fill="rgb(100,76,0)"/>
<rect x="1512" y="951" width="2" height="9" fill="rgb(22,64,0)"/>
<rect x="1512" y="960" width="2" height="6" fill="rgb(89,51,0)"/>
<rect x="1522" y="642" width="4" height="33" fill="rgb(255,8,0)"/>
<rect x="1522" y="675" width="4" height="5" fill="rgb(149,76,0)"/>
<rect x="1522" y="680" width="4" height="5" fill="rgb(100,76,0)"/>
<rect x="1522" y="951" width="3" height="9" fill="rgb(22,64,0)"/>
<rect x="1522" y="960" width="3" height="6" fill="rgb(89,51,0)"/>
<rect x="1527" y="642" width="2" height="33" fill="rgb(255,8,0)"/>
<rect x="1527" y="675" width="2" height="5" fill="rgb(149,76,0)"/>
<rect x="1527" y="680" width="2" height="5" fill="rgb(100,76,0)"/>
<rect x="1527" y="951" width="2" height="9" fill="rgb(22,64,0)"/>
<rect x="1527" y="960" width="2" height="6" fill="rgb(89,51,0)"/>
<rect x="1531" y="642" width="2" height="33" fill="rgb(255,8,0)"/>
<rect x="1531" y="675" width="2" height="5" fill="rgb(149,76,0)"/>
<rect x="1531" y="680" width="2" height="5" fill="rgb(100,76,0)"/>
<rect x="1531" y="951" width="2" height="9" fill="rgb(22,64,0)"/>
<rect x="1531" y="960" width="2" height="6" fill="rgb(89,51,0)"/>
<rect x="1547" y="642" width="2" height="33" fill="rgb(255,8,0)"/>
<rect x="1547" y="675" width="2" height="5" fill="rgb(149,76,0)"/>
<rect x="1547" y="680" width="2" height="5" fill="rgb(100,76,0)"/>
<rect x="1547" y="951" width="2" height="9" fill="rgb(22,64,0)"/>
<rect x="1547" y="960" width="2" height="6" fill="rgb(89,51,0)"/>
<rect x="1611" y="642" width="3" height="33" fill="rgb(255,8,0)"/>
<rect x="1611" y="675" width="3" height="5" fill="rgb(149,76,0)"/>
<rect x="1611" y="680" width="3" height="5" fill="rgb(100,76,0)"/>
<rect x="1611" y="951" width="2" height="9" fill="rgb(22,64,0)"/>
<rect x="1611" y="960" width="2" height="6" fill="rgb(89,51,0)"/>
<rect x="1618" y="642" width="3" height="33" fill="rgb(255,8,0)"/>
<rect x="1618" y="675" width="3" height="5" fill="rgb(149,76,0)"/>
<rect x="1618" y="680" width="3" height="5" fill="rgb(100,76,0)"/>
<rect x="1618" y="951" width="2" height="9" fill="rgb(22,64,0)"/>
<rect x="1618" y="960" width="2" height="6" fill="rgb(89,51,0)"/>
<rect x="1623" y="642" width="3" height="33" fill="rgb(255,8,0)"/>
<rect x="1623" y="675" width="3" height="5" fill="rgb(149,76,0)"/>
<rect x="1623" y="680" width="3" height="5" fill="rgb(100,76,0)"/>
<rect x="1623" y="951" width="2" height="9" fill="rgb(22,64,0)"/>
<rect x="1623" y="960" width="2" height="6" fill="rgb(89,51,0)"/>
<rect x="1627" y="642" width="2" height="33" fill="rgb(255,8,0)"/>
<rect x="1627" y="675" width="2" height="5" fill="rgb(149,76,0)"/>
<rect x="1627" y="680" width="2" height="5" fill="rgb(100,76,0)"/>
<rect x="1627" y="951" width="2" height="9" fill="rgb(22,64,0)"/>
<rect x="1627" y="960" width="2" height="6" fill="rgb(89,51,0)"/>
<rect x="1646" y="642" width="2" height="33" fill="rgb(255,8,0)"/>
<rect x="1646" y="675" width="2" height="5" fill="rgb(149,76,0)"/>
<rect x="1646" y="680" width="2" height="5" fill="rgb(100,76,0)"/>
<rect x="1646" y="951" width="2" height="9" fill="rgb(22,64,0)"/>
<rect x="1646" y="960" width="2" height="6" fill="rgb(89,51,0)"/>
<rect x="480.924" y="647" width="1" height="14" fill="rgb(8,13,0)"/>
<rect x="1474.3" y="656" width="1" height="14" fill="rgb(8,13,0)"/>
<rect x="385.678" y="647" width="1" height="9" fill="rgb(8,13,0)"/>
<rect x="1103.6" y="656" width="1" height="14" fill="rgb(8,13,0)"/>
<rect x="413.315" y="656" width="1" height="18" fill="rgb(8,13,0)"/>
<rect x="1363.69" y="647" width="1" height="18" fill="rgb(8,13,0)"/>
<rect x="739.181" y="642" width="1" height="18" fill="rgb(8,13,0)"/>
<rect x="1574.39" y="642" width="1" height="18" fill="rgb(8,13,0)"/>
<rect x="1337.55" y="656" width="1" height="18" fill="rgb(8,13,0)"/>
<rect x="941.579" y="642" width="1" height="9" fill="rgb(8,13,0)"/>
<rect x="311.532" y="656" width="1" height="14" fill="rgb(8,13,0)"/>
<rect x="932.395" y="656" width="1" height="14" fill="rgb(8,13,0)"/>
<rect x="1350.57" y="656" width="1" height="18" fill="rgb(8,13,0)"/>
<rect x="970.481" y="647" width="1" height="18" fill="rgb(8,13,0)"/>
<rect x="1158.85" y="656" width="1" height="9" fill="rgb(8,13,0)"/>
<rect x="1301.08" y="656" width="1" height="9" fill="rgb(8,13,0)"/>
<rect x="341.964" y="656" width="1" height="18" fill="rgb(8,13,0)"/>
<rect x="1632.97" y="642" width="1" height="14" fill="rgb(8,13,0)"/>
<rect x="873.703" y="647" width="1" height="18" fill="rgb(8,13,0)"/>
<rect x="1154.56" y="647" width="1" height="14" fill="rgb(8,13,0)"/>
<rect x="1641.8" y="642" width="1" height="18" fill="rgb(8,13,0)"/>
<rect x="1196.68" y="647" width="1" height="14" fill="rgb(8,13,0)"/>
<rect x="765.057" y="647" width="1" height="18" fill="rgb(8,13,0)"/>
<rect x="1668.03" y="647" width="1" height="18" fill="rgb(8,13,0)"/>
<rect x="1188.98" y="642" width="1" height="18" fill="rgb(8,13,0)"/>
<rect x="1375.69" y="642" width="1" height="9" fill="rgb(8,13,0)"/>
<rect x="1266.49" y="642" width="1" height="18" fill="rgb(8,13,0)"/>
<rect x="228.799" y="647" width="1" height="18" fill="rgb(8,13,0)"/>
<rect x="1487.94" y="642" width="1" height="18" fill="rgb(8,13,0)"/>
<rect x="476.842" y="642" width="1" height="14" fill="rgb(8,13,0)"/>
<rect x="1685.78" y="656" width="1" height="9" fill="rgb(8,13,0)"/>
<rect x="710.842" y="656" width="1" height="9" fill="rgb(8,13,0)"/>
<rect x="1562.13" y="656" width="1" height="14" fill="rgb(8,13,0)"/>
<rect x="609.523" y="642" width="1" height="18" fill="rgb(8,13,0)"/>
<rect x="1118.17" y="642" width="1" height="14" fill="rgb(8,13,0)"/>
<rect x="348.288" y="642" width="1" height="9" fill="rgb(8,13,0)"/>
<rect x="1300.63" y="642" width="1" height="9" fill="rgb(8,13,0)"/>
<rect x="1380.1" y="656" width="1" height="14" fill="rgb(8,13,0)"/>
<rect x="1627.21" y="642" width="1" height="18" fill="rgb(8,13,0)"/>
<rect x="973.278" y="642" width="1" height="9" fill="rgb(8,13,0)"/>
<rect x="1535" y="675" width="1" height="5" fill="rgb(125,76,0)"/>
<rect x="826" y="675" width="1" height="10" fill="rgb(117,76,0)"/>
<rect x="985" y="675" width="1" height="5" fill="rgb(97,76,0)"/>
<rect x="303" y="675" width="1" height="10" fill="rgb(108,76,0)"/>
<rect x="1660" y="675" width="1" height="10" fill="rgb(106,76,0)"/>
<rect x="1203" y="675" width="1" height="10" fill="rgb(140,76,0)"/>
<rect x="1650" y="675" width="1" height="10" fill="rgb(137,76,0)"/>
<rect x="1074" y="675" width="1" height="15" fill="rgb(141,76,0)"/>
<rect x="425" y="675" width="1" height="15" fill="rgb(115,76,0)"/>
<rect x="615" y="675" width="1" height="10" fill="rgb(139,76,0)"/>
<rect x="759" y="675" width="1" height="15" fill="rgb(132,76,0)"/>
<rect x="1176" y="675" width="1" height="5" fill="rgb(99,76,0)"/>
<rect x="237" y="675" width="1" height="15" fill="rgb(114,76,0)"/>
<rect x="1202" y="675" width="1" height="5" fill="rgb(89,76,0)"/>
<rect x="1569" y="675" width="1" height="5" fill="rgb(102,76,0)"/>
<rect x="1190" y="675" width="1" height="15" fill="rgb(111,76,0)"/>
<rect x="1681" y="675" width="1" height="5" fill="rgb(157,76,0)"/>
<rect x="1256" y="675" width="1" height="10" fill="rgb(137,76,0)"/>
<rect x="1247" y="675" width="1" height="15" fill="rgb(104,76,0)"/>
<rect x="435" y="675" width="1" height="5" fill="rgb(102,76,0)"/>
<rect x="1679" y="675" width="1" height="10" fill="rgb(143,76,0)"/>
<rect x="768" y="675" width="1" height="10" fill="rgb(101,76,0)"/>
<rect x="1455" y="675" width="1" height="5" fill="rgb(157,76,0)"/>
<rect x="1663" y="675" width="1" height="10" fill="rgb(143,76,0)"/>
<rect x="558" y="675" width="1" height="10" fill="rgb(102,76,0)"/>
<rect x="418" y="675" width="1" height="10" fill="rgb(90,76,0)"/>
<rect x="701" y="675" width="1" height="10" fill="rgb(154,76,0)"/>
<rect x="1406" y="675" width="1" height="15" fill="rgb(105,76,0)"/>
<rect x="1561" y="675" width="1" height="5" fill="rgb(138,76,0)"/>
<rect x="1439" y="675" width="1" height="5" fill="rgb(115,76,0)"/>
<rect x="1167" y="675" width="1" height="10" fill="rgb(119,76,0)"/>
<rect x="1494" y="675" width="1" height="15" fill="rgb(90,76,0)"/>
<rect x="1132" y="675" width="1" height="10" fill="rgb(160,76,0)"/>
<rect x="811" y="675" width="1" height="5" fill="rgb(155,76,0)"/>
<rect x="1490" y="675" width="1" height="5" fill="rgb(97,76,0)"/>
<rect x="1341" y="675" width="1" height="10" fill="rgb(114,76,0)"/>
<rect x="1668" y="675" width="1" height="15" fill="rgb(100,76,0)"/>
<rect x="1428" y="675" width="1" height="15" fill="rgb(113,76,0)"/>
<rect x="863" y="675" width="1" height="5" fill="rgb(92,76,0)"/>
<rect x="1601" y="675" width="1" height="10" fill="rgb(106,76,0)"/>
<rect x="863" y="675" width="1" height="10" fill="rgb(100,76,0)"/>
<rect x="318" y="675" width="1" height="10" fill="rgb(154,76,0)"/>
<rect x="846" y="675" width="1" height="5" fill="rgb(95,76,0)"/>
<rect x="507" y="675" width="1" height="15" fill="rgb(120,76,0)"/>
<rect x="792" y="675" width="1" height="10" fill="rgb(122,76,0)"/>
<rect x="909" y="675" width="1" height="10" fill="rgb(131,76,0)"/>
<rect x="1258" y="675" width="1" height="5" fill="rgb(103,76,0)"/>
<rect x="573" y="675" width="1" height="10" fill="rgb(120,76,0)"/>
<rect x="577" y="675" width="1" height="10" fill="rgb(128,76,0)"/>
<rect x="1685" y="675" width="1" height="5" fill="rgb(151,76,0)"/>
<rect x="918" y="675" width="1" height="10" fill="rgb(137,76,0)"/>
<rect x="590" y="675" width="1" height="10" fill="rgb(111,76,0)"/>
<rect x="1430" y="675" width="1" height="15" fill="rgb(152,76,0)"/>
<rect x="1443" y="675" width="1" height="10" fill="rgb(138,76,0)"/>
<rect x="1234" y="675" width="1" height="15" fill="rgb(140,76,0)"/>
<rect x="1567" y="675" width="1" height="15" fill="rgb(109,76,0)"/>
<rect x="1031" y="675" width="1" height="5" fill="rgb(92,76,0)"/>
<rect x="1597" y="675" width="1" height="10" fill="rgb(159,76,0)"/>
<rect x="939" y="675" width="1" height="10" fill="rgb(117,76,0)"/>
<rect x="379" y="675" width="1" height="15" fill="rgb(152,76,0)"/>
<rect x="614" y="675" width="1" height="5" fill="rgb(154,76,0)"/>
<rect x="1490" y="675" width="1" height="10" fill="rgb(123,76,0)"/>
<rect x="1309" y="675" width="1" height="5" fill="rgb(134,76,0)"/>
<rect x="1626" y="675" width="1" height="15" fill="rgb(117,76,0)"/>
<rect x="1200" y="675" width="1" height="10" fill="rgb(142,76,0)"/>
<rect x="581" y="675" width="1" height="10" fill="rgb(103,76,0)"/>
<rect x="309" y="675" width="1" height="10" fill="rgb(127,76,0)"/>
<rect x="273" y="675" width="1" height="5" fill="rgb(121,76,0)"/>
<rect x="1391" y="675" width="1" height="10" fill="rgb(118,76,0)"/>
<rect x="686" y="675" width="1" height="15" fill="rgb(143,76,0)"/>
<rect x="1331" y="675" width="1" height="10" fill="rgb(95,76,0)"/>
<rect x="275" y="675" width="1" height="5" fill="rgb(129,76,0)"/>
<rect x="974" y="675" width="1" height="5" fill="rgb(107,76,0)"/>
<rect x="913" y="675" width="1" height="5" fill="rgb(98,76,0)"/>
<rect x="982" y="675" width="1" height="15" fill="rgb(98,76,0)"/>
<rect x="479" y="675" width="1" height="10" fill="rgb(103,76,0)"/>
<rect x="984" y="675" width="1" height="15" fill="rgb(107,76,0)"/>
<rect x="1472" y="675" width="1" height="10" fill="rgb(133,76,0)"/>
<rect x="970" y="675" width="1" height="10" fill="rgb(145,76,0)"/>
<rect x="320" y="675" width="1" height="10" fill="rgb(137,76,0)"/>
<rect x="1557" y="675" width="1" height="10" fill="rgb(126,76,0)"/>
<rect x="1614" y="675" width="1" height="10" fill="rgb(115,76,0)"/>
<rect x="333" y="675" width="1" height="15" fill="rgb(145,76,0)"/>
<rect x="332" y="675" width="1" height="5" fill="rgb(148,76,0)"/>
<rect x="1459" y="675" width="1" height="10" fill="rgb(128,76,0)"/>
<rect x="1137" y="675" width="1" height="10" fill="rgb(103,76,0)"/>
<rect x="1287" y="675" width="1" height="5" fill="rgb(145,76,0)"/>
<rect x="796" y="675" width="1" height="5" fill="rgb(122,76,0)"/>
<rect x="267" y="675" width="1" height="10" fill="rgb(109,76,0)"/>
<rect x="369" y="675" width="1" height="15" fill="rgb(96,76,0)"/>
<rect x="1053" y="675" width="1" height="15" fill="rgb(94,76,0)"/>
<rect x="1661" y="675" width="1" height="10" fill="rgb(134,76,0)"/>
<rect x="1358" y="675" width="1" height="5" fill="rgb(119,76,0)"/>
<rect x="1553" y="675" width="1" height="10" fill="rgb(138,76,0)"/>
<rect x="1020" y="675" width="1" height="15" fill="rgb(132,76,0)"/>
<rect x="1641" y="675" width="1" height="10" fill="rgb(122,76,0)"/>
<rect x="1148" y="675" width="1" height="10" fill="rgb(113,76,0)"/>
<rect x="329" y="675" width="1" height="10" fill="rgb(147,76,0)"/>
<rect x="344" y="675" width="1" height="5" fill="rgb(104,76,0)"/>
<rect x="408" y="675" width="1" height="10" fill="rgb(113,76,0)"/>
<rect x="667" y="675" width="1" height="15" fill="rgb(89,76,0)"/>
<rect x="1162" y="675" width="1" height="15" fill="rgb(98,76,0)"/>
<rect x="845" y="675" width="1" height="10" fill="rgb(122,76,0)"/>
<rect x="1600" y="675" width="1" height="15" fill="rgb(102,76,0)"/>
<rect x="227" y="675" width="1" height="10" fill="rgb(105,76,0)"/>
<rect x="1165" y="675" width="1" height="10" fill="rgb(111,76,0)"/>
<rect x="957" y="675" width="1" height="5" fill="rgb(153,76,0)"/>
<rect x="942" y="675" width="1" height="5" fill="rgb(118,76,0)"/>
<rect x="1676" y="675" width="1" height="15" fill="rgb(154,76,0)"/>
<rect x="1642" y="675" width="1" height="15" fill="rgb(91,76,0)"/>
<rect x="414" y="675" width="1" height="10" fill="rgb(123,76,0)"/>
<rect x="362" y="675" width="1" height="5" fill="rgb(111,76,0)"/>
<rect x="946" y="675" width="1" height="10" fill="rgb(110,76,0)"/>
<rect x="318" y="675" width="1" height="5" fill="rgb(111,76,0)"/>
<rect x="1597" y="675" width="1" height="10" fill="rgb(99,76,0)"/>
<rect x="1646" y="675" width="1" height="5" fill="rgb(95,76,0)"/>
<rect x="1290" y="675" width="1" height="5" fill="rgb(98,76,0)"/>
<rect x="745" y="675" width="1" height="10" fill="rgb(141,76,0)"/>
<rect x="961" y="675" width="1" height="15" fill="rgb(148,76,0)"/>
<rect x="973" y="675" width="1" height="15" fill="rgb(149,76,0)"/>
<rect x="1582" y="675" width="1" height="10" fill="rgb(98,76,0)"/>
<rect x="209" y="675" width="1" height="15" fill="rgb(152,76,0)"/>
<rect x="1621" y="675" width="1" height="10" fill="rgb(99,76,0)"/>
<rect x="1072" y="675" width="1" height="10" fill="rgb(131,76,0)"/>
<rect x="990" y="675" width="1" height="10" fill="rgb(124,76,0)"/>
<rect x="501" y="675" width="1" height="10" fill="rgb(101,76,0)"/>
<rect x="336" y="675" width="1" height="10" fill="rgb(103,76,0)"/>
<rect x="1406" y="675" width="1" height="10" fill="rgb(135,76,0)"/>
<rect x="1238" y="675" width="1" height="10" fill="rgb(103,76,0)"/>
<rect x="1168" y="675" width="1" height="10" fill="rgb(94,76,0)"/>
<rect x="1653" y="675" width="1" height="10" fill="rgb(103,76,0)"/>
<rect x="587" y="675" width="1" height="10" fill="rgb(139,76,0)"/>
<rect x="1602" y="675" width="1" height="15" fill="rgb(143,76,0)"/>
<rect x="300" y="675" width="1" height="5" fill="rgb(141,76,0)"/>
<rect x="707" y="675" width="1" height="10" fill="rgb(158,76,0)"/>
<rect x="1496" y="675" width="1" height="10" fill="rgb(155,76,0)"/>
<rect x="1299" y="675" width="1" height="10" fill="rgb(108,76,0)"/>
<rect x="583" y="675" width="1" height="5" fill="rgb(125,76,0)"/>
<rect x="1181" y="675" width="1" height="10" fill="rgb(149,76,0)"/>
<rect x="320" y="675" width="1" height="10" fill="rgb(133,76,0)"/>
<rect x="1189" y="675" width="1" height="15" fill="rgb(146,76,0)"/>
<rect x="1025" y="675" width="1" height="10" fill="rgb(154,76,0)"/>
<rect x="991" y="675" width="1" height="5" fill="rgb(152,76,0)"/>
<rect x="979" y="675" width="1" height="15" fill="rgb(95,76,0)"/>
<rect x="357" y="675" width="1" height="5" fill="rgb(90,76,0)"/>
<rect x="387" y="675" width="1" height="5" fill="rgb(127,76,0)"/>
<rect x="521" y="675" width="1" height="5" fill="rgb(118,76,0)"/>
<rect x="1347" y="675" width="1" height="10" fill="rgb(134,76,0)"/>
<rect x="1475" y="675" width="1" height="10" fill="rgb(109,76,0)"/>
<rect x="858" y="675" width="1" height="15" fill="rgb(109,76,0)"/>
<rect x="640" y="675" width="1" height="10" fill="rgb(124,76,0)"/>
<rect x="504" y="675" width="1" height="10" fill="rgb(118,76,0)"/>
<rect x="1379" y="675" width="1" height="5" fill="rgb(153,76,0)"/>
<rect x="834" y="675" width="1" height="10" fill="rgb(152,76,0)"/>
<rect x="1108" y="675" width="1" height="10" fill="rgb(130,76,0)"/>
<rect x="1260" y="675" width="1" height="10" fill="rgb(124,76,0)"/>
<rect x="1325" y="675" width="1" height="10" fill="rgb(159,76,0)"/>
<rect x="1054" y="675" width="1" height="5" fill="rgb(149,76,0)"/>
<rect x="948" y="675" width="1" height="5" fill="rgb(125,76,0)"/>
<rect x="1012" y="675" width="1" height="15" fill="rgb(113,76,0)"/>
<rect x="1605" y="675" width="1" height="10" fill="rgb(127,76,0)"/>
<rect x="717" y="675" width="1" height="15" fill="rgb(107,76,0)"/>
<rect x="277" y="675" width="1" height="10" fill="rgb(97,76,0)"/>
<rect x="1637" y="675" width="1" height="5" fill="rgb(92,76,0)"/>
<rect x="640" y="675" width="1" height="10" fill="rgb(133,76,0)"/>
<rect x="1679" y="675" width="1" height="15" fill="rgb(145,76,0)"/>
<rect x="664" y="675" width="1" height="10" fill="rgb(126,76,0)"/>
<rect x="698" y="675" width="1" height="15" fill="rgb(127,76,0)"/>
<rect x="636" y="675" width="1" height="10" fill="rgb(107,76,0)"/>
<rect x="1568" y="675" width="1" height="5" fill="rgb(148,76,0)"/>
<rect x="555" y="675" width="1" height="10" fill="rgb(129,76,0)"/>
<rect x="682" y="675" width="1" height="10" fill="rgb(149,76,0)"/>
<rect x="248" y="675" width="1" height="15" fill="rgb(137,76,0)"/>
<rect x="1488" y="675" width="1" height="15" fill="rgb(92,76,0)"/>
<rect x="1293" y="675" width="1" height="15" fill="rgb(118,76,0)"/>
<rect x="744" y="675" width="1" height="15" fill="rgb(97,76,0)"/>
<rect x="961" y="675" width="1" height="5" fill="rgb(137,76,0)"/>
<rect x="736" y="675" width="1" height="15" fill="rgb(154,76,0)"/>
<rect x="917" y="675" width="1" height="5" fill="rgb(95,76,0)"/>
<rect x="549" y="675" width="1" height="10" fill="rgb(138,76,0)"/>
<rect x="1082" y="675" width="1" height="10" fill="rgb(121,76,0)"/>
<rect x="410" y="675" width="1" height="10" fill="rgb(133,76,0)"/>
<rect x="243" y="675" width="1" height="10" fill="rgb(158,76,0)"/>
<rect x="999" y="675" width="1" height="15" fill="rgb(140,76,0)"/>
<rect x="1573" y="675" width="1" height="15" fill="rgb(123,76,0)"/>
<rect x="1000" y="675" width="1" height="15" fill="rgb(111,76,0)"/>
<rect x="1199" y="675" width="1" height="10" fill="rgb(141,76,0)"/>
<rect x="1410" y="675" width="1" height="10" fill="rgb(125,76,0)"/>
<rect x="1569" y="675" width="1" height="10" fill="rgb(96,76,0)"/>
<rect x="321" y="675" width="1" height="15" fill="rgb(139,76,0)"/>
<rect x="1311" y="675" width="1" height="15" fill="rgb(138,76,0)"/>
<rect x="1206" y="675" width="1" height="5" fill="rgb(145,76,0)"/>
<rect x="1586" y="675" width="1" height="10" fill="rgb(89,76,0)"/>
<rect x="732" y="675" width="1" height="15" fill="rgb(149,76,0)"/>
<rect x="1645" y="675" width="1" height="10" fill="rgb(92,76,0)"/>
<rect x="521" y="675" width="1" height="10" fill="rgb(106,76,0)"/>
<rect x="394" y="675" width="1" height="15" fill="rgb(115,76,0)"/>
<rect x="496" y="675" width="1" height="10" fill="rgb(155,76,0)"/>
<rect x="1028" y="675" width="1" height="15" fill="rgb(138,76,0)"/>
<rect x="741" y="675" width="1" height="10" fill="rgb(127,76,0)"/>
<rect x="1184" y="675" width="1" height="10" fill="rgb(115,76,0)"/>
<rect x="641" y="675" width="1" height="10" fill="rgb(95,76,0)"/>
<rect x="1388" y="675" width="1" height="10" fill="rgb(112,76,0)"/>
<rect x="435" y="675" width="1" height="15" fill="rgb(113,76,0)"/>
<rect x="400" y="675" width="1" height="15" fill="rgb(145,76,0)"/>
<rect x="565" y="675" width="1" height="5" fill="rgb(91,76,0)"/>
<rect x="862" y="675" width="1" height="10" fill="rgb(97,76,0)"/>
<rect x="463" y="675" width="1" height="10" fill="rgb(92,76,0)"/>
<rect x="538" y="675" width="1" height="10" fill="rgb(150,76,0)"/>
<rect x="1228" y="675" width="1" height="5" fill="rgb(103,76,0)"/>
<rect x="1577" y="675" width="1" height="10" fill="rgb(113,76,0)"/>
<rect x="339" y="675" width="1" height="15" fill="rgb(140,76,0)"/>
<rect x="641" y="675" width="1" height="15" fill="rgb(92,76,0)"/>
<rect x="1147" y="675" width="1" height="10" fill="rgb(158,76,0)"/>
<rect x="825" y="675" width="1" height="10" fill="rgb(88,76,0)"/>
<rect x="837" y="675" width="1" height="10" fill="rgb(145,76,0)"/>
<rect x="693" y="675" width="1" height="15" fill="rgb(118,76,0)"/>
<rect x="1632" y="675" width="1" height="10" fill="rgb(131,76,0)"/>
<rect x="1646" y="675" width="1" height="10" fill="rgb(108,76,0)"/>
<rect x="822" y="675" width="1" height="10" fill="rgb(127,76,0)"/>
<rect x="1542" y="675" width="1" height="10" fill="rgb(145,76,0)"/>
<rect x="775" y="675" width="1" height="15" fill="rgb(111,76,0)"/>
<rect x="342" y="675" width="1" height="10" fill="rgb(122,76,0)"/>
<rect x="1154" y="675" width="1" height="10" fill="rgb(149,76,0)"/>
<rect x="1538" y="675" width="1" height="10" fill="rgb(115,76,0)"/>
<rect x="1430" y="675" width="1" height="15" fill="rgb(123,76,0)"/>
<rect x="1371" y="675" width="1" height="5" fill="rgb(95,76,0)"/>
<rect x="822" y="675" width="1" height="15" fill="rgb(101,76,0)"/>
<rect x="462" y="675" width="1" height="10" fill="rgb(157,76,0)"/>
<rect x="1540" y="675" width="1" height="15" fill="rgb(153,76,0)"/>
<rect x="1517" y="675" width="1" height="5" fill="rgb(106,76,0)"/>
<rect x="1113" y="675" width="1" height="10" fill="rgb(120,76,0)"/>
<rect x="385" y="675" width="1" height="10" fill="rgb(105,76,0)"/>
<rect x="1565" y="675" width="1" height="10" fill="rgb(148,76,0)"/>
<rect x="685" y="675" width="1" height="15" fill="rgb(103,76,0)"/>
<rect x="1618" y="675" width="1" height="10" fill="rgb(133,76,0)"/>
<rect x="1493" y="675" width="1" height="5" fill="rgb(150,76,0)"/>
<rect x="1137" y="675" width="1" height="10" fill="rgb(117,76,0)"/>
<rect x="588" y="675" width="1" height="10" fill="rgb(100,76,0)"/>
<rect x="785" y="675" width="1" height="5" fill="rgb(157,76,0)"/>
<rect x="791" y="675" width="1" height="5" fill="rgb(91,76,0)"/>
<rect x="677" y="675" width="1" height="10" fill="rgb(126,76,0)"/>
<rect x="787" y="675" width="1" height="5" fill="rgb(151,76,0)"/>
<rect x="1663" y="675" width="1" height="5" fill="rgb(126,76,0)"/>
<rect x="513" y="675" width="1" height="10" fill="rgb(111,76,0)"/>
<rect x="1123" y="675" width="1" height="15" fill="rgb(156,76,0)"/>
<rect x="373" y="675" width="1" height="5" fill="rgb(148,76,0)"/>
<rect x="812" y="675" width="1" height="10" fill="rgb(89,76,0)"/>
<rect x="1474" y="675" width="1" height="5" fill="rgb(110,76,0)"/>
<rect x="1163" y="675" width="1" height="10" fill="rgb(128,76,0)"/>
<rect x="307" y="675" width="1" height="10" fill="rgb(111,76,0)"/>
<rect x="1289" y="675" width="1" height="15" fill="rgb(136,76,0)"/>
<rect x="1261" y="675" width="1" height="5" fill="rgb(132,76,0)"/>
<rect x="580" y="675" width="1" height="10" fill="rgb(142,76,0)"/>
<rect x="1645" y="675" width="1" height="10" fill="rgb(145,76,0)"/>
<rect x="482" y="675" width="1" height="15" fill="rgb(122,76,0)"/>
<rect x="1200" y="675" width="1" height="5" fill="rgb(102,76,0)"/>
<rect x="1675" y="675" width="1" height="15" fill="rgb(136,76,0)"/>
<rect x="241" y="675" width="1" height="10" fill="rgb(97,76,0)"/>
<rect x="583" y="675" width="1" height="10" fill="rgb(100,76,0)"/>
<rect x="1469" y="675" width="1" height="10" fill="rgb(126,76,0)"/>
<rect x="1610" y="675" width="1" height="10" fill="rgb(152,76,0)"/>
<rect x="356" y="675" width="1" height="10" fill="rgb(128,76,0)"/>
<rect x="500" y="675" width="1" height="5" fill="rgb(152,76,0)"/>
<rect x="999" y="675" width="1" height="5" fill="rgb(126,76,0)"/>
<rect x="916" y="675" width="1" height="15" fill="rgb(96,76,0)"/>
<rect x="397" y="675" width="1" height="10" fill="rgb(99,76,0)"/>
<rect x="1439" y="675" width="1" height="15" fill="rgb(130,76,0)"/>
<rect x="1177" y="675" width="1" height="15" fill="rgb(125,76,0)"/>
<rect x="1663" y="675" width="1" height="5" fill="rgb(141,76,0)"/>
<rect x="947" y="675" width="1" height="10" fill="rgb(91,76,0)"/>
<rect x="1248" y="675" width="1" height="10" fill="rgb(120,76,0)"/>
<rect x="774" y="675" width="1" height="15" fill="rgb(127,76,0)"/>
<rect x="1041" y="675" width="1" height="15" fill="rgb(137,76,0)"/>
<rect x="1430" y="675" width="1" height="15" fill="rgb(146,76,0)"/>
<rect x="1557" y="675" width="1" height="5" fill="rgb(104,76,0)"/>
<rect x="994" y="675" width="1" height="5" fill="rgb(150,76,0)"/>
<rect x="281" y="675" width="1" height="15" fill="rgb(94,76,0)"/>
<rect x="919" y="675" width="1" height="10" fill="rgb(95,76,0)"/>
<rect x="393" y="675" width="1" height="10" fill="rgb(114,76,0)"/>
<rect x="684" y="675" width="1" height="5" fill="rgb(132,76,0)"/>
<rect x="1423" y="675" width="1" height="10" fill="rgb(115,76,0)"/>
<rect x="515" y="675" width="1" height="10" fill="rgb(103,76,0)"/>
<rect x="397" y="675" width="1" height="5" fill="rgb(137,76,0)"/>
<rect x="354" y="675" width="1" height="10" fill="rgb(116,76,0)"/>
<rect x="979" y="675" width="1" height="10" fill="rgb(125,76,0)"/>
<rect x="1411" y="675" width="1" height="10" fill="rgb(125,76,0)"/>
<rect x="1085" y="675" width="1" height="15" fill="rgb(156,76,0)"/>
<rect x="565" y="675" width="1" height="15" fill="rgb(138,76,0)"/>
<rect x="423" y="675" width="1" height="5" fill="rgb(111,76,0)"/>
<rect x="1291" y="675" width="1" height="10" fill="rgb(157,76,0)"/>
<rect x="467" y="675" width="1" height="15" fill="rgb(142,76,0)"/>
<rect x="1291" y="675" width="1" height="10" fill="rgb(105,76,0)"/>
<rect x="1350" y="675" width="1" height="15" fill="rgb(111,76,0)"/>
<rect x="826" y="675" width="1" height="15" fill="rgb(146,76,0)"/>
<rect x="1385" y="675" width="1" height="5" fill="rgb(100,76,0)"/>
<rect x="1688" y="675" width="1" height="5" fill="rgb(109,76,0)"/>
<rect x="1290" y="675" width="1" height="10" fill="rgb(112,76,0)"/>
<rect x="1413" y="675" width="1" height="5" fill="rgb(89,76,0)"/>
<rect x="1490" y="675" width="1" height="5" fill="rgb(149,76,0)"/>
<rect x="207" y="690" width="1" height="4" fill="rgb(255,13,0)"/>
<rect x="209" y="690" width="1" height="4" fill="rgb(172,13,0)"/>
<rect x="211" y="690" width="2" height="4" fill="rgb(172,13,0)"/>
<rect x="216" y="690" width="1" height="4" fill="rgb(255,13,0)"/>
<rect x="220" y="690" width="1" height="4" fill="rgb(255,13,0)"/>
<rect x="223" y="690" width="1" height="4" fill="rgb(255,13,0)"/>
<rect x="226" y="690" width="1" height="4" fill="rgb(255,13,0)"/>
<rect x="228" y="690" width="1" height="4" fill="rgb(255,13,0)"/>
<rect x="231" y="690" width="1" height="4" fill="rgb(255,13,0)"/>
<rect x="235" y="690" width="1" height="4" fill="rgb(255,13,0)"/>
<rect x="239" y="690" width="2" height="4" fill="rgb(172,13,0)"/>
<rect x="243" y="690" width="1" height="4" fill="rgb(255,13,0)"/>
<rect x="246" y="690" width="1" height="4" fill="rgb(255,13,0)"/>
<rect x="249" y="690" width="1" height="4" fill="rgb(172,13,0)"/>
<rect x="252" y="690" width="1" height="4" fill="rgb(172,13,0)"/>
<rect x="255" y="690" width="1" height="4" fill="rgb(255,13,0)"/>
<rect x="257" y="690" width="1" height="4" fill="rgb(255,13,0)"/>
<rect x="259" y="690" width="1" height="4" fill="rgb(255,13,0)"/>
<rect x="263" y="690" width="1" height="4" fill="rgb(255,13,0)"/>
<rect x="267" y="690" width="2" height="4" fill="rgb(255,13,0)"/>
<rect x="272" y="690" width="1" height="4" fill="rgb(172,13,0)"/>
<rect x="275" y="690" width="1" height="4" fill="rgb(255,13,0)"/>
<rect x="278" y="690" width="1" height="4" fill="rgb(255,13,0)"/>
<rect x="281" y="690" width="1" height="4" fill="rgb(172,13,0)"/>
<rect x="286" y="690" width="1" height="4" fill="rgb(255,13,0)"/>
<rect x="290" y="690" width="2" height="4" fill="rgb(255,13,0)"/>
<rect x="294" y="690" width="1" height="4" fill="rgb(172,13,0)"/>
<rect x="298" y="690" width="1" height="4" fill="rgb(255,13,0)"/>
<rect x="302" y="690" width="1" height="4" fill="rgb(255,13,0)"/>
<rect x="306" y="690" width="1" height="4" fill="rgb(255,13,0)"/>
<rect x="308" y="690" width="1" height="4" fill="rgb(255,13,0)"/>
<rect x="310" y="690" width="1" height="4" fill="rgb(172,13,0)"/>
<rect x="314" y="690" width="1" height="4" fill="rgb(255,13,0)"/>
<rect x="316" y="690" width="1" height="4" fill="rgb(172,13,0)"/>
<rect x="319" y="690" width="2" height="4" fill="rgb(172,13,0)"/>
<rect x="324" y="690" width="1" height="4" fill="rgb(255,13,0)"/>
<rect x="327" y="690" width="2" height="4" fill="rgb(255,13,0)"/>
<rect x="330" y="690" width="1" height="4" fill="rgb(255,13,0)"/>
<rect x="333" y="690" width="1" height="4" fill="rgb(255,13,0)"/>
<rect x="336" y="690" width="1" height="4" fill="rgb(255,13,0)"/>
<rect x="341" y="690" width="1" height="4" fill="rgb(255,13,0)"/>
<rect x="344" y="690" width="1" height="4" fill="rgb(255,13,0)"/>
<rect x="348" y="690" width="1" height="4" fill="rgb(255,13,0)"/>
<rect x="353" y="690" width="1" height="4" fill="rgb(255,13,0)"/>
<rect x="357" y="690" width="2" height="4" fill="rgb(172,13,0)"/>
<rect x="361" y="690" width="1" height="4" fill="rgb(255,13,0)"/>
<rect x="364" y="690" width="1" height="4" fill="rgb(255,13,0)"/>
<rect x="366" y="690" width="1" height="4" fill="rgb(172,13,0)"/>
<rect x="369" y="690" width="1" height="4" fill="rgb(255,13,0)"/>
<rect x="372" y="690" width="1" height="4" fill="rgb(255,13,0)"/>
<rect x="375" y="690" width="2" height="4" fill="rgb(255,13,0)"/>
<rect x="378" y="690" width="1" height="4" fill="rgb(255,13,0)"/>
<rect x="381" y="690" width="2" height="4" fill="rgb(172,13,0)"/>
<rect x="385" y="690" width="1" height="4" fill="rgb(255,13,0)"/>
<rect x="388" y="690" width="1" height="4" fill="rgb(255,13,0)"/>
<rect x="391" y="690" width="1" height="4" fill="rgb(172,13,0)"/>
<rect x="395" y="690" width="1" height="4" fill="rgb(255,13,0)"/>
<rect x="399" y="690" width="1" height="4" fill="rgb(255,13,0)"/>
<rect x="403" y="690" width="1" height="4" fill="rgb(172,13,0)"/>
<rect x="406" y="690" width="1" height="4" fill="rgb(255,13,0)"/>
<rect x="410" y="690" width="1" height="4" fill="rgb(255,13,0)"/>
<rect x="412" y="690" width="2" height="4" fill="rgb(172,13,0)"/>
<rect x="416" y="690" width="1" height="4" fill="rgb(255,13,0)"/>
<rect x="421" y="690" width="1" height="4" fill="rgb(255,13,0)"/>
<rect x="425" y="690" width="1" height="4" fill="rgb(255,13,0)"/>
<rect x="429" y="690" width="1" height="4" fill="rgb(255,13,0)"/>
<rect x="433" y="690" width="1" height="4" fill="rgb(255,13,0)"/>
<rect x="435" y="690" width="1" height="4" fill="rgb(172,13,0)"/>
<rect x="438" y="690" width="1" height="4" fill="rgb(255,13,0)"/>
<rect x="442" y="690" width="2" height="4" fill="rgb(255,13,0)"/>
<rect x="448" y="690" width="2" height="4" fill="rgb(255,13,0)"/>
<rect x="452" y="690" width="1" height="4" fill="rgb(255,13,0)"/>
<rect x="457" y="690" width="1" height="4" fill="rgb(255,13,0)"/>
<rect x="462" y="690" width="1" height="4" fill="rgb(255,13,0)"/>
<rect x="465" y="690" width="1" height="4" fill="rgb(255,13,0)"/>
<rect x="470" y="690" width="1" height="4" fill="rgb(172,13,0)"/>
<rect x="473" y="690" width="1" height="4" fill="rgb(255,13,0)"/>
<rect x="477" y="690" width="2" height="4" fill="rgb(255,13,0)"/>
<rect x="482" y="690" width="1" height="4" fill="rgb(255,13,0)"/>
<rect x="486" y="690" width="2" height="4" fill="rgb(255,13,0)"/>
<rect x="492" y="690" width="1" height="4" fill="rgb(255,13,0)"/>
<rect x="495" y="690" width="1" height="4" fill="rgb(172,13,0)"/>
<rect x="497" y="690" width="1" height="4" fill="rgb(255,13,0)"/>
<rect x="502" y="690" width="1" height="4" fill="rgb(255,13,0)"/>
<rect x="506" y="690" width="2" height="4" fill="rgb(255,13,0)"/>
<rect x="511" y="690" width="1" height="4" fill="rgb(255,13,0)"/>
<rect x="513" y="690" width="1" height="4" fill="rgb(255,13,0)"/>
<rect x="516" y="690" width="2" height="4" fill="rgb(172,13,0)"/>
<rect x="522" y="690" width="1" height="4" fill="rgb(255,13,0)"/>
<rect x="524" y="690" width="1" height="4" fill="rgb(255,13,0)"/>
<rect x="527" y="690" width="1" height="4" fill="rgb(255,13,0)"/>
<rect x="529" y="690" width="2" height="4" fill="rgb(172,13,0)"/>
<rect x="534" y="690" width="1" height="4" fill="rgb(255,13,0)"/>
<rect x="538" y="690" width="1" height="4" fill="rgb(255,13,0)"/>
<rect x="541" y="690" width="1" height="4" fill="rgb(255,13,0)"/>
<rect x="543" y="690" width="1" height="4" fill="rgb(172,13,0)"/>
<rect x="545" y="690" width="1" height="4" fill="rgb(255,13,0)"/>
<rect x="549" y="690" width="2" height="4" fill="rgb(255,13,0)"/>
<rect x="553" y="690" width="1" height="4" fill="rgb(255,13,0)"/>
<rect x="558" y="690" width="2" height="4" fill="rgb(255,13,0)"/>
<rect x="562" y="690" width="2" height="4" fill="rgb(255,13,0)"/>
<rect x="567" y="690" width="1" height="4" fill="rgb(172,13,0)"/>
<rect x="570" y="690" width="1" height="4" fill="rgb(255,13,0)"/>
<rect x="573" y="690" width="1" height="4" fill="rgb(255,13,0)"/>
<rect x="578" y="690" width="2" height="4" fill="rgb(172,13,0)"/>
<rect x="581" y="690" width="2" height="4" fill="rgb(172,13,0)"/>
<rect x="584" y="690" width="1" height="4" fill="rgb(255,13,0)"/>
<rect x="588" y="690" width="2" height="4" fill="rgb(172,13,0)"/>
<rect x="591" y="690" width="1" height="4" fill="rgb(255,13,0)"/>
<rect x="596" y="690" width="1" height="4" fill="rgb(255,13,0)"/>
<rect x="599" y="690" width="1" height="4" fill="rgb(255,13,0)"/>
<rect x="602" y="690" width="1" height="4" fill="rgb(172,13,0)"/>
<rect x="605" y="690" width="1" height="4" fill="rgb(255,13,0)"/>
<rect x="608" y="690" width="1" height="4" fill="rgb(255,13,0)"/>
<rect x="612" y="690" width="1" height="4" fill="rgb(255,13,0)"/>
<rect x="617" y="690" width="1" height="4" fill="rgb(172,13,0)"/>
<rect x="621" y="690" width="1" height="4" fill="rgb(255,13,0)"/>
<rect x="624" y="690" width="2" height="4" fill="rgb(255,13,0)"/>
<rect x="628" y="690" width="1" height="4" fill="rgb(255,13,0)"/>
<rect x="630" y="690" width="2" height="4" fill="rgb(172,13,0)"/>
<rect x="634" y="690" width="1" height="4" fill="rgb(255,13,0)"/>
<rect x="639" y="690" width="1" height="4" fill="rgb(255,13,0)"/>
<rect x="644" y="690" width="1" height="4" fill="rgb(255,13,0)"/>
<rect x="646" y="690" width="2" height="4" fill="rgb(172,13,0)"/>
<rect x="650" y="690" width="1" height="4" fill="rgb(255,13,0)"/>
<rect x="653" y="690" width="2" height="4" fill="rgb(172,13,0)"/>
<rect x="657" y="690" width="1" height="4" fill="rgb(255,13,0)"/>
<rect x="661" y="690" width="1" height="4" fill="rgb(172,13,0)"/>
<rect x="664" y="690" width="1" height="4" fill="rgb(255,13,0)"/>
<rect x="668" y="690" width="1" height="4" fill="rgb(172,13,0)"/>
<rect x="673" y="690" width="1" height="4" fill="rgb(255,13,0)"/>
<rect x="678" y="690" width="1" height="4" fill="rgb(255,13,0)"/>
<rect x="682" y="690" width="1" height="4" fill="rgb(255,13,0)"/>
<rect x="684" y="690" width="1" height="4" fill="rgb(172,13,0)"/>
<rect x="686" y="690" width="1" height="4" fill="rgb(172,13,0)"/>
<rect x="690" y="690" width="1" height="4" fill="rgb(255,13,0)"/>
<rect x="694" y="690" width="1" height="4" fill="rgb(172,13,0)"/>
<rect x="698" y="690" width="1" height="4" fill="rgb(255,13,0)"/>
<rect x="702" y="690" width="1" height="4" fill="rgb(255,13,0)"/>
<rect x="707" y="690" width="1" height="4" fill="rgb(255,13,0)"/>
<rect x="712" y="690" width="1" height="4" fill="rgb(255,13,0)"/>
<rect x="714" y="690" width="2" height="4" fill="rgb(255,13,0)"/>
<rect x="720" y="690" width="1" height="4" fill="rgb(172,13,0)"/>
<rect x="722" y="690" width="2" height="4" fill="rgb(172,13,0)"/>
<rect x="727" y="690" width="1" height="4" fill="rgb(255,13,0)"/>
<rect x="729" y="690" width="1" height="4" fill="rgb(172,13,0)"/>
<rect x="733" y="690" width="1" height="4" fill="rgb(255,13,0)"/>
<rect x="735" y="690" width="2" height="4" fill="rgb(255,13,0)"/>
<rect x="740" y="690" width="1" height="4" fill="rgb(255,13,0)"/>
<rect x="744" y="690" width="1" height="4" fill="rgb(255,13,0)"/>
<rect x="748" y="690" width="1" height="4" fill="rgb(172,13,0)"/>
<rect x="751" y="690" width="1" height="4" fill="rgb(255,13,0)"/>
<rect x="755" y="690" width="1" height="4" fill="rgb(255,13,0)"/>
<rect x="760" y="690" width="1" height="4" fill="rgb(255,13,0)"/>
<rect x="763" y="690" width="1" height="4" fill="rgb(255,13,0)"/>
<rect x="767" y="690" width="1" height="4" fill="rgb(255,13,0)"/>
<rect x="769" y="690" width="1" height="4" fill="rgb(255,13,0)"/>
<rect x="773" y="690" width="2" height="4" fill="rgb(172,13,0)"/>
<rect x="777" y="690" width="1" height="4" fill="rgb(172,13,0)"/>
<rect x="781" y="690" width="1" height="4" fill="rgb(172,13,0)"/>
<rect x="786" y="690" width="1" height="4" fill="rgb(255,13,0)"/>
<rect x="791" y="690" width="1" height="4" fill="rgb(172,13,0)"/>
<rect x="793" y="690" width="1" height="4" fill="rgb(255,13,0)"/>
<rect x="795" y="690" width="1" height="4" fill="rgb(172,13,0)"/>
<rect x="798" y="690" width="1" height="4" fill="rgb(255,13,0)"/>
<rect x="803" y="690" width="1" height="4" fill="rgb(172,13,0)"/>
<rect x="806" y="690" width="1" height="4" fill="rgb(172,13,0)"/>
<rect x="811" y="690" width="2" height="4" fill="rgb(255,13,0)"/>
<rect x="815" y="690" width="1" height="4" fill="rgb(255,13,0)"/>
<rect x="818" y="690" width="1" height="4" fill="rgb(255,13,0)"/>
<rect x="820" y="690" width="2" height="4" fill="rgb(255,13,0)"/>
<rect x="823" y="690" width="1" height="4" fill="rgb(172,13,0)"/>
<rect x="827" y="690" width="1" height="4" fill="rgb(172,13,0)"/>
<rect x="830" y="690" width="1" height="4" fill="rgb(255,13,0)"/>
<rect x="835" y="690" width="1" height="4" fill="rgb(255,13,0)"/>
<rect x="838" y="690" width="1" height="4" fill="rgb(172,13,0)"/>
<rect x="843" y="690" width="1" height="4" fill="rgb(255,13,0)"/>
<rect x="847" y="690" width="1" height="4" fill="rgb(172,13,0)"/>
<rect x="851" y="690" width="1" height="4" fill="rgb(255,13,0)"/>
<rect x="855" y="690" width="1" height="4" fill="rgb(172,13,0)"/>
<rect x="860" y="690" width="1" height="4" fill="rgb(255,13,0)"/>
<rect x="864" y="690" width="1" height="4" fill="rgb(255,13,0)"/>
<rect x="867" y="690" width="2" height="4" fill="rgb(172,13,0)"/>
<rect x="872" y="690" width="1" height="4" fill="rgb(255,13,0)"/>
<rect x="875" y="690" width="2" height="4" fill="rgb(172,13,0)"/>
<rect x="880" y="690" width="1" height="4" fill="rgb(255,13,0)"/>
<rect x="882" y="690" width="1" height="4" fill="rgb(255,13,0)"/>
<rect x="885" y="690" width="1" height="4" fill="rgb(172,13,0)"/>
<rect x="890" y="690" width="1" height="4" fill="rgb(255,13,0)"/>
<rect x="893" y="690" width="2" height="4" fill="rgb(172,13,0)"/>
<rect x="899" y="690" width="1" height="4" fill="rgb(172,13,0)"/>
<rect x="903" y="690" width="1" height="4" fill="rgb(255,13,0)"/>
<rect x="908" y="690" width="1" height="4" fill="rgb(255,13,0)"/>
<rect x="912" y="690" width="1" height="4" fill="rgb(172,13,0)"/>
<rect x="914" y="690" width="1" height="4" fill="rgb(172,13,0)"/>
<rect x="916" y="690" width="2" height="4" fill="rgb(255,13,0)"/>
<rect x="921" y="690" width="1" height="4" fill="rgb(255,13,0)"/>
<rect x="926" y="690" width="2" height="4" fill="rgb(255,13,0)"/>
<rect x="931" y="690" width="1" height="4" fill="rgb(255,13,0)"/>
<rect x="936" y="690" width="1" height="4" fill="rgb(255,13,0)"/>
<rect x="941" y="690" width="1" height="4" fill="rgb(172,13,0)"/>
<rect x="944" y="690" width="2" height="4" fill="rgb(255,13,0)"/>
<rect x="949" y="690" width="2" height="4" fill="rgb(172,13,0)"/>
<rect x="953" y="690" width="1" height="4" fill="rgb(255,13,0)"/>
<rect x="957" y="690" width="1" height="4" fill="rgb(255,13,0)"/>
<rect x="962" y="690" width="1" height="4" fill="rgb(255,13,0)"/>
<rect x="967" y="690" width="1" height="4" fill="rgb(255,13,0)"/>
<rect x="971" y="690" width="1" height="4" fill="rgb(255,13,0)"/>
<rect x="975" y="690" width="1" height="4" fill="rgb(255,13,0)"/>
<rect x="978" y="690" width="1" height="4" fill="rgb(255,13,0)"/>
<rect x="981" y="690" width="1" height="4" fill="rgb(255,13,0)"/>
<rect x="984" y="690" width="1" height="4" fill="rgb(255,13,0)"/>
<rect x="986" y="690" width="1" height="4" fill="rgb(255,13,0)"/>
<rect x="990" y="690" width="1" height="4" fill="rgb(255,13,0)"/>
<rect x="994" y="690" width="1" height="4" fill="rgb(172,13,0)"/>
<rect x="998" y="690" width="1" height="4" fill="rgb(172,13,0)"/>
<rect x="1002" y="690" width="1" height="4" fill="rgb(255,13,0)"/>
<rect x="1006" y="690" width="1" height="4" fill="rgb(255,13,0)"/>
<rect x="1010" y="690" width="1" height="4" fill="rgb(255,13,0)"/>
<rect x="1012" y="690" width="2" height="4" fill="rgb(172,13,0)"/>
<rect x="1016" y="690" width="1" height="4" fill="rgb(172,13,0)"/>
<rect x="1018" y="690" width="1" height="4" fill="rgb(255,13,0)"/>
<rect x="1023" y="690" width="1" height="4" fill="rgb(255,13,0)"/>
<rect x="1027" y="690" width="2" height="4" fill="rgb(255,13,0)"/>
<rect x="1031" y="690" width="1" height="4" fill="rgb(255,13,0)"/>
<rect x="1035" y="690" width="1" height="4" fill="rgb(255,13,0)"/>
<rect x="1039" y="690" width="1" height="4" fill="rgb(255,13,0)"/>
<rect x="1042" y="690" width="2" height="4" fill="rgb(172,13,0)"/>
<rect x="1046" y="690" width="1" height="4" fill="rgb(255,13,0)"/>
<rect x="1051" y="690" width="1" height="4" fill="rgb(255,13,0)"/>
<rect x="1054" y="690" width="1" height="4" fill="rgb(255,13,0)"/>
<rect x="1057" y="690" width="2" height="4" fill="rgb(172,13,0)"/>
<rect x="1063" y="690" width="2" height="4" fill="rgb(172,13,0)"/>
<rect x="1067" y="690" width="1" height="4" fill="rgb(255,13,0)"/>
<rect x="1071" y="690" width="2" height="4" fill="rgb(255,13,0)"/>
<rect x="1077" y="690" width="1" height="4" fill="rgb(255,13,0)"/>
<rect x="1081" y="690" width="1" height="4" fill="rgb(255,13,0)"/>
<rect x="1083" y="690" width="1" height="4" fill="rgb(255,13,0)"/>
<rect x="1088" y="690" width="1" height="4" fill="rgb(255,13,0)"/>
<rect x="1093" y="690" width="1" height="4" fill="rgb(255,13,0)"/>
<rect x="1097" y="690" width="2" height="4" fill="rgb(255,13,0)"/>
<rect x="1102" y="690" width="2" height="4" fill="rgb(172,13,0)"/>
<rect x="1107" y="690" width="1" height="4" fill="rgb(255,13,0)"/>
<rect x="1111" y="690" width="1" height="4" fill="rgb(172,13,0)"/>
<rect x="1113" y="690" width="1" height="4" fill="rgb(172,13,0)"/>
<rect x="1116" y="690" width="1" height="4" fill="rgb(255,13,0)"/>
<rect x="1120" y="690" width="1" height="4" fill="rgb(255,13,0)"/>
<rect x="1123" y="690" width="2" height="4" fill="rgb(255,13,0)"/>
<rect x="1129" y="690" width="1" height="4" fill="rgb(255,13,0)"/>
<rect x="1133" y="690" width="1" height="4" fill="rgb(172,13,0)"/>
<rect x="1138" y="690" width="1" height="4" fill="rgb(255,13,0)"/>
<rect x="1141" y="690" width="1" height="4" fill="rgb(255,13,0)"/>
<rect x="1144" y="690" width="1" height="4" fill="rgb(172,13,0)"/>
<rect x="1147" y="690" width="2" height="4" fill="rgb(255,13,0)"/>
<rect x="1152" y="690" width="1" height="4" fill="rgb(172,13,0)"/>
<rect x="1155" y="690" width="1" height="4" fill="rgb(172,13,0)"/>
<rect x="1157" y="690" width="1" height="4" fill="rgb(255,13,0)"/>
<rect x="1160" y="690" width="1" height="4" fill="rgb(255,13,0)"/>
<rect x="1163" y="690" width="1" height="4" fill="rgb(172,13,0)"/>
<rect x="1166" y="690" width="1" height="4" fill="rgb(172,13,0)"/>
<rect x="1169" y="690" width="1" height="4" fill="rgb(255,13,0)"/>
<rect x="1172" y="690" width="1" height="4" fill="rgb(255,13,0)"/>
<rect x="1176" y="690" width="1" height="4" fill="rgb(255,13,0)"/>
<rect x="1179" y="690" width="1" height="4" fill="rgb(172,13,0)"/>
<rect x="1183" y="690" width="1" height="4" fill="rgb(255,13,0)"/>
<rect x="1186" y="690" width="1" height="4" fill="rgb(255,13,0)"/>
<rect x="1189" y="690" width="1" height="4" fill="rgb(255,13,0)"/>
<rect x="1191" y="690" width="1" height="4" fill="rgb(255,13,0)"/>
<rect x="1196" y="690" width="2" height="4" fill="rgb(255,13,0)"/>
<rect x="1200" y="690" width="2" height="4" fill="rgb(255,13,0)"/>
<rect x="1205" y="690" width="2" height="4" fill="rgb(255,13,0)"/>
<rect x="1209" y="690" width="1" height="4" fill="rgb(172,13,0)"/>
<rect x="1213" y="690" width="1" height="4" fill="rgb(172,13,0)"/>
<rect x="1216" y="690" width="1" height="4" fill="rgb(255,13,0)"/>
<rect x="1219" y="690" width="2" height="4" fill="rgb(172,13,0)"/>
<rect x="1223" y="690" width="1" height="4" fill="rgb(255,13,0)"/>
<rect x="1228" y="690" width="2" height="4" fill="rgb(255,13,0)"/>
<rect x="1232" y="690" width="2" height="4" fill="rgb(255,13,0)"/>
<rect x="1236" y="690" width="1" height="4" fill="rgb(255,13,0)"/>
<rect x="1239" y="690" width="1" height="4" fill="rgb(172,13,0)"/>
<rect x="1242" y="690" width="2" height="4" fill="rgb(255,13,0)"/>
<rect x="1246" y="690" width="1" height="4" fill="rgb(255,13,0)"/>
<rect x="1248" y="690" width="1" height="4" fill="rgb(172,13,0)"/>
<rect x="1252" y="690" width="1" height="4" fill="rgb(255,13,0)"/>
<rect x="1255" y="690" width="1" height="4" fill="rgb(172,13,0)"/>
<rect x="1259" y="690" width="1" height="4" fill="rgb(255,13,0)"/>
<rect x="1264" y="690" width="1" height="4" fill="rgb(172,13,0)"/>
<rect x="1269" y="690" width="1" height="4" fill="rgb(255,13,0)"/>
<rect x="1272" y="690" width="1" height="4" fill="rgb(172,13,0)"/>
<rect x="1276" y="690" width="1" height="4" fill="rgb(172,13,0)"/>
<rect x="1278" y="690" width="2" height="4" fill="rgb(255,13,0)"/>
<rect x="1283" y="690" width="1" height="4" fill="rgb(255,13,0)"/>
<rect x="1285" y="690" width="1" height="4" fill="rgb(255,13,0)"/>
<rect x="1288" y="690" width="2" height="4" fill="rgb(255,13,0)"/>
<rect x="1292" y="690" width="2" height="4" fill="rgb(255,13,0)"/>
<rect x="1297" y="690" width="1" height="4" fill="rgb(172,13,0)"/>
<rect x="1300" y="690" width="1" height="4" fill="rgb(172,13,0)"/>
<rect x="1303" y="690" width="2" height="4" fill="rgb(255,13,0)"/>
<rect x="1307" y="690" width="1" height="4" fill="rgb(255,13,0)"/>
<rect x="1312" y="690" width="2" height="4" fill="rgb(255,13,0)"/>
<rect x="1316" y="690" width="1" height="4" fill="rgb(255,13,0)"/>
<rect x="1319" y="690" width="1" height="4" fill="rgb(255,13,0)"/>
<rect x="1324" y="690" width="1" height="4" fill="rgb(172,13,0)"/>
<rect x="1327" y="690" width="1" height="4" fill="rgb(255,13,0)"/>
<rect x="1330" y="690" width="1" height="4" fill="rgb(255,13,0)"/>
<rect x="1334" y="690" width="2" height="4" fill="rgb(255,13,0)"/>
<rect x="1339" y="690" width="2" height="4" fill="rgb(255,13,0)"/>
<rect x="1344" y="690" width="1" height="4" fill="rgb(255,13,0)"/>
<rect x="1348" y="690" width="1" height="4" fill="rgb(172,13,0)"/>
<rect x="1351" y="690" width="1" height="4" fill="rgb(255,13,0)"/>
<rect x="1355" y="690" width="2" height="4" fill="rgb(255,13,0)"/>
<rect x="1360" y="690" width="1" height="4" fill="rgb(255,13,0)"/>
<rect x="1363" y="690" width="2" height="4" fill="rgb(255,13,0)"/>
<rect x="1368" y="690" width="1" height="4" fill="rgb(255,13,0)"/>
<rect x="1370" y="690" width="2" height="4" fill="rgb(172,13,0)"/>
<rect x="1374" y="690" width="2" height="4" fill="rgb(172,13,0)"/>
<rect x="1378" y="690" width="1" height="4" fill="rgb(255,13,0)"/>
<rect x="1382" y="690" width="1" height="4" fill="rgb(255,13,0)"/>
<rect x="1385" y="690" width="2" height="4" fill="rgb(172,13,0)"/>
<rect x="1391" y="690" width="1" height="4" fill="rgb(172,13,0)"/>
<rect x="1396" y="690" width="2" height="4" fill="rgb(255,13,0)"/>
<rect x="1400" y="690" width="1" height="4" fill="rgb(255,13,0)"/>
<rect x="1405" y="690" width="2" height="4" fill="rgb(255,13,0)"/>
<rect x="1410" y="690" width="2" height="4" fill="rgb(172,13,0)"/>
<rect x="1415" y="690" width="2" height="4" fill="rgb(255,13,0)"/>
<rect x="1419" y="690" width="1" height="4" fill="rgb(172,13,0)"/>
<rect x="1421" y="690" width="2" height="4" fill="rgb(172,13,0)"/>
<rect x="1425" y="690" width="1" height="4" fill="rgb(172,13,0)"/>
<rect x="1428" y="690" width="2" height="4" fill="rgb(255,13,0)"/>
<rect x="1432" y="690" width="1" height="4" fill="rgb(255,13,0)"/>
<rect x="1434" y="690" width="2" height="4" fill="rgb(255,13,0)"/>
<rect x="1439" y="690" width="1" height="4" fill="rgb(255,13,0)"/>
<rect x="1444" y="690" width="1" height="4" fill="rgb(255,13,0)"/>
<rect x="1447" y="690" width="2" height="4" fill="rgb(255,13,0)"/>
<rect x="1452" y="690" width="1" height="4" fill="rgb(172,13,0)"/>
<rect x="1455" y="690" width="1" height="4" fill="rgb(255,13,0)"/>
<rect x="1458" y="690" width="2" height="4" fill="rgb(255,13,0)"/>
<rect x="1462" y="690" width="1" height="4" fill="rgb(255,13,0)"/>
<rect x="1465" y="690" width="1" height="4" fill="rgb(172,13,0)"/>
<rect x="1467" y="690" width="1" height="4" fill="rgb(255,13,0)"/>
<rect x="1472" y="690" width="1" height="4" fill="rgb(255,13,0)"/>
<rect x="1476" y="690" width="2" height="4" fill="rgb(255,13,0)"/>
<rect x="1479" y="690" width="1" height="4" fill="rgb(255,13,0)"/>
<rect x="1483" y="690" width="1" height="4" fill="rgb(172,13,0)"/>
<rect x="1487" y="690" width="1" height="4" fill="rgb(172,13,0)"/>
<rect x="1492" y="690" width="2" height="4" fill="rgb(255,13,0)"/>
<rect x="1496" y="690" width="2" height="4" fill="rgb(255,13,0)"/>
<rect x="1500" y="690" width="1" height="4" fill="rgb(172,13,0)"/>
<rect x="1503" y="690" width="1" height="4" fill="rgb(255,13,0)"/>
<rect x="1507" y="690" width="2" height="4" fill="rgb(255,13,0)"/>
<rect x="1511" y="690" width="1" height="4" fill="rgb(255,13,0)"/>
<rect x="1515" y="690" width="1" height="4" fill="rgb(255,13,0)"/>
<rect x="1519" y="690" width="2" height="4" fill="rgb(172,13,0)"/>
<rect x="1523" y="690" width="1" height="4" fill="rgb(172,13,0)"/>
<rect x="1527" y="690" width="2" height="4" fill="rgb(255,13,0)"/>
<rect x="1531" y="690" width="1" height="4" fill="rgb(255,13,0)"/>
<rect x="1535" y="690" width="1" height="4" fill="rgb(255,13,0)"/>
<rect x="1540" y="690" width="1" height="4" fill="rgb(255,13,0)"/>
<rect x="1543" y="690" width="1" height="4" fill="rgb(255,13,0)"/>
<rect x="1546" y="690" width="1" height="4" fill="rgb(255,13,0)"/>
<rect x="1548" y="690" width="1" height="4" fill="rgb(255,13,0)"/>
<rect x="1553" y="690" width="1" height="4" fill="rgb(255,13,0)"/>
<rect x="1558" y="690" width="1" height="4" fill="rgb(255,13,0)"/>
<rect x="1560" y="690" width="1" height="4" fill="rgb(255,13,0)"/>
<rect x="1564" y="690" width="1" height="4" fill="rgb(255,13,0)"/>
<rect x="1567" y="690" width="1" height="4" fill="rgb(255,13,0)"/>
<rect x="1569" y="690" width="1" height="4" fill="rgb(172,13,0)"/>
<rect x="1574" y="690" width="2" height="4" fill="rgb(172,13,0)"/>
<rect x="1578" y="690" width="2" height="4" fill="rgb(255,13,0)"/>
<rect x="1584" y="690" width="1" height="4" fill="rgb(172,13,0)"/>
<rect x="1588" y="690" width="1" height="4" fill="rgb(255,13,0)"/>
<rect x="1593" y="690" width="2" height="4" fill="rgb(255,13,0)"/>
<rect x="1596" y="690" width="1" height="4" fill="rgb(172,13,0)"/>
<rect x="1599" y="690" width="1" height="4" fill="rgb(255,13,0)"/>
<rect x="1601" y="690" width="1" height="4" fill="rgb(255,13,0)"/>
<rect x="1604" y="690" width="1" height="4" fill="rgb(172,13,0)"/>
<rect x="1608" y="690" width="1" height="4" fill="rgb(172,13,0)"/>
<rect x="1611" y="690" width="2" height="4" fill="rgb(255,13,0)"/>
<rect x="1615" y="690" width="1" height="4" fill="rgb(255,13,0)"/>
<rect x="1620" y="690" width="1" height="4" fill="rgb(255,13,0)"/>
<rect x="1622" y="690" width="1" height="4" fill="rgb(255,13,0)"/>
<rect x="1625" y="690" width="1" height="4" fill="rgb(172,13,0)"/>
<rect x="1628" y="690" width="2" height="4" fill="rgb(172,13,0)"/>
<rect x="1634" y="690" width="1" height="4" fill="rgb(172,13,0)"/>
<rect x="1637" y="690" width="1" height="4" fill="rgb(172,13,0)"/>
<rect x="1642" y="690" width="1" height="4" fill="rgb(255,13,0)"/>
<rect x="1645" y="690" width="1" height="4" fill="rgb(255,13,0)"/>
<rect x="1649" y="690" width="1" height="4" fill="rgb(255,13,0)"/>
<rect x="1652" y="690" width="1" height="4" fill="rgb(255,13,0)"/>
<rect x="1657" y="690" width="1" height="4" fill="rgb(255,13,0)"/>
<rect x="1661" y="690" width="1" height="4" fill="rgb(255,13,0)"/>
<rect x="1664" y="690" width="1" height="4" fill="rgb(172,13,0)"/>
<rect x="1666" y="690" width="1" height="4" fill="rgb(255,13,0)"/>
<rect x="1671" y="690" width="1" height="4" fill="rgb(255,13,0)"/>
<rect x="1675" y="690" width="1" height="4" fill="rgb(255,13,0)"/>
<rect x="1679" y="690" width="1" height="4" fill="rgb(172,13,0)"/>
<rect x="1684" y="690" width="1" height="4" fill="rgb(255,13,0)"/>
<rect x="1688" y="690" width="1" height="4" fill="rgb(255,13,0)"/>
<rect x="218" y="913" width="3" height="14" fill="rgb(4,76,0)"/>
<rect x="241" y="913" width="5" height="14" fill="rgb(5,76,0)"/>
<rect x="250" y="913" width="3" height="14" fill="rgb(14,76,0)"/>
<rect x="273" y="913" width="5" height="14" fill="rgb(5,76,0)"/>
<rect x="284" y="913" width="4" height="14" fill="rgb(6,76,0)"/>
<rect x="308" y="913" width="6" height="14" fill="rgb(11,76,0)"/>
<rect x="322" y="913" width="2" height="14" fill="rgb(4,76,0)"/>
<rect x="330" y="913" width="3" height="14" fill="rgb(7,76,0)"/>
<rect x="337" y="913" width="6" height="14" fill="rgb(6,76,0)"/>
<rect x="353" y="913" width="4" height="14" fill="rgb(11,76,0)"/>
<rect x="359" y="913" width="3" height="14" fill="rgb(16,76,0)"/>
<rect x="366" y="913" width="6" height="14" fill="rgb(37,76,0)"/>
<rect x="386" y="913" width="2" height="14" fill="rgb(9,76,0)"/>
<rect x="398" y="913" width="2" height="14" fill="rgb(13,76,0)"/>
<rect x="402" y="913" width="4" height="14" fill="rgb(16,76,0)"/>
<rect x="416" y="913" width="3" height="14" fill="rgb(7,76,0)"/>
<rect x="439" y="913" width="5" height="14" fill="rgb(11,76,0)"/>
<rect x="447" y="913" width="2" height="14" fill="rgb(6,76,0)"/>
<rect x="452" y="913" width="2" height="14" fill="rgb(4,76,0)"/>
<rect x="457" y="913" width="6" height="14" fill="rgb(17,76,0)"/>
<rect x="465" y="913" width="2" height="14" fill="rgb(39,76,0)"/>
<rect x="477" y="913" width="4" height="14" fill="rgb(36,76,0)"/>
<rect x="491" y="913" width="5" height="14" fill="rgb(16,76,0)"/>
<rect x="498" y="913" width="2" height="14" fill="rgb(18,76,0)"/>
<rect x="502" y="913" width="5" height="14" fill="rgb(10,76,0)"/>
<rect x="521" y="913" width="3" height="14" fill="rgb(11,76,0)"/>
<rect x="530" y="913" width="4" height="14" fill="rgb(6,76,0)"/>
<rect x="536" y="913" width="6" height="14" fill="rgb(33,76,0)"/>
<rect x="545" y="913" width="5" height="14" fill="rgb(6,76,0)"/>
<rect x="552" y="913" width="2" height="14" fill="rgb(47,76,0)"/>
<rect x="556" y="913" width="4" height="14" fill="rgb(16,76,0)"/>
<rect x="563" y="913" width="2" height="14" fill="rgb(43,76,0)"/>
<rect x="567" y="913" width="2" height="14" fill="rgb(7,76,0)"/>
<rect x="571" y="913" width="3" height="14" fill="rgb(14,76,0)"/>
<rect x="594" y="913" width="6" height="14" fill="rgb(17,76,0)"/>
<rect x="604" y="913" width="6" height="14" fill="rgb(8,76,0)"/>
<rect x="613" y="913" width="2" height="14" fill="rgb(16,76,0)"/>
<rect x="618" y="913" width="2" height="14" fill="rgb(11,76,0)"/>
<rect x="628" y="913" width="3" height="14" fill="rgb(6,76,0)"/>
<rect x="639" y="913" width="4" height="14" fill="rgb(39,76,0)"/>
<rect x="645" y="913" width="4" height="14" fill="rgb(6,76,0)"/>
<rect x="651" y="913" width="4" height="14" fill="rgb(10,76,0)"/>
<rect x="657" y="913" width="5" height="14" fill="rgb(4,76,0)"/>
<rect x="682" y="913" width="2" height="14" fill="rgb(6,76,0)"/>
<rect x="688" y="913" width="4" height="14" fill="rgb(4,76,0)"/>
<rect x="702" y="913" width="6" height="14" fill="rgb(14,76,0)"/>
<rect x="711" y="913" width="3" height="14" fill="rgb(16,76,0)"/>
<rect x="717" y="913" width="2" height="14" fill="rgb(38,76,0)"/>
<rect x="721" y="913" width="6" height="14" fill="rgb(6,76,0)"/>
<rect x="747" y="913" width="5" height="14" fill="rgb(11,76,0)"/>
<rect x="762" y="913" width="5" height="14" fill="rgb(7,76,0)"/>
<rect x="769" y="913" width="5" height="14" fill="rgb(7,76,0)"/>
<rect x="782" y="913" width="4" height="14" fill="rgb(15,76,0)"/>
<rect x="800" y="913" width="5" height="14" fill="rgb(35,76,0)"/>
<rect x="809" y="913" width="2" height="14" fill="rgb(39,76,0)"/>
<rect x="813" y="913" width="6" height="14" fill="rgb(13,76,0)"/>
<rect x="827" y="913" width="6" height="14" fill="rgb(38,76,0)"/>
<rect x="839" y="913" width="5" height="14" fill="rgb(12,76,0)"/>
<rect x="864" y="913" width="2" height="14" fill="rgb(8,76,0)"/>
<rect x="868" y="913" width="2" height="14" fill="rgb(9,76,0)"/>
<rect x="884" y="913" width="4" height="14" fill="rgb(15,76,0)"/>
<rect x="898" y="913" width="5" height="14" fill="rgb(13,76,0)"/>
<rect x="923" y="913" width="6" height="14" fill="rgb(14,76,0)"/>
<rect x="932" y="913" width="4" height="14" fill="rgb(8,76,0)"/>
<rect x="938" y="913" width="2" height="14" fill="rgb(18,76,0)"/>
<rect x="948" y="913" width="4" height="14" fill="rgb(11,76,0)"/>
<rect x="955" y="913" width="2" height="14" fill="rgb(12,76,0)"/>
<rect x="960" y="913" width="3" height="14" fill="rgb(16,76,0)"/>
<rect x="973" y="913" width="2" height="14" fill="rgb(12,76,0)"/>
<rect x="983" y="913" width="3" height="14" fill="rgb(10,76,0)"/>
<rect x="994" y="913" width="5" height="14" fill="rgb(5,76,0)"/>
<rect x="1013" y="913" width="2" height="14" fill="rgb(8,76,0)"/>
<rect x="1035" y="913" width="3" height="14" fill="rgb(4,76,0)"/>
<rect x="1058" y="913" width="2" height="14" fill="rgb(7,76,0)"/>
<rect x="1068" y="913" width="2" height="14" fill="rgb(4,76,0)"/>
<rect x="1072" y="913" width="4" height="14" fill="rgb(11,76,0)"/>
<rect x="1086" y="913" width="5" height="14" fill="rgb(6,76,0)"/>
<rect x="1095" y="913" width="5" height="14" fill="rgb(16,76,0)"/>
<rect x="1120" y="913" width="4" height="14" fill="rgb(4,76,0)"/>
<rect x="1128" y="913" width="5" height="14" fill="rgb(10,76,0)"/>
<rect x="1143" y="913" width="2" height="14" fill="rgb(12,76,0)"/>
<rect x="1149" y="913" width="2" height="14" fill="rgb(12,76,0)"/>
<rect x="1159" y="913" width="2" height="14" fill="rgb(4,76,0)"/>
<rect x="1167" y="913" width="6" height="14" fill="rgb(5,76,0)"/>
<rect x="1193" y="913" width="3" height="14" fill="rgb(17,76,0)"/>
<rect x="1206" y="913" width="3" height="14" fill="rgb(6,76,0)"/>
<rect x="1213" y="913" width="3" height="14" fill="rgb(34,76,0)"/>
<rect x="1236" y="913" width="2" height="14" fill="rgb(16,76,0)"/>
<rect x="1241" y="913" width="2" height="14" fill="rgb(15,76,0)"/>
<rect x="1246" y="913" width="3" height="14" fill="rgb(16,76,0)"/>
<rect x="1269" y="913" width="6" height="14" fill="rgb(4,76,0)"/>
<rect x="1278" y="913" width="4" height="14" fill="rgb(6,76,0)"/>
<rect x="1292" y="913" width="4" height="14" fill="rgb(7,76,0)"/>
<rect x="1298" y="913" width="2" height="14" fill="rgb(18,76,0)"/>
<rect x="1308" y="913" width="4" height="14" fill="rgb(7,76,0)"/>
<rect x="1314" y="913" width="3" height="14" fill="rgb(16,76,0)"/>
<rect x="1337" y="913" width="6" height="14" fill="rgb(10,76,0)"/>
<rect x="1351" y="913" width="6" height="14" fill="rgb(36,76,0)"/>
<rect x="1360" y="913" width="2" height="14" fill="rgb(7,76,0)"/>
<rect x="1372" y="913" width="3" height="14" fill="rgb(16,76,0)"/>
<rect x="1378" y="913" width="2" height="14" fill="rgb(15,76,0)"/>
<rect x="1400" y="913" width="2" height="14" fill="rgb(11,76,0)"/>
<rect x="1408" y="913" width="2" height="14" fill="rgb(8,76,0)"/>
<rect x="1418" y="913" width="4" height="14" fill="rgb(8,76,0)"/>
<rect x="1436" y="913" width="2" height="14" fill="rgb(5,76,0)"/>
<rect x="1446" y="913" width="2" height="14" fill="rgb(14,76,0)"/>
<rect x="1450" y="913" width="3" height="14" fill="rgb(17,76,0)"/>
<rect x="1459" y="913" width="5" height="14" fill="rgb(15,76,0)"/>
<rect x="1472" y="913" width="5" height="14" fill="rgb(11,76,0)"/>
<rect x="1480" y="913" width="5" height="14" fill="rgb(7,76,0)"/>
<rect x="1495" y="913" width="5" height="14" fill="rgb(8,76,0)"/>
<rect x="1506" y="913" width="4" height="14" fill="rgb(15,76,0)"/>
<rect x="1518" y="913" width="5" height="14" fill="rgb(46,76,0)"/>
<rect x="1526" y="913" width="3" height="14" fill="rgb(4,76,0)"/>
<rect x="1535" y="913" width="2" height="14" fill="rgb(13,76,0)"/>
<rect x="1557" y="913" width="5" height="14" fill="rgb(13,76,0)"/>
<rect x="1570" y="913" width="4" height="14" fill="rgb(42,76,0)"/>
<rect x="1576" y="913" width="5" height="14" fill="rgb(11,76,0)"/>
<rect x="1589" y="913" width="5" height="14" fill="rgb(16,76,0)"/>
<rect x="1600" y="913" width="2" height="14" fill="rgb(7,76,0)"/>
<rect x="1606" y="913" width="4" height="14" fill="rgb(16,76,0)"/>
<rect x="1624" y="913" width="3" height="14" fill="rgb(15,76,0)"/>
<rect x="1631" y="913" width="2" height="14" fill="rgb(18,76,0)"/>
<rect x="1635" y="913" width="6" height="14" fill="rgb(5,76,0)"/>
<rect x="1644" y="913" width="2" height="14" fill="rgb(16,76,0)"/>
<rect x="1656" y="913" width="5" height="14" fill="rgb(7,76,0)"/>
<rect x="1669" y="913" width="2" height="14" fill="rgb(16,76,0)"/>
<rect x="1674" y="913" width="2" height="14" fill="rgb(6,76,0)"/>
<rect x="666" y="880" width="6" height="5" fill="rgb(255,8,0)"/>
<rect x="674" y="880" width="1" height="5" fill="rgb(255,8,0)"/>
<rect x="676" y="880" width="2" height="5" fill="rgb(255,8,0)"/>
<rect x="680" y="880" width="1" height="5" fill="rgb(255,8,0)"/>
<rect x="683" y="880" width="2" height="5" fill="rgb(255,8,0)"/>
<rect x="685" y="880" width="1" height="5" fill="rgb(192,8,0)"/>
<rect x="686" y="880" width="2" height="5" fill="rgb(255,8,0)"/>
<rect x="688" y="880" width="1" height="5" fill="rgb(192,8,0)"/>
<rect x="689" y="880" width="2" height="5" fill="rgb(255,8,0)"/>
<rect x="691" y="880" width="1" height="5" fill="rgb(192,8,0)"/>
<rect x="692" y="880" width="2" height="5" fill="rgb(255,8,0)"/>
<rect x="694" y="880" width="1" height="5" fill="rgb(192,8,0)"/>
<rect x="695" y="880" width="3" height="5" fill="rgb(235,8,0)"/>
<rect x="933" y="880" width="2" height="5" fill="rgb(255,8,0)"/>
<rect x="937" y="880" width="6" height="5" fill="rgb(255,8,0)"/>
<rect x="946" y="880" width="4" height="5" fill="rgb(146,8,0)"/>
<rect x="966" y="880" width="4" height="5" fill="rgb(255,8,0)"/>
<rect x="985" y="880" width="3" height="5" fill="rgb(255,8,0)"/>
<rect x="1121" y="880" width="1" height="5" fill="rgb(221,8,0)"/>
<rect x="1134" y="880" width="6" height="5" fill="rgb(255,8,0)"/>
<rect x="1144" y="880" width="7" height="5" fill="rgb(255,8,0)"/>
<rect x="1158" y="880" width="3" height="5" fill="rgb(255,8,0)"/>
<rect x="1198" y="880" width="8" height="5" fill="rgb(255,8,0)"/>
<rect x="1210" y="880" width="13" height="5" fill="rgb(255,8,0)"/>
<rect x="1237" y="880" width="1" height="5" fill="rgb(235,8,0)"/>
<rect x="1249" y="880" width="1" height="5" fill="rgb(255,8,0)"/>
<rect x="1258" y="880" width="4" height="5" fill="rgb(255,8,0)"/>
<rect x="604" y="899" width="6" height="4" fill="rgb(72,51,0)"/>
<rect x="438" y="907" width="6" height="4" fill="rgb(58,51,0)"/>
<rect x="498" y="907" width="5" height="4" fill="rgb(125,51,0)"/>
<rect x="684" y="969" width="6" height="5" fill="rgb(125,51,0)"/>
<rect x="711" y="969" width="4" height="5" fill="rgb(125,51,0)"/>
<rect x="777.5" y="969" width="3.5" height="5" fill="rgb(125,51,0)"/>
<rect x="851" y="969" width="4" height="5" fill="rgb(125,51,0)"/>
<rect x="232" y="969" width="14" height="5" fill="rgb(39,76,0)"/>
<rect x="1270" y="870" width="7" height="10" fill="rgb(83,64,0)"/>
<rect x="1277" y="875" width="414" height="5" fill="rgb(2,89,0)"/>
<rect x="1424" y="888" width="7" height="9" fill="rgb(138,51,0)"/>
<rect x="1449" y="888" width="4" height="5" fill="rgb(101,51,0)"/>
<rect x="206" y="894" width="194" height="5" fill="rgb(0,88,0)"/>
<rect x="400" y="894" width="300" height="5" fill="rgb(0,71,0)"/>
<rect x="206" y="875" width="908" height="5" fill="rgb(0,68,0)"/>
<rect x="236" y="728" width="1" height="14" fill="rgb(7,38,0)"/>
<rect x="256" y="728" width="1" height="14" fill="rgb(7,38,0)"/>
<rect x="355" y="728" width="1" height="14" fill="rgb(7,38,0)"/>
<rect x="375" y="728" width="1" height="14" fill="rgb(7,38,0)"/>
<rect x="474" y="728" width="1" height="14" fill="rgb(7,38,0)"/>
<rect x="494" y="728" width="1" height="14" fill="rgb(7,38,0)"/>
<rect x="594" y="728" width="1" height="14" fill="rgb(7,38,0)"/>
<rect x="613" y="728" width="1" height="14" fill="rgb(7,38,0)"/>
<rect x="713" y="728" width="1" height="14" fill="rgb(7,38,0)"/>
<rect x="732" y="728" width="1" height="14" fill="rgb(7,38,0)"/>
<rect x="831" y="728" width="1" height="14" fill="rgb(7,38,0)"/>
<rect x="851" y="728" width="1" height="14" fill="rgb(7,38,0)"/>
<rect x="950" y="728" width="1" height="14" fill="rgb(7,38,0)"/>
<rect x="970" y="728" width="1" height="14" fill="rgb(7,38,0)"/>
<rect x="1049" y="728" width="1" height="14" fill="rgb(7,38,0)"/>
<rect x="1069" y="728" width="1" height="14" fill="rgb(7,38,0)"/>
<rect x="1089" y="728" width="1" height="14" fill="rgb(7,38,0)"/>
<rect x="1168" y="728" width="1" height="14" fill="rgb(7,38,0)"/>
<rect x="1188" y="728" width="1" height="14" fill="rgb(7,38,0)"/>
<rect x="1208" y="728" width="1" height="14" fill="rgb(7,38,0)"/>
<rect x="1287" y="728" width="1" height="14" fill="rgb(7,38,0)"/>
<rect x="1307" y="728" width="1" height="14" fill="rgb(7,38,0)"/>
<rect x="1327" y="728" width="1" height="14" fill="rgb(7,38,0)"/>
<rect x="1406" y="728" width="1" height="14" fill="rgb(7,38,0)"/>
<rect x="1426" y="728" width="1" height="14" fill="rgb(7,38,0)"/>
<rect x="1446" y="728" width="1" height="14" fill="rgb(7,38,0)"/>
<rect x="1525" y="728" width="1" height="14" fill="rgb(7,38,0)"/>
<rect x="1545" y="728" width="1" height="14" fill="rgb(7,38,0)"/>
<rect x="1565" y="728" width="1" height="14" fill="rgb(7,38,0)"/>
<rect x="1644" y="728" width="1" height="14" fill="rgb(7,38,0)"/>
<rect x="1664" y="728" width="1" height="14" fill="rgb(7,38,0)"/>
<rect x="1684" y="728" width="1" height="14" fill="rgb(7,38,0)"/>
<rect x="1303" y="870" width="3" height="5" fill="rgb(64,76,0)"/>
<rect x="1326" y="870" width="5" height="5" fill="rgb(64,76,0)"/>
<rect x="1336" y="870" width="3" height="5" fill="rgb(64,76,0)"/>
<rect x="1352" y="870" width="3" height="5" fill="rgb(64,76,0)"/>
<rect x="1363.6" y="870" width="7.4" height="5" fill="rgb(64,76,0)"/>
<rect x="1186.7" y="903" width="7.6" height="5" fill="rgb(52,76,0)"/>
<rect x="1397" y="905" width="5" height="7" fill="rgb(39,76,0)"/>
<rect x="1405" y="905" width="4" height="7" fill="rgb(39,76,0)"/>
<rect x="1544" y="905" width="6" height="7" fill="rgb(52,76,0)"/>
<rect x="1564" y="905" width="10" height="7" fill="rgb(68,76,0)"/>
<rect x="1583" y="905" width="8" height="7" fill="rgb(52,76,0)"/>
<rect x="1250" y="969" width="6" height="5" fill="rgb(64,76,0)"/>
<rect x="1343" y="969" width="3" height="5" fill="rgb(64,76,0)"/>
<rect x="1367" y="969" width="2" height="5" fill="rgb(64,76,0)"/>
<rect x="1397" y="969" width="3" height="5" fill="rgb(64,76,0)"/>
<rect x="1103" y="975" width="1" height="20" fill="rgb(35,76,0)"/>
<rect x="1109" y="975" width="1" height="20" fill="rgb(35,76,0)"/>
<rect x="1112" y="975" width="1" height="20" fill="rgb(35,76,0)"/>
<rect x="1118" y="975" width="1" height="20" fill="rgb(35,76,0)"/>
<rect x="718" y="599" width="1" height="19" fill="rgb(19,76,0)"/>
<rect x="707" y="604" width="1" height="14" fill="rgb(22,76,0)"/>
<rect x="1443" y="604" width="1" height="19" fill="rgb(12,76,0)"/>
<rect x="683" y="609" width="1" height="14" fill="rgb(31,76,0)"/>
<rect x="1430" y="609" width="1" height="9" fill="rgb(31,76,0)"/>
<rect x="240" y="594" width="1" height="20" fill="rgb(9,76,0)"/>
<rect x="644" y="594" width="1" height="29" fill="rgb(37,76,0)"/>
<rect x="1408" y="594" width="1" height="20" fill="rgb(30,76,0)"/>
<rect x="436" y="609" width="1" height="5" fill="rgb(32,76,0)"/>
<rect x="1162" y="609" width="1" height="5" fill="rgb(28,76,0)"/>
<rect x="1680" y="594" width="1" height="20" fill="rgb(18,76,0)"/>
<rect x="1300" y="599" width="1" height="15" fill="rgb(37,76,0)"/>
<rect x="754" y="594" width="1" height="20" fill="rgb(33,76,0)"/>
<rect x="316" y="604" width="1" height="14" fill="rgb(16,76,0)"/>
<rect x="628" y="599" width="1" height="19" fill="rgb(25,76,0)"/>
<rect x="459" y="609" width="1" height="9" fill="rgb(17,76,0)"/>
<rect x="836" y="594" width="1" height="29" fill="rgb(38,76,0)"/>
<rect x="532" y="609" width="1" height="5" fill="rgb(35,76,0)"/>
<rect x="466" y="604" width="1" height="19" fill="rgb(23,76,0)"/>
<rect x="1558" y="599" width="1" height="19" fill="rgb(24,76,0)"/>
<rect x="640" y="599" width="1" height="24" fill="rgb(29,76,0)"/>
<rect x="914" y="599" width="1" height="15" fill="rgb(14,76,0)"/>
<rect x="978" y="609" width="1" height="5" fill="rgb(21,76,0)"/>
<rect x="752" y="599" width="1" height="19" fill="rgb(26,76,0)"/>
<rect x="354" y="609" width="1" height="5" fill="rgb(13,76,0)"/>
<rect x="685" y="609" width="1" height="5" fill="rgb(19,76,0)"/>
<rect x="1512" y="609" width="1" height="14" fill="rgb(30,76,0)"/>
<rect x="1159" y="609" width="1" height="14" fill="rgb(13,76,0)"/>
<rect x="308" y="609" width="1" height="14" fill="rgb(10,76,0)"/>
<rect x="1185" y="609" width="1" height="5" fill="rgb(29,76,0)"/>
<rect x="657" y="609" width="1" height="9" fill="rgb(38,76,0)"/>
<rect x="1472" y="599" width="1" height="24" fill="rgb(39,76,0)"/>
<rect x="823" y="609" width="1" height="5" fill="rgb(15,76,0)"/>
<rect x="999" y="594" width="1" height="20" fill="rgb(29,76,0)"/>
<rect x="498" y="604" width="1" height="10" fill="rgb(11,76,0)"/>
<rect x="532" y="609" width="1" height="5" fill="rgb(31,76,0)"/>
<rect x="1271" y="599" width="1" height="19" fill="rgb(24,76,0)"/>
<rect x="415" y="594" width="1" height="24" fill="rgb(19,76,0)"/>
<rect x="1168" y="594" width="1" height="20" fill="rgb(27,76,0)"/>
<rect x="916" y="594" width="1" height="29" fill="rgb(8,76,0)"/>
<rect x="607" y="594" width="1" height="24" fill="rgb(32,76,0)"/>
<rect x="346" y="604" width="1" height="14" fill="rgb(9,76,0)"/>
<rect x="1431" y="594" width="1" height="24" fill="rgb(27,76,0)"/>
<rect x="1598" y="604" width="1" height="19" fill="rgb(10,76,0)"/>
<rect x="1324" y="594" width="1" height="24" fill="rgb(21,76,0)"/>
<rect x="1363" y="604" width="1" height="10" fill="rgb(14,76,0)"/>
<rect x="1368" y="604" width="1" height="10" fill="rgb(15,76,0)"/>
<rect x="1117" y="609" width="1" height="5" fill="rgb(8,76,0)"/>
<rect x="1253" y="594" width="1" height="29" fill="rgb(11,76,0)"/>
<rect x="1150" y="609" width="1" height="9" fill="rgb(17,76,0)"/>
<rect x="834" y="609" width="1" height="5" fill="rgb(24,76,0)"/>
<rect x="892" y="609" width="1" height="14" fill="rgb(28,76,0)"/>
<rect x="1626" y="599" width="1" height="15" fill="rgb(27,76,0)"/>
<rect x="1169" y="599" width="1" height="24" fill="rgb(34,76,0)"/>
<rect x="590" y="609" width="1" height="5" fill="rgb(16,76,0)"/>
<rect x="1486" y="604" width="1" height="19" fill="rgb(16,76,0)"/>
<rect x="818" y="609" width="1" height="5" fill="rgb(24,76,0)"/>
<rect x="768" y="609" width="1" height="14" fill="rgb(24,76,0)"/>
<rect x="677" y="594" width="1" height="20" fill="rgb(24,76,0)"/>
<rect x="1020" y="604" width="1" height="19" fill="rgb(31,76,0)"/>
<rect x="888" y="609" width="1" height="14" fill="rgb(31,76,0)"/>
<rect x="1359" y="599" width="1" height="15" fill="rgb(23,76,0)"/>
<rect x="468" y="604" width="1" height="19" fill="rgb(8,76,0)"/>
<rect x="338" y="609" width="1" height="9" fill="rgb(21,76,0)"/>
<rect x="612" y="609" width="1" height="14" fill="rgb(23,76,0)"/>
<rect x="556" y="594" width="1" height="29" fill="rgb(31,76,0)"/>
<rect x="914" y="594" width="1" height="24" fill="rgb(24,76,0)"/>
<rect x="814" y="599" width="1" height="19" fill="rgb(34,76,0)"/>
<rect x="302" y="604" width="1" height="19" fill="rgb(35,76,0)"/>
<rect x="774" y="604" width="1" height="19" fill="rgb(35,76,0)"/>
<rect x="601" y="599" width="1" height="24" fill="rgb(33,76,0)"/>
<rect x="908" y="609" width="1" height="9" fill="rgb(16,76,0)"/>
<rect x="1584" y="599" width="1" height="24" fill="rgb(12,76,0)"/>
<rect x="1152" y="609" width="1" height="9" fill="rgb(9,76,0)"/>
<rect x="827" y="594" width="1" height="29" fill="rgb(36,76,0)"/>
<rect x="1345" y="609" width="1" height="14" fill="rgb(16,76,0)"/>
<rect x="474" y="599" width="1" height="19" fill="rgb(26,76,0)"/>
<rect x="845" y="599" width="1" height="15" fill="rgb(26,76,0)"/>
<rect x="1398" y="599" width="1" height="15" fill="rgb(20,76,0)"/>
<rect x="276" y="604" width="1" height="14" fill="rgb(8,76,0)"/>
<rect x="1097" y="609" width="1" height="14" fill="rgb(12,76,0)"/>
<rect x="467" y="604" width="1" height="14" fill="rgb(37,76,0)"/>
<rect x="358" y="594" width="1" height="24" fill="rgb(12,76,0)"/>
<rect x="637" y="599" width="1" height="15" fill="rgb(32,76,0)"/>
<rect x="1286" y="599" width="1" height="24" fill="rgb(18,76,0)"/>
<rect x="1592" y="604" width="1" height="10" fill="rgb(19,76,0)"/>
<rect x="585" y="594" width="1" height="24" fill="rgb(21,76,0)"/>
<rect x="1078" y="599" width="1" height="24" fill="rgb(27,76,0)"/>
<rect x="1281" y="594" width="1" height="24" fill="rgb(32,76,0)"/>
<rect x="1170" y="599" width="1" height="24" fill="rgb(9,76,0)"/>
<rect x="293" y="594" width="1" height="20" fill="rgb(21,76,0)"/>
<rect x="1261" y="609" width="1" height="14" fill="rgb(28,76,0)"/>
<rect x="389" y="594" width="1" height="24" fill="rgb(28,76,0)"/>
<rect x="643" y="609" width="1" height="5" fill="rgb(35,76,0)"/>
<rect x="1544" y="604" width="1" height="19" fill="rgb(35,76,0)"/>
<rect x="1045" y="599" width="1" height="19" fill="rgb(23,76,0)"/>
<rect x="1351" y="599" width="1" height="24" fill="rgb(27,76,0)"/>
<rect x="1475" y="599" width="1" height="15" fill="rgb(21,76,0)"/>
<rect x="216" y="604" width="1" height="10" fill="rgb(19,76,0)"/>
<rect x="509" y="609" width="1" height="9" fill="rgb(23,76,0)"/>
<rect x="1644" y="604" width="1" height="10" fill="rgb(26,76,0)"/>
<rect x="787" y="599" width="1" height="15" fill="rgb(33,76,0)"/>
<rect x="1687" y="604" width="1" height="14" fill="rgb(26,76,0)"/>
<rect x="350" y="604" width="1" height="14" fill="rgb(37,76,0)"/>
<rect x="1408" y="604" width="1" height="14" fill="rgb(23,76,0)"/>
<rect x="727" y="604" width="1" height="10" fill="rgb(39,76,0)"/>
<rect x="1584" y="609" width="1" height="14" fill="rgb(36,76,0)"/>
<rect x="1113" y="609" width="1" height="5" fill="rgb(14,76,0)"/>
<rect x="371" y="599" width="1" height="19" fill="rgb(8,76,0)"/>
<rect x="1187" y="604" width="1" height="14" fill="rgb(18,76,0)"/>
<rect x="739" y="594" width="1" height="20" fill="rgb(28,76,0)"/>
<rect x="1355" y="594" width="1" height="24" fill="rgb(39,76,0)"/>
<rect x="1463" y="609" width="1" height="14" fill="rgb(11,76,0)"/>
<rect x="295" y="594" width="1" height="29" fill="rgb(18,76,0)"/>
<rect x="573" y="594" width="1" height="24" fill="rgb(14,76,0)"/>
<rect x="369" y="599" width="1" height="19" fill="rgb(16,76,0)"/>
<rect x="1054" y="599" width="1" height="15" fill="rgb(31,76,0)"/>
<rect x="1484" y="599" width="1" height="15" fill="rgb(20,76,0)"/>
<rect x="1057" y="599" width="1" height="19" fill="rgb(17,76,0)"/>
<rect x="642" y="604" width="1" height="19" fill="rgb(17,76,0)"/>
<rect x="728" y="594" width="1" height="29" fill="rgb(37,76,0)"/>
<rect x="864" y="599" width="1" height="24" fill="rgb(20,76,0)"/>
<rect x="573" y="609" width="1" height="5" fill="rgb(33,76,0)"/>
<rect x="549" y="609" width="1" height="5" fill="rgb(17,76,0)"/>
<rect x="1285" y="594" width="1" height="29" fill="rgb(22,76,0)"/>
<rect x="292" y="599" width="1" height="15" fill="rgb(39,76,0)"/>
<rect x="371" y="599" width="1" height="19" fill="rgb(26,76,0)"/>
<rect x="1506" y="609" width="1" height="9" fill="rgb(30,76,0)"/>
<rect x="670" y="599" width="1" height="19" fill="rgb(33,76,0)"/>
<rect x="242" y="594" width="1" height="20" fill="rgb(30,76,0)"/>
<rect x="292" y="694" width="1" height="34" fill="rgb(12,76,0)"/>
<rect x="1187" y="704" width="1" height="19" fill="rgb(19,76,0)"/>
<rect x="1581" y="704" width="1" height="10" fill="rgb(2,76,0)"/>
<rect x="1394" y="709" width="1" height="19" fill="rgb(19,76,0)"/>
<rect x="1293" y="694" width="1" height="14" fill="rgb(14,76,0)"/>
<rect x="711" y="694" width="1" height="34" fill="rgb(2,76,0)"/>
<rect x="1588" y="699" width="1" height="10" fill="rgb(4,76,0)"/>
<rect x="1329" y="694" width="1" height="10" fill="rgb(6,76,0)"/>
<rect x="275" y="694" width="1" height="19" fill="rgb(5,76,0)"/>
<rect x="1149" y="699" width="1" height="14" fill="rgb(6,76,0)"/>
<rect x="1143" y="694" width="1" height="10" fill="rgb(5,76,0)"/>
<rect x="1261" y="694" width="1" height="10" fill="rgb(1,76,0)"/>
<rect x="441" y="694" width="1" height="19" fill="rgb(10,76,0)"/>
<rect x="275" y="694" width="1" height="34" fill="rgb(17,76,0)"/>
<rect x="1162" y="709" width="1" height="19" fill="rgb(20,76,0)"/>
<rect x="478" y="694" width="1" height="10" fill="rgb(11,76,0)"/>
<rect x="726" y="709" width="1" height="19" fill="rgb(5,76,0)"/>
<rect x="243" y="704" width="1" height="10" fill="rgb(4,76,0)"/>
<rect x="1346" y="704" width="1" height="19" fill="rgb(11,76,0)"/>
<rect x="1372" y="694" width="1" height="24" fill="rgb(15,76,0)"/>
<rect x="767" y="709" width="1" height="19" fill="rgb(4,76,0)"/>
<rect x="521" y="699" width="1" height="10" fill="rgb(6,76,0)"/>
<rect x="844" y="709" width="1" height="10" fill="rgb(8,76,0)"/>
<rect x="1331" y="694" width="1" height="19" fill="rgb(20,76,0)"/>
<rect x="207" y="694" width="1" height="24" fill="rgb(15,76,0)"/>
<rect x="593" y="699" width="1" height="10" fill="rgb(19,76,0)"/>
<rect x="1059" y="694" width="1" height="10" fill="rgb(2,76,0)"/>
<rect x="1520" y="699" width="1" height="10" fill="rgb(10,76,0)"/>
<rect x="216" y="699" width="1" height="14" fill="rgb(14,76,0)"/>
<rect x="1522" y="694" width="1" height="24" fill="rgb(17,76,0)"/>
<rect x="1093" y="694" width="1" height="34" fill="rgb(20,76,0)"/>
<rect x="354" y="704" width="1" height="24" fill="rgb(13,76,0)"/>
<rect x="965" y="694" width="1" height="34" fill="rgb(9,76,0)"/>
<rect x="892" y="704" width="1" height="14" fill="rgb(2,76,0)"/>
<rect x="1560" y="694" width="1" height="24" fill="rgb(20,76,0)"/>
<rect x="678" y="699" width="1" height="19" fill="rgb(5,76,0)"/>
<rect x="1502" y="709" width="1" height="14" fill="rgb(16,76,0)"/>
<rect x="961" y="704" width="1" height="24" fill="rgb(16,76,0)"/>
<rect x="438" y="694" width="1" height="10" fill="rgb(3,76,0)"/>
<rect x="1663" y="709" width="1" height="14" fill="rgb(11,76,0)"/>
<rect x="916" y="699" width="1" height="10" fill="rgb(12,76,0)"/>
<rect x="1601" y="704" width="1" height="10" fill="rgb(8,76,0)"/>
<rect x="743" y="704" width="1" height="24" fill="rgb(13,76,0)"/>
<rect x="376" y="709" width="1" height="14" fill="rgb(5,76,0)"/>
<rect x="527" y="704" width="1" height="19" fill="rgb(11,76,0)"/>
<rect x="1094" y="699" width="1" height="14" fill="rgb(8,76,0)"/>
<rect x="662" y="709" width="1" height="14" fill="rgb(2,76,0)"/>
<rect x="525" y="694" width="1" height="34" fill="rgb(4,76,0)"/>
<rect x="861" y="694" width="1" height="24" fill="rgb(18,76,0)"/>
<rect x="1385" y="694" width="1" height="10" fill="rgb(17,76,0)"/>
<rect x="657" y="704" width="1" height="24" fill="rgb(9,76,0)"/>
<rect x="1522" y="694" width="1" height="24" fill="rgb(15,76,0)"/>
<rect x="589" y="694" width="1" height="19" fill="rgb(5,76,0)"/>
<rect x="537" y="704" width="1" height="10" fill="rgb(11,76,0)"/>
<rect x="407" y="704" width="1" height="24" fill="rgb(8,76,0)"/>
<rect x="237" y="694" width="1" height="10" fill="rgb(8,76,0)"/>
<rect x="1231" y="694" width="1" height="34" fill="rgb(17,76,0)"/>
<rect x="1398" y="709" width="1" height="19" fill="rgb(8,76,0)"/>
<rect x="1686" y="694" width="1" height="14" fill="rgb(20,76,0)"/>
<rect x="1329" y="694" width="1" height="34" fill="rgb(5,76,0)"/>
<rect x="514" y="694" width="1" height="19" fill="rgb(16,76,0)"/>
<rect x="381" y="699" width="1" height="10" fill="rgb(18,76,0)"/>
<rect x="275" y="694" width="1" height="19" fill="rgb(8,76,0)"/>
<rect x="1257" y="699" width="1" height="29" fill="rgb(20,76,0)"/>
<rect x="1382" y="694" width="1" height="19" fill="rgb(5,76,0)"/>
<rect x="1510" y="704" width="1" height="24" fill="rgb(17,76,0)"/>
<rect x="1631" y="694" width="1" height="34" fill="rgb(6,76,0)"/>
<rect x="545" y="694" width="1" height="19" fill="rgb(3,76,0)"/>
<rect x="1156" y="709" width="1" height="19" fill="rgb(16,76,0)"/>
<rect x="275" y="699" width="1" height="10" fill="rgb(20,76,0)"/>
<rect x="1644" y="709" width="1" height="19" fill="rgb(12,76,0)"/>
<rect x="1286" y="694" width="1" height="14" fill="rgb(20,76,0)"/>
<rect x="716" y="699" width="1" height="24" fill="rgb(5,76,0)"/>
<rect x="473" y="704" width="1" height="10" fill="rgb(8,76,0)"/>
<rect x="1005" y="709" width="1" height="19" fill="rgb(9,76,0)"/>
<rect x="708" y="709" width="1" height="19" fill="rgb(4,76,0)"/>
<rect x="219" y="704" width="1" height="19" fill="rgb(4,76,0)"/>
<rect x="738" y="694" width="1" height="10" fill="rgb(19,76,0)"/>
<rect x="438" y="699" width="1" height="29" fill="rgb(13,76,0)"/>
<rect x="484" y="704" width="1" height="19" fill="rgb(17,76,0)"/>
<rect x="265" y="694" width="1" height="19" fill="rgb(8,76,0)"/>
<rect x="716" y="709" width="1" height="19" fill="rgb(15,76,0)"/>
<rect x="900" y="694" width="1" height="19" fill="rgb(2,76,0)"/>
<rect x="1145" y="704" width="1" height="14" fill="rgb(10,76,0)"/>
<rect x="1632" y="699" width="1" height="10" fill="rgb(4,76,0)"/>
<rect x="500" y="699" width="1" height="14" fill="rgb(10,76,0)"/>
<rect x="1329" y="709" width="1" height="14" fill="rgb(13,76,0)"/>
<rect x="422" y="694" width="1" height="24" fill="rgb(4,76,0)"/>
<rect x="813" y="709" width="1" height="14" fill="rgb(7,76,0)"/>
<rect x="1635" y="694" width="1" height="14" fill="rgb(10,76,0)"/>
<rect x="705" y="704" width="1" height="24" fill="rgb(8,76,0)"/>
<rect x="509" y="694" width="1" height="14" fill="rgb(6,76,0)"/>
<rect x="872" y="699" width="1" height="19" fill="rgb(13,76,0)"/>
<rect x="1672" y="709" width="1" height="19" fill="rgb(16,76,0)"/>
<rect x="1078" y="704" width="1" height="14" fill="rgb(4,76,0)"/>
<rect x="1547" y="709" width="1" height="10" fill="rgb(6,76,0)"/>
<rect x="371" y="694" width="1" height="10" fill="rgb(17,76,0)"/>
<rect x="979" y="704" width="1" height="10" fill="rgb(2,76,0)"/>
<rect x="906" y="694" width="1" height="10" fill="rgb(17,76,0)"/>
<rect x="1533" y="704" width="1" height="10" fill="rgb(17,76,0)"/>
<rect x="1497" y="709" width="1" height="10" fill="rgb(2,76,0)"/>
<rect x="636" y="699" width="1" height="14" fill="rgb(3,76,0)"/>
<rect x="1500" y="699" width="1" height="10" fill="rgb(11,76,0)"/>
<rect x="1478" y="694" width="1" height="24" fill="rgb(4,76,0)"/>
<rect x="1628" y="694" width="1" height="24" fill="rgb(15,76,0)"/>
<rect x="1573" y="704" width="1" height="24" fill="rgb(16,76,0)"/>
<rect x="368" y="694" width="1" height="24" fill="rgb(20,76,0)"/>
<rect x="491" y="709" width="1" height="10" fill="rgb(7,76,0)"/>
<rect x="401" y="704" width="1" height="19" fill="rgb(13,76,0)"/>
<rect x="1245" y="699" width="1" height="10" fill="rgb(19,76,0)"/>
<rect x="567" y="704" width="1" height="19" fill="rgb(20,76,0)"/>
<rect x="1094" y="694" width="1" height="10" fill="rgb(2,76,0)"/>
<rect x="1428" y="699" width="1" height="14" fill="rgb(10,76,0)"/>
<rect x="877" y="694" width="1" height="14" fill="rgb(8,76,0)"/>
<rect x="1505" y="694" width="1" height="34" fill="rgb(10,76,0)"/>
<rect x="1411" y="699" width="1" height="24" fill="rgb(15,76,0)"/>
<rect x="1214" y="709" width="1" height="10" fill="rgb(18,76,0)"/>
<rect x="662" y="704" width="1" height="10" fill="rgb(19,76,0)"/>
<rect x="1494" y="709" width="1" height="19" fill="rgb(2,76,0)"/>
<rect x="1578" y="694" width="1" height="10" fill="rgb(8,76,0)"/>
<rect x="322" y="709" width="1" height="10" fill="rgb(12,76,0)"/>
<rect x="1584" y="704" width="1" height="10" fill="rgb(9,76,0)"/>
<rect x="1656" y="704" width="1" height="10" fill="rgb(13,76,0)"/>
<rect x="418" y="694" width="1" height="34" fill="rgb(8,76,0)"/>
<rect x="1373" y="694" width="1" height="14" fill="rgb(10,76,0)"/>
<rect x="1671" y="704" width="1" height="10" fill="rgb(8,76,0)"/>
<rect x="803" y="694" width="1" height="24" fill="rgb(6,76,0)"/>
<rect x="1539" y="694" width="1" height="24" fill="rgb(10,76,0)"/>
<rect x="1159" y="704" width="1" height="10" fill="rgb(18,76,0)"/>
<rect x="377" y="709" width="1" height="19" fill="rgb(11,76,0)"/>
<rect x="874" y="704" width="1" height="10" fill="rgb(12,76,0)"/>
<rect x="278" y="694" width="1" height="34" fill="rgb(8,76,0)"/>
<rect x="495" y="694" width="1" height="10" fill="rgb(18,76,0)"/>
<rect x="211" y="694" width="1" height="19" fill="rgb(16,76,0)"/>
<rect x="900" y="704" width="1" height="10" fill="rgb(8,76,0)"/>
<rect x="1107" y="699" width="1" height="24" fill="rgb(2,76,0)"/>
<rect x="633" y="709" width="1" height="19" fill="rgb(19,76,0)"/>
<rect x="247" y="694" width="1" height="10" fill="rgb(2,76,0)"/>
<rect x="1583" y="709" width="1" height="19" fill="rgb(6,76,0)"/>
<rect x="1685" y="704" width="1" height="10" fill="rgb(12,76,0)"/>
<rect x="600" y="699" width="1" height="24" fill="rgb(14,76,0)"/>
<rect x="1297" y="694" width="1" height="10" fill="rgb(2,76,0)"/>
<rect x="430" y="694" width="1" height="10" fill="rgb(7,76,0)"/>
<rect x="965" y="709" width="1" height="19" fill="rgb(17,76,0)"/>
<rect x="1193" y="709" width="1" height="19" fill="rgb(16,76,0)"/>
<rect x="1211" y="704" width="1" height="24" fill="rgb(9,76,0)"/>
<rect x="336" y="704" width="1" height="19" fill="rgb(7,76,0)"/>
<rect x="690" y="699" width="1" height="24" fill="rgb(8,76,0)"/>
<rect x="1070" y="694" width="1" height="34" fill="rgb(8,76,0)"/>
<rect x="474" y="699" width="1" height="14" fill="rgb(8,76,0)"/>
<rect x="428" y="694" width="1" height="19" fill="rgb(4,76,0)"/>
<rect x="462" y="694" width="1" height="10" fill="rgb(18,76,0)"/>
<rect x="1275" y="694" width="1" height="10" fill="rgb(6,76,0)"/>
<rect x="999" y="709" width="1" height="19" fill="rgb(18,76,0)"/>
<rect x="1606" y="709" width="1" height="10" fill="rgb(12,76,0)"/>
<rect x="1541" y="694" width="1" height="19" fill="rgb(12,76,0)"/>
<rect x="258" y="699" width="1" height="14" fill="rgb(3,76,0)"/>
<rect x="1320" y="704" width="1" height="24" fill="rgb(15,76,0)"/>
<rect x="670" y="694" width="1" height="10" fill="rgb(18,76,0)"/>
<rect x="985" y="704" width="1" height="19" fill="rgb(2,76,0)"/>
<rect x="393" y="694" width="1" height="24" fill="rgb(4,76,0)"/>
<rect x="1029" y="704" width="1" height="24" fill="rgb(12,76,0)"/>
<rect x="972" y="704" width="1" height="10" fill="rgb(11,76,0)"/>
<rect x="974" y="704" width="1" height="24" fill="rgb(5,76,0)"/>
<rect x="451" y="704" width="1" height="14" fill="rgb(4,76,0)"/>
<rect x="929" y="694" width="1" height="24" fill="rgb(14,76,0)"/>
<rect x="1333" y="694" width="1" height="10" fill="rgb(14,76,0)"/>
<rect x="611" y="709" width="1" height="19" fill="rgb(19,76,0)"/>
<rect x="1131" y="694" width="1" height="34" fill="rgb(18,76,0)"/>
<rect x="890" y="699" width="1" height="29" fill="rgb(13,76,0)"/>
<rect x="1390" y="594" width="26" height="10" fill="rgb(0,117,0)"/>
<rect x="1671" y="609" width="20" height="5" fill="rgb(38,128,0)"/>
<rect x="497" y="138" width="3" height="12" fill="rgb(52,76,0)"/>
<rect x="436" y="145" width="3" height="7" fill="rgb(27,76,0)"/>
<rect x="1571" y="138" width="4" height="14" fill="rgb(39,76,0)"/>
<rect x="1030" y="143" width="3" height="9" fill="rgb(20,76,0)"/>
<g style="mix-blend-mode:screen">
<rect x="206" y="111" width="1485" height="8" fill="url(#g8)"/>
<rect x="206" y="119" width="1485" height="5" fill="url(#g5)"/>
<rect x="206" y="124" width="1485" height="5" fill="url(#g5)"/>
<rect x="206" y="129" width="1485" height="5" fill="url(#g5)"/>
<rect x="206" y="134" width="1485" height="4" fill="url(#g4)"/>
<rect x="206" y="138" width="1485" height="5" fill="url(#g5)"/>
<rect x="206" y="143" width="1485" height="4" fill="url(#g4)"/>
<rect x="206" y="147" width="1485" height="5" fill="url(#g5)"/>
<rect x="206" y="152" width="1485" height="5" fill="url(#g5)"/>
<rect x="206" y="157" width="1485" height="5" fill="url(#g5)"/>
<rect x="206" y="162" width="1485" height="5" fill="url(#g5)"/>
<rect x="206" y="167" width="1485" height="5" fill="url(#g5)"/>
<rect x="206" y="172" width="1485" height="4" fill="url(#g4)"/>
<rect x="206" y="176" width="1485" height="5" fill="url(#g5)"/>
<rect x="206" y="181" width="1485" height="4" fill="url(#g4)"/>
<rect x="206" y="185" width="1485" height="5" fill="url(#g5)"/>
<rect x="206" y="190" width="1485" height="4" fill="url(#g4)"/>
<rect x="206" y="194" width="1485" height="7" fill="url(#g7)"/>
<rect x="206" y="201" width="1485" height="4" fill="url(#g4)"/>
<rect x="206" y="205" width="1485" height="4" fill="url(#g4)"/>
<rect x="206" y="209" width="1485" height="5" fill="url(#g5)"/>
<rect x="206" y="214" width="1485" height="4" fill="url(#g4)"/>
<rect x="206" y="218" width="1485" height="5" fill="url(#g5)"/>
<rect x="206" y="223" width="1485" height="5" fill="url(#g5)"/>
<rect x="206" y="228" width="1485" height="5" fill="url(#g5)"/>
<rect x="206" y="233" width="1485" height="5" fill="url(#g5)"/>
<rect x="206" y="238" width="1485" height="4" fill="url(#g4)"/>
<rect x="206" y="242" width="1485" height="5" fill="url(#g5)"/>
<rect x="206" y="247" width="1485" height="4" fill="url(#g4)"/>
<rect x="206" y="251" width="1485" height="5" fill="url(#g5)"/>
<rect x="206" y="256" width="1485" height="5" fill="url(#g5)"/>
<rect x="206" y="261" width="1485" height="4" fill="url(#g4)"/>
<rect x="206" y="265" width="1485" height="5" fill="url(#g5)"/>
<rect x="206" y="270" width="1485" height="5" fill="url(#g5)"/>
<rect x="206" y="275" width="1485" height="5" fill="url(#g5)"/>
<rect x="206" y="280" width="1485" height="4" fill="url(#g4)"/>
<rect x="206" y="284" width="1485" height="5" fill="url(#g5)"/>
<rect x="206" y="289" width="1485" height="5" fill="url(#g5)"/>
<rect x="206" y="294" width="1485" height="5" fill="url(#g5)"/>
<rect x="206" y="299" width="1485" height="5" fill="url(#g5)"/>
<rect x="206" y="304" width="1485" height="5" fill="url(#g5)"/>
<rect x="206" y="309" width="1485" height="6" fill="url(#g6)"/>
<rect x="206" y="315" width="1485" height="5" fill="url(#g5)"/>
<rect x="206" y="320" width="1485" height="5" fill="url(#g5)"/>
<rect x="206" y="325" width="1485" height="4" fill="url(#g4)"/>
<rect x="206" y="329" width="1485" height="5" fill="url(#g5)"/>
<rect x="206" y="334" width="1485" height="4" fill="url(#g4)"/>
<rect x="206" y="338" width="1485" height="5" fill="url(#g5)"/>
<rect x="206" y="343" width="1485" height="4" fill="url(#g4)"/>
<rect x="206" y="347" width="1485" height="5" fill="url(#g5)"/>
<rect x="206" y="352" width="1485" height="5" fill="url(#g5)"/>
<rect x="206" y="357" width="1485" height="4" fill="url(#g4)"/>
<rect x="206" y="361" width="1485" height="5" fill="url(#g5)"/>
<rect x="206" y="366" width="1485" height="5" fill="url(#g5)"/>
<rect x="206" y="371" width="1485" height="5" fill="url(#g5)"/>
<rect x="206" y="376" width="1485" height="123" fill="url(#g123)"/>
<rect x="206" y="499" width="1485" height="5" fill="url(#g5)"/>
<rect x="206" y="504" width="1485" height="5" fill="url(#g5)"/>
<rect x="206" y="509" width="1485" height="5" fill="url(#g5)"/>
<rect x="206" y="514" width="1485" height="5" fill="url(#g5)"/>
<rect x="206" y="519" width="1485" height="5" fill="url(#g5)"/>
<rect x="206" y="524" width="1485" height="4" fill="url(#g4)"/>
<rect x="206" y="528" width="1485" height="5" fill="url(#g5)"/>
<rect x="206" y="533" width="1485" height="57" fill="url(#g57)"/>
<rect x="206" y="590" width="1485" height="4" fill="url(#g4)"/>
<rect x="206" y="594" width="1485" height="5" fill="url(#g5)"/>
<rect x="206" y="599" width="1485" height="5" fill="url(#g5)"/>
<rect x="206" y="604" width="1485" height="5" fill="url(#g5)"/>
<rect x="206" y="609" width="1485" height="5" fill="url(#g5)"/>
<rect x="206" y="614" width="1485" height="4" fill="url(#g4)"/>
<rect x="206" y="618" width="1485" height="5" fill="url(#g5)"/>
<rect x="206" y="623" width="1485" height="5" fill="url(#g5)"/>
<rect x="206" y="628" width="1485" height="5" fill="url(#g5)"/>
<rect x="206" y="633" width="1485" height="4" fill="url(#g4)"/>
<rect x="206" y="637" width="1485" height="5" fill="url(#g5)"/>
<rect x="206" y="642" width="1485" height="5" fill="url(#g5)"/>
<rect x="206" y="647" width="1485" height="5" fill="url(#g5)"/>
<rect x="206" y="652" width="1485" height="4" fill="url(#g4)"/>
<rect x="206" y="656" width="1485" height="5" fill="url(#g5)"/>
<rect x="206" y="661" width="1485" height="5" fill="url(#g5)"/>
<rect x="206" y="666" width="1485" height="4" fill="url(#g4)"/>
<rect x="206" y="670" width="1485" height="5" fill="url(#g5)"/>
<rect x="206" y="675" width="1485" height="5" fill="url(#g5)"/>
<rect x="206" y="680" width="1485" height="5" fill="url(#g5)"/>
<rect x="206" y="685" width="1485" height="5" fill="url(#g5)"/>
<rect x="206" y="690" width="1485" height="4" fill="url(#g4)"/>
<rect x="206" y="694" width="1485" height="5" fill="url(#g5)"/>
<rect x="206" y="699" width="1485" height="5" fill="url(#g5)"/>
<rect x="206" y="704" width="1485" height="4" fill="url(#g4)"/>
<rect x="206" y="708" width="1485" height="5" fill="url(#g5)"/>
<rect x="206" y="713" width="1485" height="5" fill="url(#g5)"/>
<rect x="206" y="718" width="1485" height="5" fill="url(#g5)"/>
<rect x="206" y="723" width="1485" height="5" fill="url(#g5)"/>
<rect x="206" y="728" width="1485" height="4" fill="url(#g4)"/>
<rect x="206" y="732" width="1485" height="5" fill="url(#g5)"/>
<rect x="206" y="737" width="1485" height="5" fill="url(#g5)"/>
<rect x="206" y="742" width="1485" height="5" fill="url(#g5)"/>
<rect x="206" y="747" width="1485" height="66" fill="url(#g66)"/>
<rect x="206" y="813" width="1485" height="5" fill="url(#g5)"/>
<rect x="206" y="818" width="1485" height="5" fill="url(#g5)"/>
<rect x="206" y="823" width="1485" height="28" fill="url(#g28)"/>
<rect x="206" y="851" width="1485" height="5" fill="url(#g5)"/>
<rect x="206" y="856" width="1485" height="5" fill="url(#g5)"/>
<rect x="206" y="861" width="1485" height="4" fill="url(#g4)"/>
<rect x="206" y="865" width="1485" height="5" fill="url(#g5)"/>
<rect x="206" y="870" width="1485" height="5" fill="url(#g5)"/>
<rect x="206" y="875" width="1485" height="5" fill="url(#g5)"/>
<rect x="206" y="880" width="1485" height="5" fill="url(#g5)"/>
<rect x="206" y="885" width="1485" height="4" fill="url(#g4)"/>
<rect x="206" y="889" width="1485" height="5" fill="url(#g5)"/>
<rect x="206" y="894" width="1485" height="5" fill="url(#g5)"/>
<rect x="206" y="899" width="1485" height="4" fill="url(#g4)"/>
<rect x="206" y="903" width="1485" height="5" fill="url(#g5)"/>
<rect x="206" y="908" width="1485" height="4" fill="url(#g4)"/>
<rect x="206" y="912" width="1485" height="5" fill="url(#g5)"/>
<rect x="206" y="917" width="1485" height="5" fill="url(#g5)"/>
<rect x="206" y="922" width="1485" height="5" fill="url(#g5)"/>
<rect x="206" y="927" width="1485" height="5" fill="url(#g5)"/>
<rect x="206" y="932" width="1485" height="5" fill="url(#g5)"/>
<rect x="206" y="937" width="1485" height="5" fill="url(#g5)"/>
<rect x="206" y="942" width="1485" height="4" fill="url(#g4)"/>
<rect x="206" y="946" width="1485" height="4" fill="url(#g4)"/>
<rect x="206" y="950" width="1485" height="5" fill="url(#g5)"/>
<rect x="206" y="955" width="1485" height="5" fill="url(#g5)"/>
<rect x="206" y="960" width="1485" height="6" fill="url(#g6)"/>
<rect x="206" y="966" width="1485" height="4" fill="url(#g4)"/>
<rect x="206" y="970" width="1485" height="5" fill="url(#g5)"/>
<rect x="206" y="975" width="1485" height="5" fill="url(#g5)"/>
<rect x="206" y="980" width="1485" height="4" fill="url(#g4)"/>
<rect x="206" y="984" width="1485" height="4" fill="url(#g4)"/>
<rect x="206" y="988" width="1485" height="5" fill="url(#g5)"/>
<rect x="206" y="993" width="1485" height="5" fill="url(#g5)"/>
<rect x="206" y="998" width="1485" height="5" fill="url(#g5)"/>
<rect x="206" y="1003" width="1485" height="24" fill="url(#g24)"/>
<rect x="206" y="1027" width="1485" height="5" fill="url(#g5)"/>
<rect x="206" y="1032" width="1485" height="4" fill="url(#g4)"/>
<rect x="206" y="1036" width="1485" height="5" fill="url(#g5)"/>
<rect x="206" y="1041" width="1485" height="5" fill="url(#g5)"/>
<rect x="206" y="1046" width="1485" height="5" fill="url(#g5)"/>
<rect x="206" y="1051" width="1485" height="5" fill="url(#g5)"/>
<rect x="206" y="1056" width="1485" height="3" fill="url(#g3)"/>
</g></g>
<rect x="202.64" y="107.73" width="1491.63" height="3.33" fill="#fff"/>
<rect x="202.64" y="1058.84" width="1491.63" height="3.33" fill="#fff"/>
<rect x="202.64" y="107.73" width="3.33" height="954.43" fill="#fff"/>
<rect x="1690.93" y="107.73" width="3.33" height="954.43" fill="#fff"/>
<rect x="202.00" y="1060.50" width="4.00" height="21.20" fill="#fff"/>
<rect x="202.00" y="88.20" width="4.00" height="21.20" fill="#fff"/>
<rect x="301.00" y="1060.50" width="4.00" height="10.00" fill="#fff"/>
<rect x="301.00" y="99.40" width="4.00" height="10.00" fill="#fff"/>
<rect x="400.00" y="1060.50" width="4.00" height="10.00" fill="#fff"/>
<rect x="400.00" y="99.40" width="4.00" height="10.00" fill="#fff"/>
<rect x="499.00" y="1060.50" width="4.00" height="21.20" fill="#fff"/>
<rect x="499.00" y="88.20" width="4.00" height="21.20" fill="#fff"/>
<rect x="599.00" y="1060.50" width="4.00" height="10.00" fill="#fff"/>
<rect x="599.00" y="99.40" width="4.00" height="10.00" fill="#fff"/>
<rect x="698.00" y="1060.50" width="4.00" height="10.00" fill="#fff"/>
<rect x="698.00" y="99.40" width="4.00" height="10.00" fill="#fff"/>
<rect x="797.00" y="1060.50" width="4.00" height="21.20" fill="#fff"/>
<rect x="797.00" y="88.20" width="4.00" height="21.20" fill="#fff"/>
<rect x="896.00" y="1060.50" width="4.00" height="10.00" fill="#fff"/>
<rect x="896.00" y="99.40" width="4.00" height="10.00" fill="#fff"/>
<rect x="995.00" y="1060.50" width="4.00" height="10.00" fill="#fff"/>
<rect x="995.00" y="99.40" width="4.00" height="10.00" fill="#fff"/>
<rect x="1094.00" y="1060.50" width="4.00" height="21.20" fill="#fff"/>
<rect x="1094.00" y="88.20" width="4.00" height="21.20" fill="#fff"/>
<rect x="1193.00" y="1060.50" width="4.00" height="10.00" fill="#fff"/>
<rect x="1193.00" y="99.40" width="4.00" height="10.00" fill="#fff"/>
<rect x="1293.00" y="1060.50" width="4.00" height="10.00" fill="#fff"/>
<rect x="1293.00" y="99.40" width="4.00" height="10.00" fill="#fff"/>
<rect x="1392.00" y="1060.50" width="4.00" height="21.20" fill="#fff"/>
<rect x="1392.00" y="88.20" width="4.00" height="21.20" fill="#fff"/>
<rect x="1491.00" y="1060.50" width="4.00" height="10.00" fill="#fff"/>
<rect x="1491.00" y="99.40" width="4.00" height="10.00" fill="#fff"/>
<rect x="1590.00" y="1060.50" width="4.00" height="10.00" fill="#fff"/>
<rect x="1590.00" y="99.40" width="4.00" height="10.00" fill="#fff"/>
<rect x="1689.00" y="1060.50" width="4.00" height="21.20" fill="#fff"/>
<rect x="1689.00" y="88.20" width="4.00" height="21.20" fill="#fff"/>
<rect x="183.10" y="153.00" width="21.20" height="4.00" fill="#fff"/>
<rect x="1692.60" y="153.00" width="20.80" height="4.00" fill="#fff"/>
<rect x="183.10" y="229.00" width="21.20" height="4.00" fill="#fff"/>
<rect x="1692.60" y="229.00" width="20.80" height="4.00" fill="#fff"/>
<rect x="183.10" y="293.00" width="21.20" height="4.00" fill="#fff"/>
<rect x="1692.60" y="293.00" width="20.80" height="4.00" fill="#fff"/>
<rect x="183.10" y="349.00" width="21.20" height="4.00" fill="#fff"/>
<rect x="1692.60" y="349.00" width="20.80" height="4.00" fill="#fff"/>
<rect x="183.10" y="398.00" width="21.20" height="4.00" fill="#fff"/>
<rect x="1692.60" y="398.00" width="20.80" height="4.00" fill="#fff"/>
<rect x="183.10" y="442.00" width="21.20" height="4.00" fill="#fff"/>
<rect x="1692.60" y="442.00" width="20.80" height="4.00" fill="#fff"/>
<rect x="183.10" y="611.00" width="21.20" height="4.00" fill="#fff"/>
<rect x="1692.60" y="611.00" width="20.80" height="4.00" fill="#fff"/>
<rect x="183.10" y="730.00" width="21.20" height="4.00" fill="#fff"/>
<rect x="1692.60" y="730.00" width="20.80" height="4.00" fill="#fff"/>
<rect x="183.10" y="823.00" width="21.20" height="4.00" fill="#fff"/>
<rect x="1692.60" y="823.00" width="20.80" height="4.00" fill="#fff"/>
<rect x="183.10" y="899.00" width="21.20" height="4.00" fill="#fff"/>
<rect x="1692.60" y="899.00" width="20.80" height="4.00" fill="#fff"/>
<rect x="183.10" y="963.00" width="21.20" height="4.00" fill="#fff"/>
<rect x="1692.60" y="963.00" width="20.80" height="4.00" fill="#fff"/>
<rect x="183.10" y="1019.00" width="21.20" height="4.00" fill="#fff"/>
<rect x="1692.60" y="1019.00" width="20.80" height="4.00" fill="#fff"/>
<polygon points="252.30,1145.50 253.64,1149.36 257.72,1149.44 254.47,1151.90 255.65,1155.81 252.30,1153.48 248.95,1155.81 250.13,1151.90 246.88,1149.44 250.96,1149.36" fill="#fff"/>
<polygon points="217.40,1165.20 218.74,1169.06 222.82,1169.14 219.57,1171.60 220.75,1175.51 217.40,1173.18 214.05,1175.51 215.23,1171.60 211.98,1169.14 216.06,1169.06" fill="#fff"/>
<polygon points="234.90,1165.20 236.24,1169.06 240.32,1169.14 237.07,1171.60 238.25,1175.51 234.90,1173.18 231.55,1175.51 232.73,1171.60 229.48,1169.14 233.56,1169.06" fill="#fff"/>
<polygon points="252.30,1165.20 253.64,1169.06 257.72,1169.14 254.47,1171.60 255.65,1175.51 252.30,1173.18 248.95,1175.51 250.13,1171.60 246.88,1169.14 250.96,1169.06" fill="#fff"/>
<polygon points="269.70,1165.20 271.04,1169.06 275.12,1169.14 271.87,1171.60 273.05,1175.51 269.70,1173.18 266.35,1175.51 267.53,1171.60 264.28,1169.14 268.36,1169.06" fill="#fff"/>
<polygon points="287.20,1165.20 288.54,1169.06 292.62,1169.14 289.37,1171.60 290.55,1175.51 287.20,1173.18 283.85,1175.51 285.03,1171.60 281.78,1169.14 285.86,1169.06" fill="#fff"/>
<polygon points="226.10,1183.90 227.44,1187.76 231.52,1187.84 228.27,1190.30 229.45,1194.21 226.10,1191.88 222.75,1194.21 223.93,1190.30 220.68,1187.84 224.76,1187.76" fill="#fff"/>
<polygon points="243.50,1183.90 244.84,1187.76 248.92,1187.84 245.67,1190.30 246.85,1194.21 243.50,1191.88 240.15,1194.21 241.33,1190.30 238.08,1187.84 242.16,1187.76" fill="#fff"/>
<polygon points="260.90,1183.90 262.24,1187.76 266.32,1187.84 263.07,1190.30 264.25,1194.21 260.90,1191.88 257.55,1194.21 258.73,1190.30 255.48,1187.84 259.56,1187.76" fill="#fff"/>
<polygon points="278.40,1183.90 279.74,1187.76 283.82,1187.84 280.57,1190.30 281.75,1194.21 278.40,1191.88 275.05,1194.21 276.23,1190.30 272.98,1187.84 277.06,1187.76" fill="#fff"/>
</svg>
<div id="labels" style="position:absolute;left:0;top:0;width:1781px;height:1226px;filter:grayscale(1);">
<div class="t" id="title" style="left:0;top:23.3px;font-size:52.6px;width:1781px;height:53px;"><span style="position:absolute;left:281.0px;top:0;letter-spacing:2.18px">2023-09-29</span> <span style="position:absolute;left:585.4px;top:0;letter-spacing:0.56px">Radio</span> <span style="position:absolute;left:742.7px;top:0;letter-spacing:1.92px">flux</span> <span style="position:absolute;left:849.6px;top:0;letter-spacing:3.44px">density,</span> <span style="position:absolute;left:1066.8px;top:0;letter-spacing:-1.24px">e-CALLISTO</span> <span style="position:absolute;left:1372.4px;top:0;letter-spacing:-0.05px">(HUMAIN)</span></div>
<div class="t yl" style="top:155.1px">50</div>
<div class="t yl" style="top:231px">60</div>
<div class="t yl" style="top:295.2px">70</div>
<div class="t yl" style="top:350.8px">80</div>
<div class="t yl" style="top:399.9px">90</div>
<div class="t yl" style="top:443.7px">100</div>
<div class="t yl" style="top:612.6px">150</div>
<div class="t yl" style="top:732.4px">200</div>
<div class="t yl" style="top:825.3px">250</div>
<div class="t yl" style="top:901.2px">300</div>
<div class="t yl" style="top:965.4px">350</div>
<div class="t yl" style="top:1021px">400</div>
<div class="t xl" style="left:204px">07:30</div>
<div class="t xl" style="left:501.4px">07:33</div>
<div class="t xl" style="left:798.8px">07:36</div>
<div class="t xl" style="left:1096.3px">07:39</div>
<div class="t xl" style="left:1393.7px">07:42</div>
<div class="t xl" style="left:1691.1px">07:45</div>
<div class="t" id="xlab" style="left:0;top:1149.3px;font-size:45.5px;width:1781px;height:46px;"><span style="position:absolute;left:832.7px;top:0;letter-spacing:0.73px">Time</span> <span style="position:absolute;left:948.1px;top:0;letter-spacing:-1.01px">[UTC]</span></div>
<div class="t" id="ylab" style="left:46px;top:585.05px;font-size:45.5px;width:342.3px;height:45.5px;transform:translate(-50%,-50%) rotate(-90deg);"><span style="position:absolute;left:-3.0px;top:0;letter-spacing:-1.45px">Frequency</span> <span style="position:absolute;left:223.1px;top:0;letter-spacing:0.76px">[MHz]</span></div>
<div class="t lg" style="left:313px;top:1155.2px;">Royal Observatory</div>
<div class="t lg" style="left:313.5px;top:1175.2px;"><i style="font-family:'Liberation Serif',serif;font-size:16px;letter-spacing:0.5px">of</i><span style="margin-left:10.2px">Belgium</span></div>

</div>
</body></html>
